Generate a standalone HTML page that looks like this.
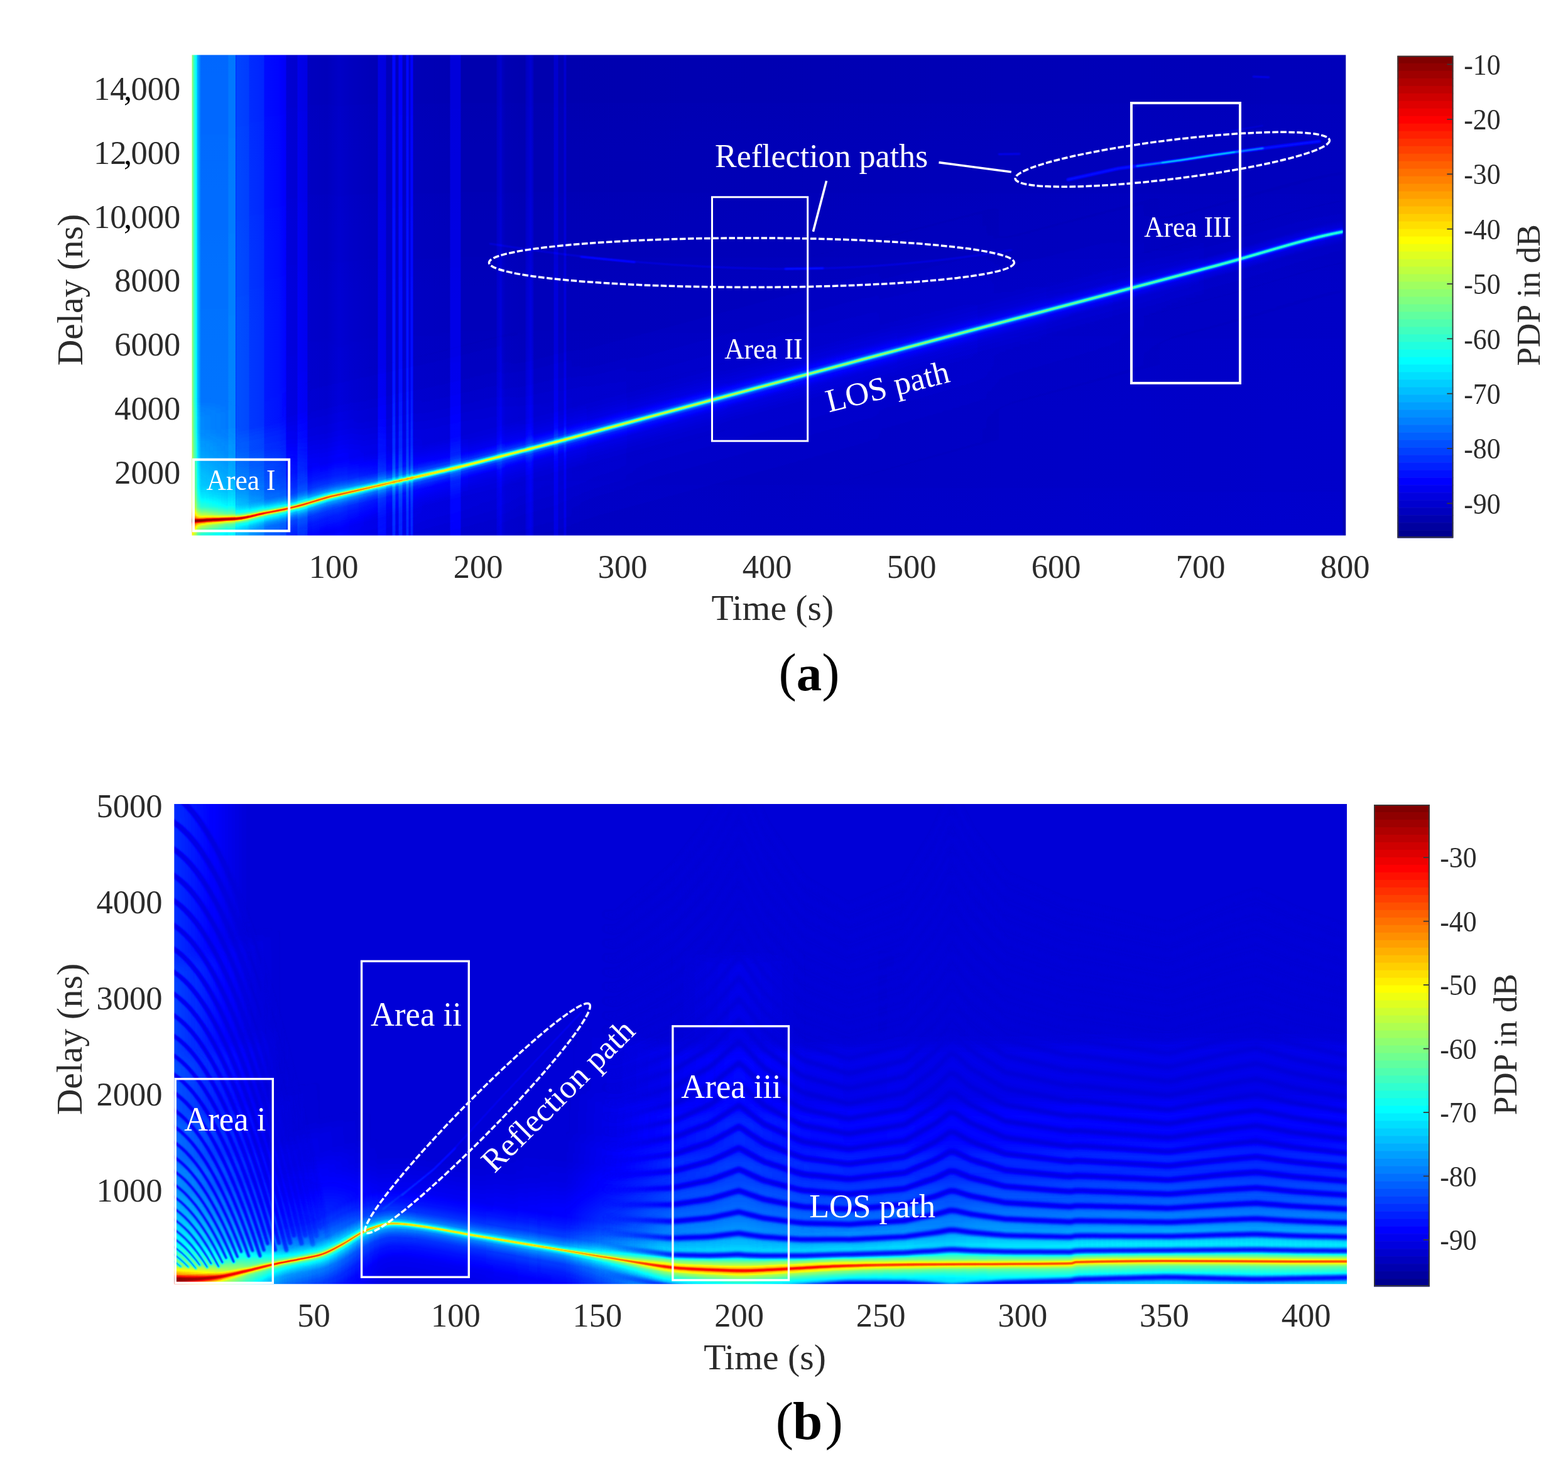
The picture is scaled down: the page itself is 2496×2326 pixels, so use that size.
<!DOCTYPE html>
<html lang="en"><head><meta charset="utf-8"><title>PDP figure</title>
<style>
html,body{margin:0;padding:0;background:#fff}
body{width:2496px;height:2326px;overflow:hidden;position:relative}
svg{position:absolute;left:0;top:0;display:block}
text{font-family:"Liberation Serif","DejaVu Serif",serif}
.t{fill:#2b2b2b}
.w{fill:#fff}
.bx{fill:none;stroke:#fff;stroke-width:4}
.el{fill:none;stroke:#fff;stroke-width:3.5;stroke-dasharray:9.6 3.4}
.ln{fill:none;stroke:#fff;stroke-width:3.6}
</style></head>
<body>
<svg width="2496" height="2326" viewBox="0 0 2496 2326">
<defs>
<filter id="jet" filterUnits="userSpaceOnUse" x="0" y="0" width="2496" height="2326" color-interpolation-filters="sRGB">
<feComponentTransfer>
<feFuncR type="table" tableValues="0 0 0 0 0.5 1 1 1 0.5"/>
<feFuncG type="table" tableValues="0 0 0.5 1 1 1 0.5 0 0"/>
<feFuncB type="table" tableValues="0.5 1 1 1 0.5 0 0 0 0"/>
</feComponentTransfer>
</filter>
<clipPath id="ca"><rect x="305.5" y="87.5" width="1836.8" height="765.1"/></clipPath>
<clipPath id="cb"><rect x="277.3" y="1280.0" width="1866.7" height="764.2"/></clipPath>
<filter id="ba07" filterUnits="userSpaceOnUse" x="200" y="0" width="2050" height="960" color-interpolation-filters="sRGB"><feGaussianBlur stdDeviation="0.5 0.5"/></filter>
<filter id="bb07" filterUnits="userSpaceOnUse" x="170" y="1180" width="2080" height="970" color-interpolation-filters="sRGB"><feGaussianBlur stdDeviation="0.5 0.5"/></filter>
<filter id="ba1" filterUnits="userSpaceOnUse" x="200" y="0" width="2050" height="960" color-interpolation-filters="sRGB"><feGaussianBlur stdDeviation="1 1"/></filter>
<filter id="bb1" filterUnits="userSpaceOnUse" x="170" y="1180" width="2080" height="970" color-interpolation-filters="sRGB"><feGaussianBlur stdDeviation="1 1"/></filter>
<filter id="ba15" filterUnits="userSpaceOnUse" x="200" y="0" width="2050" height="960" color-interpolation-filters="sRGB"><feGaussianBlur stdDeviation="1.5 1.5"/></filter>
<filter id="bb15" filterUnits="userSpaceOnUse" x="170" y="1180" width="2080" height="970" color-interpolation-filters="sRGB"><feGaussianBlur stdDeviation="1.5 1.5"/></filter>
<filter id="ba2" filterUnits="userSpaceOnUse" x="200" y="0" width="2050" height="960" color-interpolation-filters="sRGB"><feGaussianBlur stdDeviation="2 2"/></filter>
<filter id="bb2" filterUnits="userSpaceOnUse" x="170" y="1180" width="2080" height="970" color-interpolation-filters="sRGB"><feGaussianBlur stdDeviation="2 2"/></filter>
<filter id="ba3" filterUnits="userSpaceOnUse" x="200" y="0" width="2050" height="960" color-interpolation-filters="sRGB"><feGaussianBlur stdDeviation="3 3"/></filter>
<filter id="bb3" filterUnits="userSpaceOnUse" x="170" y="1180" width="2080" height="970" color-interpolation-filters="sRGB"><feGaussianBlur stdDeviation="3 3"/></filter>
<filter id="ba5" filterUnits="userSpaceOnUse" x="200" y="0" width="2050" height="960" color-interpolation-filters="sRGB"><feGaussianBlur stdDeviation="5 5"/></filter>
<filter id="bb5" filterUnits="userSpaceOnUse" x="170" y="1180" width="2080" height="970" color-interpolation-filters="sRGB"><feGaussianBlur stdDeviation="5 5"/></filter>
<filter id="ba10" filterUnits="userSpaceOnUse" x="200" y="0" width="2050" height="960" color-interpolation-filters="sRGB"><feGaussianBlur stdDeviation="10 10"/></filter>
<filter id="bb10" filterUnits="userSpaceOnUse" x="170" y="1180" width="2080" height="970" color-interpolation-filters="sRGB"><feGaussianBlur stdDeviation="10 10"/></filter>
</defs>
<defs>
<linearGradient id="ga" gradientUnits="userSpaceOnUse" x1="305.5" y1="0" x2="2142.3" y2="0"><stop offset="0.0000" stop-color="rgb(52.0%,52.0%,52.0%)"/><stop offset="0.0011" stop-color="rgb(47.0%,47.0%,47.0%)"/><stop offset="0.0019" stop-color="rgb(42.0%,42.0%,42.0%)"/><stop offset="0.0041" stop-color="rgb(36.0%,36.0%,36.0%)"/><stop offset="0.0046" stop-color="rgb(30.0%,30.0%,30.0%)"/><stop offset="0.0068" stop-color="rgb(25.0%,25.0%,25.0%)"/><stop offset="0.0079" stop-color="rgb(22.5%,22.5%,22.5%)"/><stop offset="0.0313" stop-color="rgb(22.5%,22.5%,22.5%)"/><stop offset="0.0318" stop-color="rgb(24.0%,24.0%,24.0%)"/><stop offset="0.0378" stop-color="rgb(24.0%,24.0%,24.0%)"/><stop offset="0.0381" stop-color="rgb(16.0%,16.0%,16.0%)"/><stop offset="0.0387" stop-color="rgb(19.0%,19.0%,19.0%)"/><stop offset="0.0493" stop-color="rgb(18.0%,18.0%,18.0%)"/><stop offset="0.0498" stop-color="rgb(16.5%,16.5%,16.5%)"/><stop offset="0.0623" stop-color="rgb(15.5%,15.5%,15.5%)"/><stop offset="0.0629" stop-color="rgb(13.5%,13.5%,13.5%)"/><stop offset="0.0759" stop-color="rgb(12.5%,12.5%,12.5%)"/><stop offset="0.0765" stop-color="rgb(12.0%,12.0%,12.0%)"/><stop offset="0.0814" stop-color="rgb(11.5%,11.5%,11.5%)"/><stop offset="0.0819" stop-color="rgb(8.0%,8.0%,8.0%)"/><stop offset="0.0912" stop-color="rgb(7.5%,7.5%,7.5%)"/><stop offset="0.0917" stop-color="rgb(10.0%,10.0%,10.0%)"/><stop offset="0.0999" stop-color="rgb(9.5%,9.5%,9.5%)"/><stop offset="0.1004" stop-color="rgb(6.0%,6.0%,6.0%)"/><stop offset="0.1168" stop-color="rgb(5.5%,5.5%,5.5%)"/><stop offset="0.1277" stop-color="rgb(6.5%,6.5%,6.5%)"/><stop offset="0.1386" stop-color="rgb(6.0%,6.0%,6.0%)"/><stop offset="0.1609" stop-color="rgb(5.2%,5.2%,5.2%)"/><stop offset="0.1614" stop-color="rgb(9.5%,9.5%,9.5%)"/><stop offset="0.1680" stop-color="rgb(9.0%,9.0%,9.0%)"/><stop offset="0.1685" stop-color="rgb(5.5%,5.5%,5.5%)"/><stop offset="0.1734" stop-color="rgb(5.5%,5.5%,5.5%)"/><stop offset="0.1739" stop-color="rgb(13.0%,13.0%,13.0%)"/><stop offset="0.1761" stop-color="rgb(13.0%,13.0%,13.0%)"/><stop offset="0.1767" stop-color="rgb(6.0%,6.0%,6.0%)"/><stop offset="0.1788" stop-color="rgb(6.0%,6.0%,6.0%)"/><stop offset="0.1794" stop-color="rgb(12.0%,12.0%,12.0%)"/><stop offset="0.1821" stop-color="rgb(12.0%,12.0%,12.0%)"/><stop offset="0.1827" stop-color="rgb(6.0%,6.0%,6.0%)"/><stop offset="0.1854" stop-color="rgb(6.0%,6.0%,6.0%)"/><stop offset="0.1859" stop-color="rgb(13.0%,13.0%,13.0%)"/><stop offset="0.1876" stop-color="rgb(13.0%,13.0%,13.0%)"/><stop offset="0.1881" stop-color="rgb(7.0%,7.0%,7.0%)"/><stop offset="0.1892" stop-color="rgb(7.0%,7.0%,7.0%)"/><stop offset="0.1897" stop-color="rgb(12.0%,12.0%,12.0%)"/><stop offset="0.1914" stop-color="rgb(12.0%,12.0%,12.0%)"/><stop offset="0.1919" stop-color="rgb(5.0%,5.0%,5.0%)"/><stop offset="0.2235" stop-color="rgb(4.7%,4.7%,4.7%)"/><stop offset="0.2240" stop-color="rgb(8.5%,8.5%,8.5%)"/><stop offset="0.2327" stop-color="rgb(8.5%,8.5%,8.5%)"/><stop offset="0.2333" stop-color="rgb(4.5%,4.5%,4.5%)"/><stop offset="0.2638" stop-color="rgb(4.5%,4.5%,4.5%)"/><stop offset="0.2643" stop-color="rgb(6.0%,6.0%,6.0%)"/><stop offset="0.2681" stop-color="rgb(7.5%,7.5%,7.5%)"/><stop offset="0.2687" stop-color="rgb(6.0%,6.0%,6.0%)"/><stop offset="0.2719" stop-color="rgb(4.7%,4.7%,4.7%)"/><stop offset="0.2888" stop-color="rgb(4.5%,4.5%,4.5%)"/><stop offset="0.2894" stop-color="rgb(6.0%,6.0%,6.0%)"/><stop offset="0.2937" stop-color="rgb(8.0%,8.0%,8.0%)"/><stop offset="0.2959" stop-color="rgb(6.0%,6.0%,6.0%)"/><stop offset="0.2964" stop-color="rgb(4.5%,4.5%,4.5%)"/><stop offset="0.3133" stop-color="rgb(4.5%,4.5%,4.5%)"/><stop offset="0.3139" stop-color="rgb(7.5%,7.5%,7.5%)"/><stop offset="0.3171" stop-color="rgb(7.5%,7.5%,7.5%)"/><stop offset="0.3177" stop-color="rgb(4.7%,4.7%,4.7%)"/><stop offset="0.3220" stop-color="rgb(4.7%,4.7%,4.7%)"/><stop offset="0.3226" stop-color="rgb(7.5%,7.5%,7.5%)"/><stop offset="0.3242" stop-color="rgb(7.5%,7.5%,7.5%)"/><stop offset="0.3247" stop-color="rgb(4.5%,4.5%,4.5%)"/><stop offset="0.5414" stop-color="rgb(4.6%,4.6%,4.6%)"/><stop offset="0.7592" stop-color="rgb(5.2%,5.2%,5.2%)"/><stop offset="1.0000" stop-color="rgb(5.5%,5.5%,5.5%)"/></linearGradient>
<linearGradient id="gva" gradientUnits="userSpaceOnUse" x1="0" y1="87.5" x2="0" y2="852.6"><stop offset="0.0000" stop-color="#fff" stop-opacity="0.0040"/><stop offset="0.2777" stop-color="#fff" stop-opacity="0.0100"/><stop offset="0.5391" stop-color="#fff" stop-opacity="0.0180"/><stop offset="0.9992" stop-color="#fff" stop-opacity="0.0240"/></linearGradient>
<path id="hap" d="M223.0,829.6C249.7,829.6 276.3,830.1 303.0,829.6C315.0,829.4 327.0,828.1 339.0,827.5C351.3,826.9 363.7,826.7 376.0,825.8C381.4,825.4 386.7,824.6 392.0,823.6C400.7,821.9 409.3,819.5 418.0,817.7C431.0,815.0 444.1,812.8 457.0,809.9C465.7,808.0 474.4,805.7 483.0,803.3C496.1,799.6 508.9,795.2 522.0,791.6C527.9,789.9 534.0,788.8 540.0,787.4C568.2,780.9 596.3,774.5 624.5,768.0C659.2,760.0 694.0,752.4 728.6,744.0C765.8,734.9 802.9,725.1 840.0,715.5C856.7,711.2 873.4,706.9 890.0,702.4C1090.0,648.7 1289.9,594.4 1490.0,540.9C1639.9,500.9 1790.0,461.7 1940.0,421.9C2005.7,404.4 2070.2,381.8 2137.0,369.0C2163.2,364.0 2190.3,369.0 2217.0,369.0"/>
<linearGradient id="ha1" gradientUnits="userSpaceOnUse" x1="305.5" y1="0" x2="2142.3" y2="0"><stop offset="0.0000" stop-color="#fff" stop-opacity="0.0296"/><stop offset="0.0079" stop-color="#fff" stop-opacity="0.0294"/><stop offset="0.0188" stop-color="#fff" stop-opacity="0.0194"/><stop offset="0.0406" stop-color="#fff" stop-opacity="0.0000"/><stop offset="0.0542" stop-color="#fff" stop-opacity="0.0000"/><stop offset="0.0678" stop-color="#fff" stop-opacity="0.0000"/><stop offset="0.0868" stop-color="#fff" stop-opacity="0.0037"/><stop offset="0.1059" stop-color="#fff" stop-opacity="0.0074"/><stop offset="0.1277" stop-color="#fff" stop-opacity="0.0074"/><stop offset="0.1603" stop-color="#fff" stop-opacity="0.0071"/><stop offset="0.1876" stop-color="#fff" stop-opacity="0.0069"/><stop offset="0.2148" stop-color="#fff" stop-opacity="0.0066"/><stop offset="0.2692" stop-color="#fff" stop-opacity="0.0060"/><stop offset="0.3237" stop-color="#fff" stop-opacity="0.0055"/><stop offset="0.4325" stop-color="#fff" stop-opacity="0.0045"/><stop offset="0.5414" stop-color="#fff" stop-opacity="0.0036"/><stop offset="0.6503" stop-color="#fff" stop-opacity="0.0028"/><stop offset="0.8136" stop-color="#fff" stop-opacity="0.0000"/><stop offset="0.9225" stop-color="#fff" stop-opacity="0.0000"/><stop offset="0.9971" stop-color="#fff" stop-opacity="0.0000"/></linearGradient>
<linearGradient id="ha2" gradientUnits="userSpaceOnUse" x1="305.5" y1="0" x2="2142.3" y2="0"><stop offset="0.0000" stop-color="#fff" stop-opacity="0.0305"/><stop offset="0.0079" stop-color="#fff" stop-opacity="0.0303"/><stop offset="0.0188" stop-color="#fff" stop-opacity="0.0264"/><stop offset="0.0406" stop-color="#fff" stop-opacity="0.0185"/><stop offset="0.0542" stop-color="#fff" stop-opacity="0.0189"/><stop offset="0.0678" stop-color="#fff" stop-opacity="0.0196"/><stop offset="0.0868" stop-color="#fff" stop-opacity="0.0153"/><stop offset="0.1059" stop-color="#fff" stop-opacity="0.0113"/><stop offset="0.1277" stop-color="#fff" stop-opacity="0.0106"/><stop offset="0.1603" stop-color="#fff" stop-opacity="0.0093"/><stop offset="0.1876" stop-color="#fff" stop-opacity="0.0083"/><stop offset="0.2148" stop-color="#fff" stop-opacity="0.0074"/><stop offset="0.2692" stop-color="#fff" stop-opacity="0.0067"/><stop offset="0.3237" stop-color="#fff" stop-opacity="0.0061"/><stop offset="0.4325" stop-color="#fff" stop-opacity="0.0050"/><stop offset="0.5414" stop-color="#fff" stop-opacity="0.0041"/><stop offset="0.6503" stop-color="#fff" stop-opacity="0.0032"/><stop offset="0.8136" stop-color="#fff" stop-opacity="0.0021"/><stop offset="0.9225" stop-color="#fff" stop-opacity="0.0015"/><stop offset="0.9971" stop-color="#fff" stop-opacity="0.0000"/></linearGradient>
<linearGradient id="ha3" gradientUnits="userSpaceOnUse" x1="305.5" y1="0" x2="2142.3" y2="0"><stop offset="0.0000" stop-color="#fff" stop-opacity="0.0367"/><stop offset="0.0079" stop-color="#fff" stop-opacity="0.0364"/><stop offset="0.0188" stop-color="#fff" stop-opacity="0.0318"/><stop offset="0.0406" stop-color="#fff" stop-opacity="0.0225"/><stop offset="0.0542" stop-color="#fff" stop-opacity="0.0244"/><stop offset="0.0678" stop-color="#fff" stop-opacity="0.0266"/><stop offset="0.0868" stop-color="#fff" stop-opacity="0.0195"/><stop offset="0.1059" stop-color="#fff" stop-opacity="0.0128"/><stop offset="0.1277" stop-color="#fff" stop-opacity="0.0119"/><stop offset="0.1603" stop-color="#fff" stop-opacity="0.0103"/><stop offset="0.1876" stop-color="#fff" stop-opacity="0.0091"/><stop offset="0.2148" stop-color="#fff" stop-opacity="0.0080"/><stop offset="0.2692" stop-color="#fff" stop-opacity="0.0073"/><stop offset="0.3237" stop-color="#fff" stop-opacity="0.0066"/><stop offset="0.4325" stop-color="#fff" stop-opacity="0.0055"/><stop offset="0.5414" stop-color="#fff" stop-opacity="0.0044"/><stop offset="0.6503" stop-color="#fff" stop-opacity="0.0035"/><stop offset="0.8136" stop-color="#fff" stop-opacity="0.0027"/><stop offset="0.9225" stop-color="#fff" stop-opacity="0.0023"/><stop offset="0.9971" stop-color="#fff" stop-opacity="0.0020"/></linearGradient>
<linearGradient id="ha4" gradientUnits="userSpaceOnUse" x1="305.5" y1="0" x2="2142.3" y2="0"><stop offset="0.0000" stop-color="#fff" stop-opacity="0.0256"/><stop offset="0.0079" stop-color="#fff" stop-opacity="0.0254"/><stop offset="0.0188" stop-color="#fff" stop-opacity="0.0250"/><stop offset="0.0406" stop-color="#fff" stop-opacity="0.0237"/><stop offset="0.0542" stop-color="#fff" stop-opacity="0.0220"/><stop offset="0.0678" stop-color="#fff" stop-opacity="0.0209"/><stop offset="0.0868" stop-color="#fff" stop-opacity="0.0193"/><stop offset="0.1059" stop-color="#fff" stop-opacity="0.0179"/><stop offset="0.1277" stop-color="#fff" stop-opacity="0.0157"/><stop offset="0.1603" stop-color="#fff" stop-opacity="0.0123"/><stop offset="0.1876" stop-color="#fff" stop-opacity="0.0098"/><stop offset="0.2148" stop-color="#fff" stop-opacity="0.0075"/><stop offset="0.2692" stop-color="#fff" stop-opacity="0.0069"/><stop offset="0.3237" stop-color="#fff" stop-opacity="0.0063"/><stop offset="0.4325" stop-color="#fff" stop-opacity="0.0054"/><stop offset="0.5414" stop-color="#fff" stop-opacity="0.0045"/><stop offset="0.6503" stop-color="#fff" stop-opacity="0.0037"/><stop offset="0.8136" stop-color="#fff" stop-opacity="0.0028"/><stop offset="0.9225" stop-color="#fff" stop-opacity="0.0022"/><stop offset="0.9971" stop-color="#fff" stop-opacity="0.0019"/></linearGradient>
<linearGradient id="ha5" gradientUnits="userSpaceOnUse" x1="305.5" y1="0" x2="2142.3" y2="0"><stop offset="0.0000" stop-color="#fff" stop-opacity="0.0352"/><stop offset="0.0079" stop-color="#fff" stop-opacity="0.0349"/><stop offset="0.0188" stop-color="#fff" stop-opacity="0.0336"/><stop offset="0.0406" stop-color="#fff" stop-opacity="0.0303"/><stop offset="0.0542" stop-color="#fff" stop-opacity="0.0201"/><stop offset="0.0678" stop-color="#fff" stop-opacity="0.0115"/><stop offset="0.0868" stop-color="#fff" stop-opacity="0.0161"/><stop offset="0.1059" stop-color="#fff" stop-opacity="0.0206"/><stop offset="0.1277" stop-color="#fff" stop-opacity="0.0180"/><stop offset="0.1603" stop-color="#fff" stop-opacity="0.0138"/><stop offset="0.1876" stop-color="#fff" stop-opacity="0.0108"/><stop offset="0.2148" stop-color="#fff" stop-opacity="0.0081"/><stop offset="0.2692" stop-color="#fff" stop-opacity="0.0076"/><stop offset="0.3237" stop-color="#fff" stop-opacity="0.0070"/><stop offset="0.4325" stop-color="#fff" stop-opacity="0.0061"/><stop offset="0.5414" stop-color="#fff" stop-opacity="0.0053"/><stop offset="0.6503" stop-color="#fff" stop-opacity="0.0045"/><stop offset="0.8136" stop-color="#fff" stop-opacity="0.0032"/><stop offset="0.9225" stop-color="#fff" stop-opacity="0.0025"/><stop offset="0.9971" stop-color="#fff" stop-opacity="0.0020"/></linearGradient>
<linearGradient id="ha6" gradientUnits="userSpaceOnUse" x1="305.5" y1="0" x2="2142.3" y2="0"><stop offset="0.0000" stop-color="#fff" stop-opacity="0.0531"/><stop offset="0.0079" stop-color="#fff" stop-opacity="0.0526"/><stop offset="0.0188" stop-color="#fff" stop-opacity="0.0440"/><stop offset="0.0406" stop-color="#fff" stop-opacity="0.0274"/><stop offset="0.0542" stop-color="#fff" stop-opacity="0.0201"/><stop offset="0.0678" stop-color="#fff" stop-opacity="0.0142"/><stop offset="0.0868" stop-color="#fff" stop-opacity="0.0166"/><stop offset="0.1059" stop-color="#fff" stop-opacity="0.0191"/><stop offset="0.1277" stop-color="#fff" stop-opacity="0.0173"/><stop offset="0.1603" stop-color="#fff" stop-opacity="0.0143"/><stop offset="0.1876" stop-color="#fff" stop-opacity="0.0122"/><stop offset="0.2148" stop-color="#fff" stop-opacity="0.0102"/><stop offset="0.2692" stop-color="#fff" stop-opacity="0.0095"/><stop offset="0.3237" stop-color="#fff" stop-opacity="0.0088"/><stop offset="0.4325" stop-color="#fff" stop-opacity="0.0077"/><stop offset="0.5414" stop-color="#fff" stop-opacity="0.0066"/><stop offset="0.6503" stop-color="#fff" stop-opacity="0.0056"/><stop offset="0.8136" stop-color="#fff" stop-opacity="0.0041"/><stop offset="0.9225" stop-color="#fff" stop-opacity="0.0032"/><stop offset="0.9971" stop-color="#fff" stop-opacity="0.0027"/></linearGradient>
<linearGradient id="ha7" gradientUnits="userSpaceOnUse" x1="305.5" y1="0" x2="2142.3" y2="0"><stop offset="0.0000" stop-color="#fff" stop-opacity="0.0714"/><stop offset="0.0079" stop-color="#fff" stop-opacity="0.0707"/><stop offset="0.0188" stop-color="#fff" stop-opacity="0.0571"/><stop offset="0.0406" stop-color="#fff" stop-opacity="0.0319"/><stop offset="0.0542" stop-color="#fff" stop-opacity="0.0258"/><stop offset="0.0678" stop-color="#fff" stop-opacity="0.0211"/><stop offset="0.0868" stop-color="#fff" stop-opacity="0.0280"/><stop offset="0.1059" stop-color="#fff" stop-opacity="0.0349"/><stop offset="0.1277" stop-color="#fff" stop-opacity="0.0308"/><stop offset="0.1603" stop-color="#fff" stop-opacity="0.0242"/><stop offset="0.1876" stop-color="#fff" stop-opacity="0.0196"/><stop offset="0.2148" stop-color="#fff" stop-opacity="0.0155"/><stop offset="0.2692" stop-color="#fff" stop-opacity="0.0144"/><stop offset="0.3237" stop-color="#fff" stop-opacity="0.0133"/><stop offset="0.4325" stop-color="#fff" stop-opacity="0.0115"/><stop offset="0.5414" stop-color="#fff" stop-opacity="0.0099"/><stop offset="0.6503" stop-color="#fff" stop-opacity="0.0084"/><stop offset="0.8136" stop-color="#fff" stop-opacity="0.0062"/><stop offset="0.9225" stop-color="#fff" stop-opacity="0.0049"/><stop offset="0.9971" stop-color="#fff" stop-opacity="0.0041"/></linearGradient>
<linearGradient id="ha8" gradientUnits="userSpaceOnUse" x1="305.5" y1="0" x2="2142.3" y2="0"><stop offset="0.0000" stop-color="#fff" stop-opacity="0.0867"/><stop offset="0.0079" stop-color="#fff" stop-opacity="0.0858"/><stop offset="0.0188" stop-color="#fff" stop-opacity="0.0679"/><stop offset="0.0406" stop-color="#fff" stop-opacity="0.0360"/><stop offset="0.0542" stop-color="#fff" stop-opacity="0.0366"/><stop offset="0.0678" stop-color="#fff" stop-opacity="0.0380"/><stop offset="0.0868" stop-color="#fff" stop-opacity="0.0374"/><stop offset="0.1059" stop-color="#fff" stop-opacity="0.0373"/><stop offset="0.1277" stop-color="#fff" stop-opacity="0.0342"/><stop offset="0.1603" stop-color="#fff" stop-opacity="0.0289"/><stop offset="0.1876" stop-color="#fff" stop-opacity="0.0251"/><stop offset="0.2148" stop-color="#fff" stop-opacity="0.0218"/><stop offset="0.2692" stop-color="#fff" stop-opacity="0.0203"/><stop offset="0.3237" stop-color="#fff" stop-opacity="0.0190"/><stop offset="0.4325" stop-color="#fff" stop-opacity="0.0167"/><stop offset="0.5414" stop-color="#fff" stop-opacity="0.0146"/><stop offset="0.6503" stop-color="#fff" stop-opacity="0.0127"/><stop offset="0.8136" stop-color="#fff" stop-opacity="0.0099"/><stop offset="0.9225" stop-color="#fff" stop-opacity="0.0083"/><stop offset="0.9971" stop-color="#fff" stop-opacity="0.0073"/></linearGradient>
<linearGradient id="ha9" gradientUnits="userSpaceOnUse" x1="305.5" y1="0" x2="2142.3" y2="0"><stop offset="0.0000" stop-color="#fff" stop-opacity="0.1010"/><stop offset="0.0079" stop-color="#fff" stop-opacity="0.0998"/><stop offset="0.0188" stop-color="#fff" stop-opacity="0.0783"/><stop offset="0.0406" stop-color="#fff" stop-opacity="0.0418"/><stop offset="0.0542" stop-color="#fff" stop-opacity="0.0541"/><stop offset="0.0678" stop-color="#fff" stop-opacity="0.0659"/><stop offset="0.0868" stop-color="#fff" stop-opacity="0.0558"/><stop offset="0.1059" stop-color="#fff" stop-opacity="0.0467"/><stop offset="0.1277" stop-color="#fff" stop-opacity="0.0429"/><stop offset="0.1603" stop-color="#fff" stop-opacity="0.0363"/><stop offset="0.1876" stop-color="#fff" stop-opacity="0.0317"/><stop offset="0.2148" stop-color="#fff" stop-opacity="0.0275"/><stop offset="0.2692" stop-color="#fff" stop-opacity="0.0255"/><stop offset="0.3237" stop-color="#fff" stop-opacity="0.0235"/><stop offset="0.4325" stop-color="#fff" stop-opacity="0.0203"/><stop offset="0.5414" stop-color="#fff" stop-opacity="0.0173"/><stop offset="0.6503" stop-color="#fff" stop-opacity="0.0146"/><stop offset="0.8136" stop-color="#fff" stop-opacity="0.0117"/><stop offset="0.9225" stop-color="#fff" stop-opacity="0.0100"/><stop offset="0.9971" stop-color="#fff" stop-opacity="0.0090"/></linearGradient>
<linearGradient id="ha10" gradientUnits="userSpaceOnUse" x1="305.5" y1="0" x2="2142.3" y2="0"><stop offset="0.0000" stop-color="#fff" stop-opacity="0.1283"/><stop offset="0.0079" stop-color="#fff" stop-opacity="0.1267"/><stop offset="0.0188" stop-color="#fff" stop-opacity="0.1046"/><stop offset="0.0406" stop-color="#fff" stop-opacity="0.0680"/><stop offset="0.0542" stop-color="#fff" stop-opacity="0.0780"/><stop offset="0.0678" stop-color="#fff" stop-opacity="0.0885"/><stop offset="0.0868" stop-color="#fff" stop-opacity="0.0808"/><stop offset="0.1059" stop-color="#fff" stop-opacity="0.0745"/><stop offset="0.1277" stop-color="#fff" stop-opacity="0.0661"/><stop offset="0.1603" stop-color="#fff" stop-opacity="0.0527"/><stop offset="0.1876" stop-color="#fff" stop-opacity="0.0435"/><stop offset="0.2148" stop-color="#fff" stop-opacity="0.0354"/><stop offset="0.2692" stop-color="#fff" stop-opacity="0.0325"/><stop offset="0.3237" stop-color="#fff" stop-opacity="0.0297"/><stop offset="0.4325" stop-color="#fff" stop-opacity="0.0252"/><stop offset="0.5414" stop-color="#fff" stop-opacity="0.0211"/><stop offset="0.6503" stop-color="#fff" stop-opacity="0.0174"/><stop offset="0.8136" stop-color="#fff" stop-opacity="0.0142"/><stop offset="0.9225" stop-color="#fff" stop-opacity="0.0123"/><stop offset="0.9971" stop-color="#fff" stop-opacity="0.0112"/></linearGradient>
<linearGradient id="ha11" gradientUnits="userSpaceOnUse" x1="305.5" y1="0" x2="2142.3" y2="0"><stop offset="0.0000" stop-color="#fff" stop-opacity="0.1227"/><stop offset="0.0079" stop-color="#fff" stop-opacity="0.1209"/><stop offset="0.0188" stop-color="#fff" stop-opacity="0.1113"/><stop offset="0.0406" stop-color="#fff" stop-opacity="0.0935"/><stop offset="0.0542" stop-color="#fff" stop-opacity="0.0678"/><stop offset="0.0678" stop-color="#fff" stop-opacity="0.0467"/><stop offset="0.0868" stop-color="#fff" stop-opacity="0.0553"/><stop offset="0.1059" stop-color="#fff" stop-opacity="0.0642"/><stop offset="0.1277" stop-color="#fff" stop-opacity="0.0610"/><stop offset="0.1603" stop-color="#fff" stop-opacity="0.0543"/><stop offset="0.1876" stop-color="#fff" stop-opacity="0.0499"/><stop offset="0.2148" stop-color="#fff" stop-opacity="0.0458"/><stop offset="0.2692" stop-color="#fff" stop-opacity="0.0432"/><stop offset="0.3237" stop-color="#fff" stop-opacity="0.0408"/><stop offset="0.4325" stop-color="#fff" stop-opacity="0.0369"/><stop offset="0.5414" stop-color="#fff" stop-opacity="0.0333"/><stop offset="0.6503" stop-color="#fff" stop-opacity="0.0300"/><stop offset="0.8136" stop-color="#fff" stop-opacity="0.0241"/><stop offset="0.9225" stop-color="#fff" stop-opacity="0.0206"/><stop offset="0.9971" stop-color="#fff" stop-opacity="0.0186"/></linearGradient>
<linearGradient id="ha12" gradientUnits="userSpaceOnUse" x1="305.5" y1="0" x2="2142.3" y2="0"><stop offset="0.0000" stop-color="#fff" stop-opacity="0.1399"/><stop offset="0.0079" stop-color="#fff" stop-opacity="0.1375"/><stop offset="0.0188" stop-color="#fff" stop-opacity="0.1285"/><stop offset="0.0406" stop-color="#fff" stop-opacity="0.1107"/><stop offset="0.0542" stop-color="#fff" stop-opacity="0.0882"/><stop offset="0.0678" stop-color="#fff" stop-opacity="0.0715"/><stop offset="0.0868" stop-color="#fff" stop-opacity="0.0729"/><stop offset="0.1059" stop-color="#fff" stop-opacity="0.0754"/><stop offset="0.1277" stop-color="#fff" stop-opacity="0.0718"/><stop offset="0.1603" stop-color="#fff" stop-opacity="0.0642"/><stop offset="0.1876" stop-color="#fff" stop-opacity="0.0591"/><stop offset="0.2148" stop-color="#fff" stop-opacity="0.0545"/><stop offset="0.2692" stop-color="#fff" stop-opacity="0.0515"/><stop offset="0.3237" stop-color="#fff" stop-opacity="0.0487"/><stop offset="0.4325" stop-color="#fff" stop-opacity="0.0445"/><stop offset="0.5414" stop-color="#fff" stop-opacity="0.0405"/><stop offset="0.6503" stop-color="#fff" stop-opacity="0.0368"/><stop offset="0.8136" stop-color="#fff" stop-opacity="0.0311"/><stop offset="0.9225" stop-color="#fff" stop-opacity="0.0278"/><stop offset="0.9971" stop-color="#fff" stop-opacity="0.0258"/></linearGradient>
<linearGradient id="ha13" gradientUnits="userSpaceOnUse" x1="305.5" y1="0" x2="2142.3" y2="0"><stop offset="0.0000" stop-color="#fff" stop-opacity="0.2358"/><stop offset="0.0079" stop-color="#fff" stop-opacity="0.2312"/><stop offset="0.0188" stop-color="#fff" stop-opacity="0.2166"/><stop offset="0.0406" stop-color="#fff" stop-opacity="0.1868"/><stop offset="0.0542" stop-color="#fff" stop-opacity="0.1517"/><stop offset="0.0678" stop-color="#fff" stop-opacity="0.1277"/><stop offset="0.0868" stop-color="#fff" stop-opacity="0.1205"/><stop offset="0.1059" stop-color="#fff" stop-opacity="0.1156"/><stop offset="0.1277" stop-color="#fff" stop-opacity="0.1156"/><stop offset="0.1603" stop-color="#fff" stop-opacity="0.1102"/><stop offset="0.1876" stop-color="#fff" stop-opacity="0.1067"/><stop offset="0.2148" stop-color="#fff" stop-opacity="0.1030"/><stop offset="0.2692" stop-color="#fff" stop-opacity="0.0978"/><stop offset="0.3237" stop-color="#fff" stop-opacity="0.0929"/><stop offset="0.4325" stop-color="#fff" stop-opacity="0.0855"/><stop offset="0.5414" stop-color="#fff" stop-opacity="0.0787"/><stop offset="0.6503" stop-color="#fff" stop-opacity="0.0722"/><stop offset="0.8136" stop-color="#fff" stop-opacity="0.0640"/><stop offset="0.9225" stop-color="#fff" stop-opacity="0.0591"/><stop offset="0.9971" stop-color="#fff" stop-opacity="0.0563"/></linearGradient>
<linearGradient id="ha14" gradientUnits="userSpaceOnUse" x1="305.5" y1="0" x2="2142.3" y2="0"><stop offset="0.0000" stop-color="#fff" stop-opacity="0.3511"/><stop offset="0.0079" stop-color="#fff" stop-opacity="0.3422"/><stop offset="0.0188" stop-color="#fff" stop-opacity="0.2972"/><stop offset="0.0406" stop-color="#fff" stop-opacity="0.2238"/><stop offset="0.0542" stop-color="#fff" stop-opacity="0.1756"/><stop offset="0.0678" stop-color="#fff" stop-opacity="0.1451"/><stop offset="0.0868" stop-color="#fff" stop-opacity="0.1348"/><stop offset="0.1059" stop-color="#fff" stop-opacity="0.1276"/><stop offset="0.1277" stop-color="#fff" stop-opacity="0.1267"/><stop offset="0.1603" stop-color="#fff" stop-opacity="0.1189"/><stop offset="0.1876" stop-color="#fff" stop-opacity="0.1139"/><stop offset="0.2148" stop-color="#fff" stop-opacity="0.1088"/><stop offset="0.2692" stop-color="#fff" stop-opacity="0.1027"/><stop offset="0.3237" stop-color="#fff" stop-opacity="0.0970"/><stop offset="0.4325" stop-color="#fff" stop-opacity="0.0886"/><stop offset="0.5414" stop-color="#fff" stop-opacity="0.0809"/><stop offset="0.6503" stop-color="#fff" stop-opacity="0.0737"/><stop offset="0.8136" stop-color="#fff" stop-opacity="0.0648"/><stop offset="0.9225" stop-color="#fff" stop-opacity="0.0595"/><stop offset="0.9971" stop-color="#fff" stop-opacity="0.0565"/></linearGradient>
<linearGradient id="ha15" gradientUnits="userSpaceOnUse" x1="305.5" y1="0" x2="2142.3" y2="0"><stop offset="0.0000" stop-color="#fff" stop-opacity="0.5213"/><stop offset="0.0079" stop-color="#fff" stop-opacity="0.5013"/><stop offset="0.0188" stop-color="#fff" stop-opacity="0.4206"/><stop offset="0.0406" stop-color="#fff" stop-opacity="0.3035"/><stop offset="0.0542" stop-color="#fff" stop-opacity="0.2518"/><stop offset="0.0678" stop-color="#fff" stop-opacity="0.2264"/><stop offset="0.0868" stop-color="#fff" stop-opacity="0.2054"/><stop offset="0.1059" stop-color="#fff" stop-opacity="0.1903"/><stop offset="0.1277" stop-color="#fff" stop-opacity="0.1900"/><stop offset="0.1603" stop-color="#fff" stop-opacity="0.1781"/><stop offset="0.1876" stop-color="#fff" stop-opacity="0.1705"/><stop offset="0.2148" stop-color="#fff" stop-opacity="0.1627"/><stop offset="0.2692" stop-color="#fff" stop-opacity="0.1555"/><stop offset="0.3237" stop-color="#fff" stop-opacity="0.1486"/><stop offset="0.4325" stop-color="#fff" stop-opacity="0.1393"/><stop offset="0.5414" stop-color="#fff" stop-opacity="0.1305"/><stop offset="0.6503" stop-color="#fff" stop-opacity="0.1221"/><stop offset="0.8136" stop-color="#fff" stop-opacity="0.1105"/><stop offset="0.9225" stop-color="#fff" stop-opacity="0.1037"/><stop offset="0.9971" stop-color="#fff" stop-opacity="0.0998"/></linearGradient>
<linearGradient id="ha16" gradientUnits="userSpaceOnUse" x1="305.5" y1="0" x2="2142.3" y2="0"><stop offset="0.0000" stop-color="#fff" stop-opacity="0.7397"/><stop offset="0.0079" stop-color="#fff" stop-opacity="0.6827"/><stop offset="0.0188" stop-color="#fff" stop-opacity="0.5720"/><stop offset="0.0406" stop-color="#fff" stop-opacity="0.4248"/><stop offset="0.0542" stop-color="#fff" stop-opacity="0.3179"/><stop offset="0.0678" stop-color="#fff" stop-opacity="0.2682"/><stop offset="0.0868" stop-color="#fff" stop-opacity="0.2551"/><stop offset="0.1059" stop-color="#fff" stop-opacity="0.2503"/><stop offset="0.1277" stop-color="#fff" stop-opacity="0.2313"/><stop offset="0.1603" stop-color="#fff" stop-opacity="0.1917"/><stop offset="0.1876" stop-color="#fff" stop-opacity="0.1671"/><stop offset="0.2148" stop-color="#fff" stop-opacity="0.1457"/><stop offset="0.2692" stop-color="#fff" stop-opacity="0.1392"/><stop offset="0.3237" stop-color="#fff" stop-opacity="0.1330"/><stop offset="0.4325" stop-color="#fff" stop-opacity="0.1252"/><stop offset="0.5414" stop-color="#fff" stop-opacity="0.1176"/><stop offset="0.6503" stop-color="#fff" stop-opacity="0.1103"/><stop offset="0.8136" stop-color="#fff" stop-opacity="0.1020"/><stop offset="0.9225" stop-color="#fff" stop-opacity="0.0970"/><stop offset="0.9971" stop-color="#fff" stop-opacity="0.0942"/></linearGradient>
<linearGradient id="ha17" gradientUnits="userSpaceOnUse" x1="305.5" y1="0" x2="2142.3" y2="0"><stop offset="0.0000" stop-color="#fff" stop-opacity="0.4737"/><stop offset="0.0079" stop-color="#fff" stop-opacity="0.3587"/><stop offset="0.0188" stop-color="#fff" stop-opacity="0.5265"/><stop offset="0.0406" stop-color="#fff" stop-opacity="0.4923"/><stop offset="0.0542" stop-color="#fff" stop-opacity="0.3678"/><stop offset="0.0678" stop-color="#fff" stop-opacity="0.3333"/><stop offset="0.0868" stop-color="#fff" stop-opacity="0.3196"/><stop offset="0.1059" stop-color="#fff" stop-opacity="0.3193"/><stop offset="0.1277" stop-color="#fff" stop-opacity="0.2808"/><stop offset="0.1603" stop-color="#fff" stop-opacity="0.2127"/><stop offset="0.1876" stop-color="#fff" stop-opacity="0.1737"/><stop offset="0.2148" stop-color="#fff" stop-opacity="0.1422"/><stop offset="0.2692" stop-color="#fff" stop-opacity="0.1353"/><stop offset="0.3237" stop-color="#fff" stop-opacity="0.1288"/><stop offset="0.4325" stop-color="#fff" stop-opacity="0.1210"/><stop offset="0.5414" stop-color="#fff" stop-opacity="0.1135"/><stop offset="0.6503" stop-color="#fff" stop-opacity="0.1062"/><stop offset="0.8136" stop-color="#fff" stop-opacity="0.0988"/><stop offset="0.9225" stop-color="#fff" stop-opacity="0.0943"/><stop offset="0.9971" stop-color="#fff" stop-opacity="0.0918"/></linearGradient>
</defs>
<rect x="0" y="0" width="2496" height="2326" fill="#fff"/>
<g clip-path="url(#ca)"><g filter="url(#jet)">
<rect x="303.5" y="85.5" width="1840.8" height="769.1" fill="url(#ga)"/>
<rect x="303.5" y="85.5" width="1840.8" height="769.1" fill="url(#gva)"/>
<g filter="url(#ba1)" fill="none" stroke="#fff" stroke-linecap="round">
<path d="M780,388 Q1000,424 1230,428 Q1420,430 1610,398" stroke-width="3" stroke-opacity=".04"/>
<path d="M925,409 L1010,417.5" stroke-width="3" stroke-opacity=".07"/>
<path d="M1250,428 L1310,427" stroke-width="3" stroke-opacity=".08"/>
<path d="M1700,286 L1780,268.3 L1879.6,255 L1932.7,246.8 L2000,237.4 L2100,225" stroke-width="5" stroke-opacity=".09"/>
<path d="M1810,264.5 L1879.6,255 L1932.7,246.8 L2010,236" stroke-width="3.4" stroke-opacity=".13"/>
<path d="M1850,259 L1879.6,255 L1932.7,246.8 L1965,242" stroke-width="2.6" stroke-opacity=".13"/>
<path d="M1590,245.5 L1623,245" stroke-width="3" stroke-opacity=".06"/>
<path d="M1995,122 L2020,123" stroke-width="3" stroke-opacity=".06"/>
<path d="M1940,212 L2010,200" stroke-width="2.5" stroke-opacity=".03"/>
</g>
<g filter="url(#ba10)" fill="none" stroke-linejoin="round"><use href="#hap" stroke="url(#ha1)" stroke-width="360.0"/><use href="#hap" stroke="url(#ha2)" stroke-width="260.0"/><use href="#hap" stroke="url(#ha3)" stroke-width="190.0"/><use href="#hap" stroke="url(#ha4)" stroke-width="140.0"/></g>
<g filter="url(#ba5)" fill="none" stroke-linejoin="round"><use href="#hap" stroke="url(#ha5)" stroke-width="100.0"/><use href="#hap" stroke="url(#ha6)" stroke-width="72.0"/><use href="#hap" stroke="url(#ha7)" stroke-width="52.0"/></g>
<g filter="url(#ba2)" fill="none" stroke-linejoin="round"><use href="#hap" stroke="url(#ha8)" stroke-width="38.0"/><use href="#hap" stroke="url(#ha9)" stroke-width="28.0"/><use href="#hap" stroke="url(#ha10)" stroke-width="20.0"/></g>
<g filter="url(#ba07)" fill="none" stroke-linejoin="round"><use href="#hap" stroke="url(#ha11)" stroke-width="15.0"/><use href="#hap" stroke="url(#ha12)" stroke-width="11.0"/><use href="#hap" stroke="url(#ha13)" stroke-width="8.0"/><use href="#hap" stroke="url(#ha14)" stroke-width="6.0"/><use href="#hap" stroke="url(#ha15)" stroke-width="4.4"/><use href="#hap" stroke="url(#ha16)" stroke-width="3.2"/><use href="#hap" stroke="url(#ha17)" stroke-width="2.2"/></g>
<rect x="2137.6" y="80" width="6" height="780" fill="rgb(5.2%,5.2%,5.2%)"/>
</g></g>
<rect x="2224.4" y="88.80" width="89.0" height="12.59" fill="#800000"/>
<rect x="2224.4" y="100.79" width="89.0" height="12.59" fill="#8f0000"/>
<rect x="2224.4" y="112.78" width="89.0" height="12.59" fill="#9f0000"/>
<rect x="2224.4" y="124.77" width="89.0" height="12.59" fill="#af0000"/>
<rect x="2224.4" y="136.76" width="89.0" height="12.59" fill="#bf0000"/>
<rect x="2224.4" y="148.75" width="89.0" height="12.59" fill="#cf0000"/>
<rect x="2224.4" y="160.73" width="89.0" height="12.59" fill="#df0000"/>
<rect x="2224.4" y="172.72" width="89.0" height="12.59" fill="#ef0000"/>
<rect x="2224.4" y="184.71" width="89.0" height="12.59" fill="#ff0000"/>
<rect x="2224.4" y="196.70" width="89.0" height="12.59" fill="#ff1000"/>
<rect x="2224.4" y="208.69" width="89.0" height="12.59" fill="#ff2000"/>
<rect x="2224.4" y="220.68" width="89.0" height="12.59" fill="#ff3000"/>
<rect x="2224.4" y="232.67" width="89.0" height="12.59" fill="#ff4000"/>
<rect x="2224.4" y="244.66" width="89.0" height="12.59" fill="#ff5000"/>
<rect x="2224.4" y="256.65" width="89.0" height="12.59" fill="#ff6000"/>
<rect x="2224.4" y="268.64" width="89.0" height="12.59" fill="#ff7000"/>
<rect x="2224.4" y="280.62" width="89.0" height="12.59" fill="#ff8000"/>
<rect x="2224.4" y="292.61" width="89.0" height="12.59" fill="#ff8f00"/>
<rect x="2224.4" y="304.60" width="89.0" height="12.59" fill="#ff9f00"/>
<rect x="2224.4" y="316.59" width="89.0" height="12.59" fill="#ffaf00"/>
<rect x="2224.4" y="328.58" width="89.0" height="12.59" fill="#ffbf00"/>
<rect x="2224.4" y="340.57" width="89.0" height="12.59" fill="#ffcf00"/>
<rect x="2224.4" y="352.56" width="89.0" height="12.59" fill="#ffdf00"/>
<rect x="2224.4" y="364.55" width="89.0" height="12.59" fill="#ffef00"/>
<rect x="2224.4" y="376.54" width="89.0" height="12.59" fill="#ffff00"/>
<rect x="2224.4" y="388.53" width="89.0" height="12.59" fill="#efff10"/>
<rect x="2224.4" y="400.52" width="89.0" height="12.59" fill="#dfff20"/>
<rect x="2224.4" y="412.50" width="89.0" height="12.59" fill="#cfff30"/>
<rect x="2224.4" y="424.49" width="89.0" height="12.59" fill="#bfff40"/>
<rect x="2224.4" y="436.48" width="89.0" height="12.59" fill="#afff50"/>
<rect x="2224.4" y="448.47" width="89.0" height="12.59" fill="#9fff60"/>
<rect x="2224.4" y="460.46" width="89.0" height="12.59" fill="#8fff70"/>
<rect x="2224.4" y="472.45" width="89.0" height="12.59" fill="#80ff80"/>
<rect x="2224.4" y="484.44" width="89.0" height="12.59" fill="#70ff8f"/>
<rect x="2224.4" y="496.43" width="89.0" height="12.59" fill="#60ff9f"/>
<rect x="2224.4" y="508.42" width="89.0" height="12.59" fill="#50ffaf"/>
<rect x="2224.4" y="520.41" width="89.0" height="12.59" fill="#40ffbf"/>
<rect x="2224.4" y="532.40" width="89.0" height="12.59" fill="#30ffcf"/>
<rect x="2224.4" y="544.38" width="89.0" height="12.59" fill="#20ffdf"/>
<rect x="2224.4" y="556.37" width="89.0" height="12.59" fill="#10ffef"/>
<rect x="2224.4" y="568.36" width="89.0" height="12.59" fill="#00ffff"/>
<rect x="2224.4" y="580.35" width="89.0" height="12.59" fill="#00efff"/>
<rect x="2224.4" y="592.34" width="89.0" height="12.59" fill="#00dfff"/>
<rect x="2224.4" y="604.33" width="89.0" height="12.59" fill="#00cfff"/>
<rect x="2224.4" y="616.32" width="89.0" height="12.59" fill="#00bfff"/>
<rect x="2224.4" y="628.31" width="89.0" height="12.59" fill="#00afff"/>
<rect x="2224.4" y="640.30" width="89.0" height="12.59" fill="#009fff"/>
<rect x="2224.4" y="652.29" width="89.0" height="12.59" fill="#008fff"/>
<rect x="2224.4" y="664.27" width="89.0" height="12.59" fill="#0080ff"/>
<rect x="2224.4" y="676.26" width="89.0" height="12.59" fill="#0070ff"/>
<rect x="2224.4" y="688.25" width="89.0" height="12.59" fill="#0060ff"/>
<rect x="2224.4" y="700.24" width="89.0" height="12.59" fill="#0050ff"/>
<rect x="2224.4" y="712.23" width="89.0" height="12.59" fill="#0040ff"/>
<rect x="2224.4" y="724.22" width="89.0" height="12.59" fill="#0030ff"/>
<rect x="2224.4" y="736.21" width="89.0" height="12.59" fill="#0020ff"/>
<rect x="2224.4" y="748.20" width="89.0" height="12.59" fill="#0010ff"/>
<rect x="2224.4" y="760.19" width="89.0" height="12.59" fill="#0000ff"/>
<rect x="2224.4" y="772.18" width="89.0" height="12.59" fill="#0000ef"/>
<rect x="2224.4" y="784.17" width="89.0" height="12.59" fill="#0000df"/>
<rect x="2224.4" y="796.15" width="89.0" height="12.59" fill="#0000cf"/>
<rect x="2224.4" y="808.14" width="89.0" height="12.59" fill="#0000bf"/>
<rect x="2224.4" y="820.13" width="89.0" height="12.59" fill="#0000af"/>
<rect x="2224.4" y="832.12" width="89.0" height="12.59" fill="#00009f"/>
<rect x="2224.4" y="844.11" width="89.0" height="12.59" fill="#00008f"/>
<rect x="2225.3" y="89.7" width="87.2" height="765.5" fill="none" stroke="#383838" stroke-width="1.8"/>
<rect x="2303.4" y="800.5" width="9" height="1.8" fill="#383838"/>
<rect x="2303.4" y="713.1" width="9" height="1.8" fill="#383838"/>
<rect x="2303.4" y="625.8" width="9" height="1.8" fill="#383838"/>
<rect x="2303.4" y="538.4" width="9" height="1.8" fill="#383838"/>
<rect x="2303.4" y="451.1" width="9" height="1.8" fill="#383838"/>
<rect x="2303.4" y="363.7" width="9" height="1.8" fill="#383838"/>
<rect x="2303.4" y="276.3" width="9" height="1.8" fill="#383838"/>
<rect x="2303.4" y="189.0" width="9" height="1.8" fill="#383838"/>
<rect x="2303.4" y="101.6" width="9" height="1.8" fill="#383838"/>
<rect class="bx" x="308" y="731.7" width="152.2" height="113.6"/>
<rect class="bx" x="1133.5" y="313.8" width="152.2" height="388.3" style="stroke-width:3"/>
<rect class="bx" x="1801" y="164" width="173" height="445.9"/>
<ellipse class="el" cx="1196.5" cy="418.1" rx="418" ry="39.2"/>
<ellipse class="el" cx="1866.3" cy="253.8" rx="252" ry="31" transform="rotate(-7.0 1866.3 253.8)"/>
<path class="ln" d="M1315.6,287.9 L1294.4,368.8"/>
<path class="ln" d="M1494.5,258.6 L1609.8,273.7"/>
<defs>
<path id="hbp" d="M195.0,2037.5C221.7,2037.5 248.3,2037.7 275.0,2037.5C286.7,2037.4 298.4,2037.2 310.0,2036.5C323.5,2035.6 337.1,2034.8 350.5,2032.7C364.5,2030.5 378.2,2026.7 392.0,2023.5C406.4,2020.2 420.6,2016.2 435.0,2013.0C448.3,2010.0 461.7,2007.8 475.0,2005.0C487.9,2002.3 501.1,2000.8 513.5,1996.5C524.6,1992.7 534.7,1986.6 545.0,1981.0C555.9,1975.0 566.0,1967.5 577.0,1961.8C584.3,1958.0 592.1,1954.9 600.0,1952.5C607.2,1950.3 614.5,1948.4 622.0,1948.0C632.0,1947.5 642.0,1948.6 652.0,1949.7C668.1,1951.6 684.0,1954.4 700.0,1957.0C714.4,1959.4 728.6,1962.3 743.0,1964.8C782.0,1971.5 821.0,1977.9 860.0,1984.4C893.3,1990.0 926.6,1995.7 960.0,2001.0C996.0,2006.8 1031.8,2013.3 1068.0,2017.7C1088.6,2020.2 1109.3,2020.6 1130.0,2021.5C1148.7,2022.3 1167.3,2023.2 1186.0,2023.0C1209.7,2022.7 1233.3,2021.0 1257.0,2019.8C1284.7,2018.5 1312.3,2016.4 1340.0,2015.5C1380.0,2014.2 1420.0,2013.7 1460.0,2013.2C1493.3,2012.8 1526.7,2012.8 1560.0,2012.6C1608.3,2012.2 1656.7,2012.4 1705.0,2011.4C1707.7,2011.3 1710.3,2009.5 1713.0,2009.4C1759.3,2008.2 1805.7,2007.6 1852.0,2007.5C1921.3,2007.3 1990.7,2008.3 2060.0,2008.5C2088.7,2008.6 2117.3,2008.3 2146.0,2008.3C2172.7,2008.3 2199.3,2008.3 2226.0,2008.3"/>
<linearGradient id="hb0" gradientUnits="userSpaceOnUse" x1="277.3" y1="0" x2="2144.0" y2="0"><stop offset="0.0000" stop-color="#fff" stop-opacity="0.0791"/><stop offset="0.0122" stop-color="#fff" stop-opacity="0.0646"/><stop offset="0.0282" stop-color="#fff" stop-opacity="0.0441"/><stop offset="0.0443" stop-color="#fff" stop-opacity="0.0237"/><stop offset="0.0657" stop-color="#fff" stop-opacity="0.0000"/><stop offset="0.0925" stop-color="#fff" stop-opacity="0.0000"/><stop offset="0.1086" stop-color="#fff" stop-opacity="0.0000"/><stop offset="0.1300" stop-color="#fff" stop-opacity="0.0000"/><stop offset="0.1514" stop-color="#fff" stop-opacity="0.0000"/><stop offset="0.1729" stop-color="#fff" stop-opacity="0.0000"/><stop offset="0.1997" stop-color="#fff" stop-opacity="0.0000"/><stop offset="0.2264" stop-color="#fff" stop-opacity="0.0000"/><stop offset="0.2532" stop-color="#fff" stop-opacity="0.0000"/><stop offset="0.2800" stop-color="#fff" stop-opacity="0.0000"/><stop offset="0.3336" stop-color="#fff" stop-opacity="0.0000"/><stop offset="0.3872" stop-color="#fff" stop-opacity="0.0000"/><stop offset="0.4193" stop-color="#fff" stop-opacity="0.0000"/><stop offset="0.4514" stop-color="#fff" stop-opacity="0.0000"/><stop offset="0.4820" stop-color="#fff" stop-opacity="0.0000"/><stop offset="0.5157" stop-color="#fff" stop-opacity="0.0000"/><stop offset="0.5425" stop-color="#fff" stop-opacity="0.0000"/><stop offset="0.6014" stop-color="#fff" stop-opacity="0.0000"/><stop offset="0.6871" stop-color="#fff" stop-opacity="0.0000"/><stop offset="0.7621" stop-color="#fff" stop-opacity="0.0000"/><stop offset="0.8693" stop-color="#fff" stop-opacity="0.0000"/><stop offset="1.0000" stop-color="#fff" stop-opacity="0.0000"/></linearGradient>
<linearGradient id="hb1" gradientUnits="userSpaceOnUse" x1="277.3" y1="0" x2="2144.0" y2="0"><stop offset="0.0000" stop-color="#fff" stop-opacity="0.0161"/><stop offset="0.0122" stop-color="#fff" stop-opacity="0.0130"/><stop offset="0.0282" stop-color="#fff" stop-opacity="0.0087"/><stop offset="0.0443" stop-color="#fff" stop-opacity="0.0046"/><stop offset="0.0657" stop-color="#fff" stop-opacity="0.0000"/><stop offset="0.0925" stop-color="#fff" stop-opacity="0.0000"/><stop offset="0.1086" stop-color="#fff" stop-opacity="0.0000"/><stop offset="0.1300" stop-color="#fff" stop-opacity="0.0000"/><stop offset="0.1514" stop-color="#fff" stop-opacity="0.0000"/><stop offset="0.1729" stop-color="#fff" stop-opacity="0.0000"/><stop offset="0.1997" stop-color="#fff" stop-opacity="0.0000"/><stop offset="0.2264" stop-color="#fff" stop-opacity="0.0000"/><stop offset="0.2532" stop-color="#fff" stop-opacity="0.0000"/><stop offset="0.2800" stop-color="#fff" stop-opacity="0.0000"/><stop offset="0.3336" stop-color="#fff" stop-opacity="0.0000"/><stop offset="0.3872" stop-color="#fff" stop-opacity="0.0000"/><stop offset="0.4193" stop-color="#fff" stop-opacity="0.0000"/><stop offset="0.4514" stop-color="#fff" stop-opacity="0.0000"/><stop offset="0.4820" stop-color="#fff" stop-opacity="0.0000"/><stop offset="0.5157" stop-color="#fff" stop-opacity="0.0000"/><stop offset="0.5425" stop-color="#fff" stop-opacity="0.0000"/><stop offset="0.6014" stop-color="#fff" stop-opacity="0.0000"/><stop offset="0.6871" stop-color="#fff" stop-opacity="0.0000"/><stop offset="0.7621" stop-color="#fff" stop-opacity="0.0000"/><stop offset="0.8693" stop-color="#fff" stop-opacity="0.0000"/><stop offset="1.0000" stop-color="#fff" stop-opacity="0.0000"/></linearGradient>
<linearGradient id="hb2" gradientUnits="userSpaceOnUse" x1="277.3" y1="0" x2="2144.0" y2="0"><stop offset="0.0000" stop-color="#fff" stop-opacity="0.0273"/><stop offset="0.0122" stop-color="#fff" stop-opacity="0.0254"/><stop offset="0.0282" stop-color="#fff" stop-opacity="0.0229"/><stop offset="0.0443" stop-color="#fff" stop-opacity="0.0199"/><stop offset="0.0657" stop-color="#fff" stop-opacity="0.0169"/><stop offset="0.0925" stop-color="#fff" stop-opacity="0.0000"/><stop offset="0.1086" stop-color="#fff" stop-opacity="0.0000"/><stop offset="0.1300" stop-color="#fff" stop-opacity="0.0000"/><stop offset="0.1514" stop-color="#fff" stop-opacity="0.0000"/><stop offset="0.1729" stop-color="#fff" stop-opacity="0.0000"/><stop offset="0.1997" stop-color="#fff" stop-opacity="0.0000"/><stop offset="0.2264" stop-color="#fff" stop-opacity="0.0000"/><stop offset="0.2532" stop-color="#fff" stop-opacity="0.0000"/><stop offset="0.2800" stop-color="#fff" stop-opacity="0.0000"/><stop offset="0.3336" stop-color="#fff" stop-opacity="0.0000"/><stop offset="0.3872" stop-color="#fff" stop-opacity="0.0000"/><stop offset="0.4193" stop-color="#fff" stop-opacity="0.0000"/><stop offset="0.4514" stop-color="#fff" stop-opacity="0.0132"/><stop offset="0.4820" stop-color="#fff" stop-opacity="0.0257"/><stop offset="0.5157" stop-color="#fff" stop-opacity="0.0114"/><stop offset="0.5425" stop-color="#fff" stop-opacity="0.0000"/><stop offset="0.6014" stop-color="#fff" stop-opacity="0.0020"/><stop offset="0.6871" stop-color="#fff" stop-opacity="0.0047"/><stop offset="0.7621" stop-color="#fff" stop-opacity="0.0047"/><stop offset="0.8693" stop-color="#fff" stop-opacity="0.0047"/><stop offset="1.0000" stop-color="#fff" stop-opacity="0.0047"/></linearGradient>
<linearGradient id="hb3" gradientUnits="userSpaceOnUse" x1="277.3" y1="0" x2="2144.0" y2="0"><stop offset="0.0000" stop-color="#fff" stop-opacity="0.0184"/><stop offset="0.0122" stop-color="#fff" stop-opacity="0.0201"/><stop offset="0.0282" stop-color="#fff" stop-opacity="0.0225"/><stop offset="0.0443" stop-color="#fff" stop-opacity="0.0238"/><stop offset="0.0657" stop-color="#fff" stop-opacity="0.0258"/><stop offset="0.0925" stop-color="#fff" stop-opacity="0.0000"/><stop offset="0.1086" stop-color="#fff" stop-opacity="0.0000"/><stop offset="0.1300" stop-color="#fff" stop-opacity="0.0000"/><stop offset="0.1514" stop-color="#fff" stop-opacity="0.0000"/><stop offset="0.1729" stop-color="#fff" stop-opacity="0.0000"/><stop offset="0.1997" stop-color="#fff" stop-opacity="0.0000"/><stop offset="0.2264" stop-color="#fff" stop-opacity="0.0000"/><stop offset="0.2532" stop-color="#fff" stop-opacity="0.0000"/><stop offset="0.2800" stop-color="#fff" stop-opacity="0.0000"/><stop offset="0.3336" stop-color="#fff" stop-opacity="0.0000"/><stop offset="0.3872" stop-color="#fff" stop-opacity="0.0154"/><stop offset="0.4193" stop-color="#fff" stop-opacity="0.0274"/><stop offset="0.4514" stop-color="#fff" stop-opacity="0.0294"/><stop offset="0.4820" stop-color="#fff" stop-opacity="0.0308"/><stop offset="0.5157" stop-color="#fff" stop-opacity="0.0292"/><stop offset="0.5425" stop-color="#fff" stop-opacity="0.0279"/><stop offset="0.6014" stop-color="#fff" stop-opacity="0.0234"/><stop offset="0.6871" stop-color="#fff" stop-opacity="0.0191"/><stop offset="0.7621" stop-color="#fff" stop-opacity="0.0188"/><stop offset="0.8693" stop-color="#fff" stop-opacity="0.0188"/><stop offset="1.0000" stop-color="#fff" stop-opacity="0.0188"/></linearGradient>
<linearGradient id="hb4" gradientUnits="userSpaceOnUse" x1="277.3" y1="0" x2="2144.0" y2="0"><stop offset="0.0000" stop-color="#fff" stop-opacity="0.0369"/><stop offset="0.0122" stop-color="#fff" stop-opacity="0.0350"/><stop offset="0.0282" stop-color="#fff" stop-opacity="0.0327"/><stop offset="0.0443" stop-color="#fff" stop-opacity="0.0294"/><stop offset="0.0657" stop-color="#fff" stop-opacity="0.0265"/><stop offset="0.0925" stop-color="#fff" stop-opacity="0.0125"/><stop offset="0.1086" stop-color="#fff" stop-opacity="0.0070"/><stop offset="0.1300" stop-color="#fff" stop-opacity="0.0000"/><stop offset="0.1514" stop-color="#fff" stop-opacity="0.0000"/><stop offset="0.1729" stop-color="#fff" stop-opacity="0.0000"/><stop offset="0.1997" stop-color="#fff" stop-opacity="0.0000"/><stop offset="0.2264" stop-color="#fff" stop-opacity="0.0000"/><stop offset="0.2532" stop-color="#fff" stop-opacity="0.0000"/><stop offset="0.2800" stop-color="#fff" stop-opacity="0.0000"/><stop offset="0.3336" stop-color="#fff" stop-opacity="0.0000"/><stop offset="0.3872" stop-color="#fff" stop-opacity="0.0166"/><stop offset="0.4193" stop-color="#fff" stop-opacity="0.0298"/><stop offset="0.4514" stop-color="#fff" stop-opacity="0.0319"/><stop offset="0.4820" stop-color="#fff" stop-opacity="0.0335"/><stop offset="0.5157" stop-color="#fff" stop-opacity="0.0317"/><stop offset="0.5425" stop-color="#fff" stop-opacity="0.0303"/><stop offset="0.6014" stop-color="#fff" stop-opacity="0.0285"/><stop offset="0.6871" stop-color="#fff" stop-opacity="0.0284"/><stop offset="0.7621" stop-color="#fff" stop-opacity="0.0280"/><stop offset="0.8693" stop-color="#fff" stop-opacity="0.0280"/><stop offset="1.0000" stop-color="#fff" stop-opacity="0.0280"/></linearGradient>
<linearGradient id="hb5" gradientUnits="userSpaceOnUse" x1="277.3" y1="0" x2="2144.0" y2="0"><stop offset="0.0000" stop-color="#fff" stop-opacity="0.0442"/><stop offset="0.0122" stop-color="#fff" stop-opacity="0.0417"/><stop offset="0.0282" stop-color="#fff" stop-opacity="0.0385"/><stop offset="0.0443" stop-color="#fff" stop-opacity="0.0342"/><stop offset="0.0657" stop-color="#fff" stop-opacity="0.0303"/><stop offset="0.0925" stop-color="#fff" stop-opacity="0.0210"/><stop offset="0.1086" stop-color="#fff" stop-opacity="0.0189"/><stop offset="0.1300" stop-color="#fff" stop-opacity="0.0160"/><stop offset="0.1514" stop-color="#fff" stop-opacity="0.0075"/><stop offset="0.1729" stop-color="#fff" stop-opacity="0.0000"/><stop offset="0.1997" stop-color="#fff" stop-opacity="0.0000"/><stop offset="0.2264" stop-color="#fff" stop-opacity="0.0000"/><stop offset="0.2532" stop-color="#fff" stop-opacity="0.0000"/><stop offset="0.2800" stop-color="#fff" stop-opacity="0.0015"/><stop offset="0.3336" stop-color="#fff" stop-opacity="0.0048"/><stop offset="0.3872" stop-color="#fff" stop-opacity="0.0197"/><stop offset="0.4193" stop-color="#fff" stop-opacity="0.0322"/><stop offset="0.4514" stop-color="#fff" stop-opacity="0.0346"/><stop offset="0.4820" stop-color="#fff" stop-opacity="0.0365"/><stop offset="0.5157" stop-color="#fff" stop-opacity="0.0344"/><stop offset="0.5425" stop-color="#fff" stop-opacity="0.0327"/><stop offset="0.6014" stop-color="#fff" stop-opacity="0.0347"/><stop offset="0.6871" stop-color="#fff" stop-opacity="0.0400"/><stop offset="0.7621" stop-color="#fff" stop-opacity="0.0395"/><stop offset="0.8693" stop-color="#fff" stop-opacity="0.0395"/><stop offset="1.0000" stop-color="#fff" stop-opacity="0.0395"/></linearGradient>
<linearGradient id="hb6" gradientUnits="userSpaceOnUse" x1="277.3" y1="0" x2="2144.0" y2="0"><stop offset="0.0000" stop-color="#fff" stop-opacity="0.0535"/><stop offset="0.0122" stop-color="#fff" stop-opacity="0.0504"/><stop offset="0.0282" stop-color="#fff" stop-opacity="0.0465"/><stop offset="0.0443" stop-color="#fff" stop-opacity="0.0413"/><stop offset="0.0657" stop-color="#fff" stop-opacity="0.0367"/><stop offset="0.0925" stop-color="#fff" stop-opacity="0.0286"/><stop offset="0.1086" stop-color="#fff" stop-opacity="0.0251"/><stop offset="0.1300" stop-color="#fff" stop-opacity="0.0203"/><stop offset="0.1514" stop-color="#fff" stop-opacity="0.0124"/><stop offset="0.1729" stop-color="#fff" stop-opacity="0.0055"/><stop offset="0.1997" stop-color="#fff" stop-opacity="0.0052"/><stop offset="0.2264" stop-color="#fff" stop-opacity="0.0051"/><stop offset="0.2532" stop-color="#fff" stop-opacity="0.0051"/><stop offset="0.2800" stop-color="#fff" stop-opacity="0.0072"/><stop offset="0.3336" stop-color="#fff" stop-opacity="0.0120"/><stop offset="0.3872" stop-color="#fff" stop-opacity="0.0239"/><stop offset="0.4193" stop-color="#fff" stop-opacity="0.0343"/><stop offset="0.4514" stop-color="#fff" stop-opacity="0.0366"/><stop offset="0.4820" stop-color="#fff" stop-opacity="0.0383"/><stop offset="0.5157" stop-color="#fff" stop-opacity="0.0364"/><stop offset="0.5425" stop-color="#fff" stop-opacity="0.0349"/><stop offset="0.6014" stop-color="#fff" stop-opacity="0.0370"/><stop offset="0.6871" stop-color="#fff" stop-opacity="0.0428"/><stop offset="0.7621" stop-color="#fff" stop-opacity="0.0422"/><stop offset="0.8693" stop-color="#fff" stop-opacity="0.0422"/><stop offset="1.0000" stop-color="#fff" stop-opacity="0.0422"/></linearGradient>
<linearGradient id="hb7" gradientUnits="userSpaceOnUse" x1="277.3" y1="0" x2="2144.0" y2="0"><stop offset="0.0000" stop-color="#fff" stop-opacity="0.0586"/><stop offset="0.0122" stop-color="#fff" stop-opacity="0.0560"/><stop offset="0.0282" stop-color="#fff" stop-opacity="0.0528"/><stop offset="0.0443" stop-color="#fff" stop-opacity="0.0479"/><stop offset="0.0657" stop-color="#fff" stop-opacity="0.0438"/><stop offset="0.0925" stop-color="#fff" stop-opacity="0.0308"/><stop offset="0.1086" stop-color="#fff" stop-opacity="0.0283"/><stop offset="0.1300" stop-color="#fff" stop-opacity="0.0248"/><stop offset="0.1514" stop-color="#fff" stop-opacity="0.0179"/><stop offset="0.1729" stop-color="#fff" stop-opacity="0.0118"/><stop offset="0.1997" stop-color="#fff" stop-opacity="0.0111"/><stop offset="0.2264" stop-color="#fff" stop-opacity="0.0108"/><stop offset="0.2532" stop-color="#fff" stop-opacity="0.0109"/><stop offset="0.2800" stop-color="#fff" stop-opacity="0.0125"/><stop offset="0.3336" stop-color="#fff" stop-opacity="0.0166"/><stop offset="0.3872" stop-color="#fff" stop-opacity="0.0272"/><stop offset="0.4193" stop-color="#fff" stop-opacity="0.0367"/><stop offset="0.4514" stop-color="#fff" stop-opacity="0.0381"/><stop offset="0.4820" stop-color="#fff" stop-opacity="0.0389"/><stop offset="0.5157" stop-color="#fff" stop-opacity="0.0380"/><stop offset="0.5425" stop-color="#fff" stop-opacity="0.0374"/><stop offset="0.6014" stop-color="#fff" stop-opacity="0.0385"/><stop offset="0.6871" stop-color="#fff" stop-opacity="0.0434"/><stop offset="0.7621" stop-color="#fff" stop-opacity="0.0427"/><stop offset="0.8693" stop-color="#fff" stop-opacity="0.0427"/><stop offset="1.0000" stop-color="#fff" stop-opacity="0.0427"/></linearGradient>
<linearGradient id="hb8" gradientUnits="userSpaceOnUse" x1="277.3" y1="0" x2="2144.0" y2="0"><stop offset="0.0000" stop-color="#fff" stop-opacity="0.0647"/><stop offset="0.0122" stop-color="#fff" stop-opacity="0.0606"/><stop offset="0.0282" stop-color="#fff" stop-opacity="0.0557"/><stop offset="0.0443" stop-color="#fff" stop-opacity="0.0490"/><stop offset="0.0657" stop-color="#fff" stop-opacity="0.0432"/><stop offset="0.0925" stop-color="#fff" stop-opacity="0.0321"/><stop offset="0.1086" stop-color="#fff" stop-opacity="0.0300"/><stop offset="0.1300" stop-color="#fff" stop-opacity="0.0269"/><stop offset="0.1514" stop-color="#fff" stop-opacity="0.0220"/><stop offset="0.1729" stop-color="#fff" stop-opacity="0.0175"/><stop offset="0.1997" stop-color="#fff" stop-opacity="0.0165"/><stop offset="0.2264" stop-color="#fff" stop-opacity="0.0161"/><stop offset="0.2532" stop-color="#fff" stop-opacity="0.0161"/><stop offset="0.2800" stop-color="#fff" stop-opacity="0.0160"/><stop offset="0.3336" stop-color="#fff" stop-opacity="0.0164"/><stop offset="0.3872" stop-color="#fff" stop-opacity="0.0295"/><stop offset="0.4193" stop-color="#fff" stop-opacity="0.0414"/><stop offset="0.4514" stop-color="#fff" stop-opacity="0.0431"/><stop offset="0.4820" stop-color="#fff" stop-opacity="0.0440"/><stop offset="0.5157" stop-color="#fff" stop-opacity="0.0430"/><stop offset="0.5425" stop-color="#fff" stop-opacity="0.0422"/><stop offset="0.6014" stop-color="#fff" stop-opacity="0.0443"/><stop offset="0.6871" stop-color="#fff" stop-opacity="0.0513"/><stop offset="0.7621" stop-color="#fff" stop-opacity="0.0505"/><stop offset="0.8693" stop-color="#fff" stop-opacity="0.0505"/><stop offset="1.0000" stop-color="#fff" stop-opacity="0.0505"/></linearGradient>
<linearGradient id="hb9" gradientUnits="userSpaceOnUse" x1="277.3" y1="0" x2="2144.0" y2="0"><stop offset="0.0000" stop-color="#fff" stop-opacity="0.0881"/><stop offset="0.0122" stop-color="#fff" stop-opacity="0.0790"/><stop offset="0.0282" stop-color="#fff" stop-opacity="0.0674"/><stop offset="0.0443" stop-color="#fff" stop-opacity="0.0546"/><stop offset="0.0657" stop-color="#fff" stop-opacity="0.0425"/><stop offset="0.0925" stop-color="#fff" stop-opacity="0.0346"/><stop offset="0.1086" stop-color="#fff" stop-opacity="0.0323"/><stop offset="0.1300" stop-color="#fff" stop-opacity="0.0291"/><stop offset="0.1514" stop-color="#fff" stop-opacity="0.0260"/><stop offset="0.1729" stop-color="#fff" stop-opacity="0.0228"/><stop offset="0.1997" stop-color="#fff" stop-opacity="0.0215"/><stop offset="0.2264" stop-color="#fff" stop-opacity="0.0209"/><stop offset="0.2532" stop-color="#fff" stop-opacity="0.0210"/><stop offset="0.2800" stop-color="#fff" stop-opacity="0.0200"/><stop offset="0.3336" stop-color="#fff" stop-opacity="0.0187"/><stop offset="0.3872" stop-color="#fff" stop-opacity="0.0340"/><stop offset="0.4193" stop-color="#fff" stop-opacity="0.0483"/><stop offset="0.4514" stop-color="#fff" stop-opacity="0.0467"/><stop offset="0.4820" stop-color="#fff" stop-opacity="0.0442"/><stop offset="0.5157" stop-color="#fff" stop-opacity="0.0471"/><stop offset="0.5425" stop-color="#fff" stop-opacity="0.0493"/><stop offset="0.6014" stop-color="#fff" stop-opacity="0.0489"/><stop offset="0.6871" stop-color="#fff" stop-opacity="0.0530"/><stop offset="0.7621" stop-color="#fff" stop-opacity="0.0522"/><stop offset="0.8693" stop-color="#fff" stop-opacity="0.0522"/><stop offset="1.0000" stop-color="#fff" stop-opacity="0.0522"/></linearGradient>
<linearGradient id="hb10" gradientUnits="userSpaceOnUse" x1="277.3" y1="0" x2="2144.0" y2="0"><stop offset="0.0000" stop-color="#fff" stop-opacity="0.0927"/><stop offset="0.0122" stop-color="#fff" stop-opacity="0.0885"/><stop offset="0.0282" stop-color="#fff" stop-opacity="0.0838"/><stop offset="0.0443" stop-color="#fff" stop-opacity="0.0758"/><stop offset="0.0657" stop-color="#fff" stop-opacity="0.0699"/><stop offset="0.0925" stop-color="#fff" stop-opacity="0.0410"/><stop offset="0.1086" stop-color="#fff" stop-opacity="0.0426"/><stop offset="0.1300" stop-color="#fff" stop-opacity="0.0440"/><stop offset="0.1514" stop-color="#fff" stop-opacity="0.0355"/><stop offset="0.1729" stop-color="#fff" stop-opacity="0.0277"/><stop offset="0.1997" stop-color="#fff" stop-opacity="0.0261"/><stop offset="0.2264" stop-color="#fff" stop-opacity="0.0254"/><stop offset="0.2532" stop-color="#fff" stop-opacity="0.0255"/><stop offset="0.2800" stop-color="#fff" stop-opacity="0.0265"/><stop offset="0.3336" stop-color="#fff" stop-opacity="0.0300"/><stop offset="0.3872" stop-color="#fff" stop-opacity="0.0377"/><stop offset="0.4193" stop-color="#fff" stop-opacity="0.0457"/><stop offset="0.4514" stop-color="#fff" stop-opacity="0.0472"/><stop offset="0.4820" stop-color="#fff" stop-opacity="0.0477"/><stop offset="0.5157" stop-color="#fff" stop-opacity="0.0472"/><stop offset="0.5425" stop-color="#fff" stop-opacity="0.0467"/><stop offset="0.6014" stop-color="#fff" stop-opacity="0.0462"/><stop offset="0.6871" stop-color="#fff" stop-opacity="0.0503"/><stop offset="0.7621" stop-color="#fff" stop-opacity="0.0494"/><stop offset="0.8693" stop-color="#fff" stop-opacity="0.0494"/><stop offset="1.0000" stop-color="#fff" stop-opacity="0.0494"/></linearGradient>
<linearGradient id="hb11" gradientUnits="userSpaceOnUse" x1="277.3" y1="0" x2="2144.0" y2="0"><stop offset="0.0000" stop-color="#fff" stop-opacity="0.1051"/><stop offset="0.0122" stop-color="#fff" stop-opacity="0.0971"/><stop offset="0.0282" stop-color="#fff" stop-opacity="0.0877"/><stop offset="0.0443" stop-color="#fff" stop-opacity="0.0756"/><stop offset="0.0657" stop-color="#fff" stop-opacity="0.0656"/><stop offset="0.0925" stop-color="#fff" stop-opacity="0.0438"/><stop offset="0.1086" stop-color="#fff" stop-opacity="0.0438"/><stop offset="0.1300" stop-color="#fff" stop-opacity="0.0432"/><stop offset="0.1514" stop-color="#fff" stop-opacity="0.0381"/><stop offset="0.1729" stop-color="#fff" stop-opacity="0.0330"/><stop offset="0.1997" stop-color="#fff" stop-opacity="0.0310"/><stop offset="0.2264" stop-color="#fff" stop-opacity="0.0302"/><stop offset="0.2532" stop-color="#fff" stop-opacity="0.0303"/><stop offset="0.2800" stop-color="#fff" stop-opacity="0.0300"/><stop offset="0.3336" stop-color="#fff" stop-opacity="0.0309"/><stop offset="0.3872" stop-color="#fff" stop-opacity="0.0419"/><stop offset="0.4193" stop-color="#fff" stop-opacity="0.0532"/><stop offset="0.4514" stop-color="#fff" stop-opacity="0.0596"/><stop offset="0.4820" stop-color="#fff" stop-opacity="0.0647"/><stop offset="0.5157" stop-color="#fff" stop-opacity="0.0589"/><stop offset="0.5425" stop-color="#fff" stop-opacity="0.0544"/><stop offset="0.6014" stop-color="#fff" stop-opacity="0.0494"/><stop offset="0.6871" stop-color="#fff" stop-opacity="0.0477"/><stop offset="0.7621" stop-color="#fff" stop-opacity="0.0469"/><stop offset="0.8693" stop-color="#fff" stop-opacity="0.0469"/><stop offset="1.0000" stop-color="#fff" stop-opacity="0.0469"/></linearGradient>
<linearGradient id="hb12" gradientUnits="userSpaceOnUse" x1="277.3" y1="0" x2="2144.0" y2="0"><stop offset="0.0000" stop-color="#fff" stop-opacity="0.1687"/><stop offset="0.0122" stop-color="#fff" stop-opacity="0.1451"/><stop offset="0.0282" stop-color="#fff" stop-opacity="0.1165"/><stop offset="0.0443" stop-color="#fff" stop-opacity="0.0876"/><stop offset="0.0657" stop-color="#fff" stop-opacity="0.0616"/><stop offset="0.0925" stop-color="#fff" stop-opacity="0.0540"/><stop offset="0.1086" stop-color="#fff" stop-opacity="0.0544"/><stop offset="0.1300" stop-color="#fff" stop-opacity="0.0540"/><stop offset="0.1514" stop-color="#fff" stop-opacity="0.0444"/><stop offset="0.1729" stop-color="#fff" stop-opacity="0.0357"/><stop offset="0.1997" stop-color="#fff" stop-opacity="0.0335"/><stop offset="0.2264" stop-color="#fff" stop-opacity="0.0325"/><stop offset="0.2532" stop-color="#fff" stop-opacity="0.0326"/><stop offset="0.2800" stop-color="#fff" stop-opacity="0.0329"/><stop offset="0.3336" stop-color="#fff" stop-opacity="0.0349"/><stop offset="0.3872" stop-color="#fff" stop-opacity="0.0614"/><stop offset="0.4193" stop-color="#fff" stop-opacity="0.0882"/><stop offset="0.4514" stop-color="#fff" stop-opacity="0.0931"/><stop offset="0.4820" stop-color="#fff" stop-opacity="0.0958"/><stop offset="0.5157" stop-color="#fff" stop-opacity="0.0927"/><stop offset="0.5425" stop-color="#fff" stop-opacity="0.0904"/><stop offset="0.6014" stop-color="#fff" stop-opacity="0.0699"/><stop offset="0.6871" stop-color="#fff" stop-opacity="0.0496"/><stop offset="0.7621" stop-color="#fff" stop-opacity="0.0487"/><stop offset="0.8693" stop-color="#fff" stop-opacity="0.0487"/><stop offset="1.0000" stop-color="#fff" stop-opacity="0.0487"/></linearGradient>
<linearGradient id="hb13" gradientUnits="userSpaceOnUse" x1="277.3" y1="0" x2="2144.0" y2="0"><stop offset="0.0000" stop-color="#fff" stop-opacity="0.1743"/><stop offset="0.0122" stop-color="#fff" stop-opacity="0.1420"/><stop offset="0.0282" stop-color="#fff" stop-opacity="0.1052"/><stop offset="0.0443" stop-color="#fff" stop-opacity="0.0716"/><stop offset="0.0657" stop-color="#fff" stop-opacity="0.0425"/><stop offset="0.0925" stop-color="#fff" stop-opacity="0.0543"/><stop offset="0.1086" stop-color="#fff" stop-opacity="0.0555"/><stop offset="0.1300" stop-color="#fff" stop-opacity="0.0560"/><stop offset="0.1514" stop-color="#fff" stop-opacity="0.0479"/><stop offset="0.1729" stop-color="#fff" stop-opacity="0.0402"/><stop offset="0.1997" stop-color="#fff" stop-opacity="0.0377"/><stop offset="0.2264" stop-color="#fff" stop-opacity="0.0365"/><stop offset="0.2532" stop-color="#fff" stop-opacity="0.0367"/><stop offset="0.2800" stop-color="#fff" stop-opacity="0.0370"/><stop offset="0.3336" stop-color="#fff" stop-opacity="0.0393"/><stop offset="0.3872" stop-color="#fff" stop-opacity="0.0702"/><stop offset="0.4193" stop-color="#fff" stop-opacity="0.1032"/><stop offset="0.4514" stop-color="#fff" stop-opacity="0.1090"/><stop offset="0.4820" stop-color="#fff" stop-opacity="0.1120"/><stop offset="0.5157" stop-color="#fff" stop-opacity="0.1085"/><stop offset="0.5425" stop-color="#fff" stop-opacity="0.1059"/><stop offset="0.6014" stop-color="#fff" stop-opacity="0.0800"/><stop offset="0.6871" stop-color="#fff" stop-opacity="0.0553"/><stop offset="0.7621" stop-color="#fff" stop-opacity="0.0542"/><stop offset="0.8693" stop-color="#fff" stop-opacity="0.0542"/><stop offset="1.0000" stop-color="#fff" stop-opacity="0.0542"/></linearGradient>
<linearGradient id="hb14" gradientUnits="userSpaceOnUse" x1="277.3" y1="0" x2="2144.0" y2="0"><stop offset="0.0000" stop-color="#fff" stop-opacity="0.2346"/><stop offset="0.0122" stop-color="#fff" stop-opacity="0.1864"/><stop offset="0.0282" stop-color="#fff" stop-opacity="0.1357"/><stop offset="0.0443" stop-color="#fff" stop-opacity="0.0923"/><stop offset="0.0657" stop-color="#fff" stop-opacity="0.0576"/><stop offset="0.0925" stop-color="#fff" stop-opacity="0.0666"/><stop offset="0.1086" stop-color="#fff" stop-opacity="0.0649"/><stop offset="0.1300" stop-color="#fff" stop-opacity="0.0616"/><stop offset="0.1514" stop-color="#fff" stop-opacity="0.0537"/><stop offset="0.1729" stop-color="#fff" stop-opacity="0.0461"/><stop offset="0.1997" stop-color="#fff" stop-opacity="0.0431"/><stop offset="0.2264" stop-color="#fff" stop-opacity="0.0417"/><stop offset="0.2532" stop-color="#fff" stop-opacity="0.0419"/><stop offset="0.2800" stop-color="#fff" stop-opacity="0.0422"/><stop offset="0.3336" stop-color="#fff" stop-opacity="0.0451"/><stop offset="0.3872" stop-color="#fff" stop-opacity="0.0854"/><stop offset="0.4193" stop-color="#fff" stop-opacity="0.1316"/><stop offset="0.4514" stop-color="#fff" stop-opacity="0.1399"/><stop offset="0.4820" stop-color="#fff" stop-opacity="0.1443"/><stop offset="0.5157" stop-color="#fff" stop-opacity="0.1393"/><stop offset="0.5425" stop-color="#fff" stop-opacity="0.1355"/><stop offset="0.6014" stop-color="#fff" stop-opacity="0.1068"/><stop offset="0.6871" stop-color="#fff" stop-opacity="0.0846"/><stop offset="0.7621" stop-color="#fff" stop-opacity="0.0828"/><stop offset="0.8693" stop-color="#fff" stop-opacity="0.0828"/><stop offset="1.0000" stop-color="#fff" stop-opacity="0.0828"/></linearGradient>
<linearGradient id="hb15" gradientUnits="userSpaceOnUse" x1="277.3" y1="0" x2="2144.0" y2="0"><stop offset="0.0000" stop-color="#fff" stop-opacity="0.3591"/><stop offset="0.0122" stop-color="#fff" stop-opacity="0.2620"/><stop offset="0.0282" stop-color="#fff" stop-opacity="0.1712"/><stop offset="0.0443" stop-color="#fff" stop-opacity="0.1035"/><stop offset="0.0657" stop-color="#fff" stop-opacity="0.0528"/><stop offset="0.0925" stop-color="#fff" stop-opacity="0.0638"/><stop offset="0.1086" stop-color="#fff" stop-opacity="0.0619"/><stop offset="0.1300" stop-color="#fff" stop-opacity="0.0586"/><stop offset="0.1514" stop-color="#fff" stop-opacity="0.0511"/><stop offset="0.1729" stop-color="#fff" stop-opacity="0.0439"/><stop offset="0.1997" stop-color="#fff" stop-opacity="0.0409"/><stop offset="0.2264" stop-color="#fff" stop-opacity="0.0396"/><stop offset="0.2532" stop-color="#fff" stop-opacity="0.0397"/><stop offset="0.2800" stop-color="#fff" stop-opacity="0.0401"/><stop offset="0.3336" stop-color="#fff" stop-opacity="0.0429"/><stop offset="0.3872" stop-color="#fff" stop-opacity="0.0763"/><stop offset="0.4193" stop-color="#fff" stop-opacity="0.1188"/><stop offset="0.4514" stop-color="#fff" stop-opacity="0.1274"/><stop offset="0.4820" stop-color="#fff" stop-opacity="0.1321"/><stop offset="0.5157" stop-color="#fff" stop-opacity="0.1268"/><stop offset="0.5425" stop-color="#fff" stop-opacity="0.1228"/><stop offset="0.6014" stop-color="#fff" stop-opacity="0.0993"/><stop offset="0.6871" stop-color="#fff" stop-opacity="0.0853"/><stop offset="0.7621" stop-color="#fff" stop-opacity="0.0833"/><stop offset="0.8693" stop-color="#fff" stop-opacity="0.0833"/><stop offset="1.0000" stop-color="#fff" stop-opacity="0.0833"/></linearGradient>
<linearGradient id="hb16" gradientUnits="userSpaceOnUse" x1="277.3" y1="0" x2="2144.0" y2="0"><stop offset="0.0000" stop-color="#fff" stop-opacity="0.4358"/><stop offset="0.0122" stop-color="#fff" stop-opacity="0.3041"/><stop offset="0.0282" stop-color="#fff" stop-opacity="0.2101"/><stop offset="0.0443" stop-color="#fff" stop-opacity="0.1458"/><stop offset="0.0657" stop-color="#fff" stop-opacity="0.1067"/><stop offset="0.0925" stop-color="#fff" stop-opacity="0.0790"/><stop offset="0.1086" stop-color="#fff" stop-opacity="0.0766"/><stop offset="0.1300" stop-color="#fff" stop-opacity="0.0722"/><stop offset="0.1514" stop-color="#fff" stop-opacity="0.0608"/><stop offset="0.1729" stop-color="#fff" stop-opacity="0.0505"/><stop offset="0.1997" stop-color="#fff" stop-opacity="0.0469"/><stop offset="0.2264" stop-color="#fff" stop-opacity="0.0453"/><stop offset="0.2532" stop-color="#fff" stop-opacity="0.0455"/><stop offset="0.2800" stop-color="#fff" stop-opacity="0.0459"/><stop offset="0.3336" stop-color="#fff" stop-opacity="0.0493"/><stop offset="0.3872" stop-color="#fff" stop-opacity="0.0719"/><stop offset="0.4193" stop-color="#fff" stop-opacity="0.1040"/><stop offset="0.4514" stop-color="#fff" stop-opacity="0.1084"/><stop offset="0.4820" stop-color="#fff" stop-opacity="0.1087"/><stop offset="0.5157" stop-color="#fff" stop-opacity="0.1083"/><stop offset="0.5425" stop-color="#fff" stop-opacity="0.1080"/><stop offset="0.6014" stop-color="#fff" stop-opacity="0.0944"/><stop offset="0.6871" stop-color="#fff" stop-opacity="0.0932"/><stop offset="0.7621" stop-color="#fff" stop-opacity="0.0909"/><stop offset="0.8693" stop-color="#fff" stop-opacity="0.0909"/><stop offset="1.0000" stop-color="#fff" stop-opacity="0.0909"/></linearGradient>
<linearGradient id="hb17" gradientUnits="userSpaceOnUse" x1="277.3" y1="0" x2="2144.0" y2="0"><stop offset="0.0000" stop-color="#fff" stop-opacity="0.5297"/><stop offset="0.0122" stop-color="#fff" stop-opacity="0.3354"/><stop offset="0.0282" stop-color="#fff" stop-opacity="0.2379"/><stop offset="0.0443" stop-color="#fff" stop-opacity="0.1752"/><stop offset="0.0657" stop-color="#fff" stop-opacity="0.1447"/><stop offset="0.0925" stop-color="#fff" stop-opacity="0.0995"/><stop offset="0.1086" stop-color="#fff" stop-opacity="0.0962"/><stop offset="0.1300" stop-color="#fff" stop-opacity="0.0902"/><stop offset="0.1514" stop-color="#fff" stop-opacity="0.0730"/><stop offset="0.1729" stop-color="#fff" stop-opacity="0.0581"/><stop offset="0.1997" stop-color="#fff" stop-opacity="0.0537"/><stop offset="0.2264" stop-color="#fff" stop-opacity="0.0518"/><stop offset="0.2532" stop-color="#fff" stop-opacity="0.0520"/><stop offset="0.2800" stop-color="#fff" stop-opacity="0.0525"/><stop offset="0.3336" stop-color="#fff" stop-opacity="0.0566"/><stop offset="0.3872" stop-color="#fff" stop-opacity="0.0677"/><stop offset="0.4193" stop-color="#fff" stop-opacity="0.0860"/><stop offset="0.4514" stop-color="#fff" stop-opacity="0.1097"/><stop offset="0.4820" stop-color="#fff" stop-opacity="0.1303"/><stop offset="0.5157" stop-color="#fff" stop-opacity="0.1069"/><stop offset="0.5425" stop-color="#fff" stop-opacity="0.0897"/><stop offset="0.6014" stop-color="#fff" stop-opacity="0.0889"/><stop offset="0.6871" stop-color="#fff" stop-opacity="0.1028"/><stop offset="0.7621" stop-color="#fff" stop-opacity="0.1000"/><stop offset="0.8693" stop-color="#fff" stop-opacity="0.1000"/><stop offset="1.0000" stop-color="#fff" stop-opacity="0.1000"/></linearGradient>
<linearGradient id="hb18" gradientUnits="userSpaceOnUse" x1="277.3" y1="0" x2="2144.0" y2="0"><stop offset="0.0000" stop-color="#fff" stop-opacity="0.7508"/><stop offset="0.0122" stop-color="#fff" stop-opacity="0.3794"/><stop offset="0.0282" stop-color="#fff" stop-opacity="0.2664"/><stop offset="0.0443" stop-color="#fff" stop-opacity="0.1981"/><stop offset="0.0657" stop-color="#fff" stop-opacity="0.1717"/><stop offset="0.0925" stop-color="#fff" stop-opacity="0.1159"/><stop offset="0.1086" stop-color="#fff" stop-opacity="0.1117"/><stop offset="0.1300" stop-color="#fff" stop-opacity="0.1040"/><stop offset="0.1514" stop-color="#fff" stop-opacity="0.1014"/><stop offset="0.1729" stop-color="#fff" stop-opacity="0.0959"/><stop offset="0.1997" stop-color="#fff" stop-opacity="0.0883"/><stop offset="0.2264" stop-color="#fff" stop-opacity="0.0850"/><stop offset="0.2532" stop-color="#fff" stop-opacity="0.0853"/><stop offset="0.2800" stop-color="#fff" stop-opacity="0.0862"/><stop offset="0.3336" stop-color="#fff" stop-opacity="0.0933"/><stop offset="0.3872" stop-color="#fff" stop-opacity="0.1217"/><stop offset="0.4193" stop-color="#fff" stop-opacity="0.1680"/><stop offset="0.4514" stop-color="#fff" stop-opacity="0.1707"/><stop offset="0.4820" stop-color="#fff" stop-opacity="0.1650"/><stop offset="0.5157" stop-color="#fff" stop-opacity="0.1715"/><stop offset="0.5425" stop-color="#fff" stop-opacity="0.1760"/><stop offset="0.6014" stop-color="#fff" stop-opacity="0.1441"/><stop offset="0.6871" stop-color="#fff" stop-opacity="0.1348"/><stop offset="0.7621" stop-color="#fff" stop-opacity="0.1307"/><stop offset="0.8693" stop-color="#fff" stop-opacity="0.1307"/><stop offset="1.0000" stop-color="#fff" stop-opacity="0.1307"/></linearGradient>
<linearGradient id="hb19" gradientUnits="userSpaceOnUse" x1="277.3" y1="0" x2="2144.0" y2="0"><stop offset="0.0000" stop-color="#fff" stop-opacity="0.0000"/><stop offset="0.0122" stop-color="#fff" stop-opacity="0.2670"/><stop offset="0.0282" stop-color="#fff" stop-opacity="0.3061"/><stop offset="0.0443" stop-color="#fff" stop-opacity="0.2714"/><stop offset="0.0657" stop-color="#fff" stop-opacity="0.2738"/><stop offset="0.0925" stop-color="#fff" stop-opacity="0.1985"/><stop offset="0.1086" stop-color="#fff" stop-opacity="0.1987"/><stop offset="0.1300" stop-color="#fff" stop-opacity="0.1937"/><stop offset="0.1514" stop-color="#fff" stop-opacity="0.1606"/><stop offset="0.1729" stop-color="#fff" stop-opacity="0.1315"/><stop offset="0.1997" stop-color="#fff" stop-opacity="0.1200"/><stop offset="0.2264" stop-color="#fff" stop-opacity="0.1151"/><stop offset="0.2532" stop-color="#fff" stop-opacity="0.1156"/><stop offset="0.2800" stop-color="#fff" stop-opacity="0.1149"/><stop offset="0.3336" stop-color="#fff" stop-opacity="0.1208"/><stop offset="0.3872" stop-color="#fff" stop-opacity="0.1533"/><stop offset="0.4193" stop-color="#fff" stop-opacity="0.2126"/><stop offset="0.4514" stop-color="#fff" stop-opacity="0.2328"/><stop offset="0.4820" stop-color="#fff" stop-opacity="0.2412"/><stop offset="0.5157" stop-color="#fff" stop-opacity="0.2317"/><stop offset="0.5425" stop-color="#fff" stop-opacity="0.2250"/><stop offset="0.6014" stop-color="#fff" stop-opacity="0.1655"/><stop offset="0.6871" stop-color="#fff" stop-opacity="0.1372"/><stop offset="0.7621" stop-color="#fff" stop-opacity="0.1323"/><stop offset="0.8693" stop-color="#fff" stop-opacity="0.1323"/><stop offset="1.0000" stop-color="#fff" stop-opacity="0.1323"/></linearGradient>
<linearGradient id="hb20" gradientUnits="userSpaceOnUse" x1="277.3" y1="0" x2="2144.0" y2="0"><stop offset="0.0000" stop-color="#fff" stop-opacity="0.0000"/><stop offset="0.0122" stop-color="#fff" stop-opacity="0.3092"/><stop offset="0.0282" stop-color="#fff" stop-opacity="0.3744"/><stop offset="0.0443" stop-color="#fff" stop-opacity="0.3162"/><stop offset="0.0657" stop-color="#fff" stop-opacity="0.3199"/><stop offset="0.0925" stop-color="#fff" stop-opacity="0.2225"/><stop offset="0.1086" stop-color="#fff" stop-opacity="0.2221"/><stop offset="0.1300" stop-color="#fff" stop-opacity="0.2145"/><stop offset="0.1514" stop-color="#fff" stop-opacity="0.1993"/><stop offset="0.1729" stop-color="#fff" stop-opacity="0.1806"/><stop offset="0.1997" stop-color="#fff" stop-opacity="0.1627"/><stop offset="0.2264" stop-color="#fff" stop-opacity="0.1551"/><stop offset="0.2532" stop-color="#fff" stop-opacity="0.1559"/><stop offset="0.2800" stop-color="#fff" stop-opacity="0.1530"/><stop offset="0.3336" stop-color="#fff" stop-opacity="0.1579"/><stop offset="0.3872" stop-color="#fff" stop-opacity="0.1870"/><stop offset="0.4193" stop-color="#fff" stop-opacity="0.2513"/><stop offset="0.4514" stop-color="#fff" stop-opacity="0.2680"/><stop offset="0.4820" stop-color="#fff" stop-opacity="0.2657"/><stop offset="0.5157" stop-color="#fff" stop-opacity="0.2683"/><stop offset="0.5425" stop-color="#fff" stop-opacity="0.2701"/><stop offset="0.6014" stop-color="#fff" stop-opacity="0.2060"/><stop offset="0.6871" stop-color="#fff" stop-opacity="0.1954"/><stop offset="0.7621" stop-color="#fff" stop-opacity="0.1874"/><stop offset="0.8693" stop-color="#fff" stop-opacity="0.1874"/><stop offset="1.0000" stop-color="#fff" stop-opacity="0.1874"/></linearGradient>
<linearGradient id="hb21" gradientUnits="userSpaceOnUse" x1="277.3" y1="0" x2="2144.0" y2="0"><stop offset="0.0000" stop-color="#fff" stop-opacity="0.0000"/><stop offset="0.0122" stop-color="#fff" stop-opacity="0.0746"/><stop offset="0.0282" stop-color="#fff" stop-opacity="0.0997"/><stop offset="0.0443" stop-color="#fff" stop-opacity="0.0771"/><stop offset="0.0657" stop-color="#fff" stop-opacity="0.0784"/><stop offset="0.0925" stop-color="#fff" stop-opacity="0.2515"/><stop offset="0.1086" stop-color="#fff" stop-opacity="0.2411"/><stop offset="0.1300" stop-color="#fff" stop-opacity="0.2191"/><stop offset="0.1514" stop-color="#fff" stop-opacity="0.1867"/><stop offset="0.1729" stop-color="#fff" stop-opacity="0.1565"/><stop offset="0.1997" stop-color="#fff" stop-opacity="0.1380"/><stop offset="0.2264" stop-color="#fff" stop-opacity="0.1304"/><stop offset="0.2532" stop-color="#fff" stop-opacity="0.1312"/><stop offset="0.2800" stop-color="#fff" stop-opacity="0.1312"/><stop offset="0.3336" stop-color="#fff" stop-opacity="0.1429"/><stop offset="0.3872" stop-color="#fff" stop-opacity="0.1278"/><stop offset="0.4193" stop-color="#fff" stop-opacity="0.1119"/><stop offset="0.4514" stop-color="#fff" stop-opacity="0.0642"/><stop offset="0.4820" stop-color="#fff" stop-opacity="0.0000"/><stop offset="0.5157" stop-color="#fff" stop-opacity="0.0727"/><stop offset="0.5425" stop-color="#fff" stop-opacity="0.1234"/><stop offset="0.6014" stop-color="#fff" stop-opacity="0.1235"/><stop offset="0.6871" stop-color="#fff" stop-opacity="0.1619"/><stop offset="0.7621" stop-color="#fff" stop-opacity="0.1538"/><stop offset="0.8693" stop-color="#fff" stop-opacity="0.1538"/><stop offset="1.0000" stop-color="#fff" stop-opacity="0.1538"/></linearGradient>
<linearGradient id="hb22" gradientUnits="userSpaceOnUse" x1="277.3" y1="0" x2="2144.0" y2="0"><stop offset="0.0000" stop-color="#fff" stop-opacity="0.0000"/><stop offset="0.0122" stop-color="#fff" stop-opacity="0.0000"/><stop offset="0.0282" stop-color="#fff" stop-opacity="0.0000"/><stop offset="0.0443" stop-color="#fff" stop-opacity="0.0000"/><stop offset="0.0657" stop-color="#fff" stop-opacity="0.0000"/><stop offset="0.0925" stop-color="#fff" stop-opacity="0.1867"/><stop offset="0.1086" stop-color="#fff" stop-opacity="0.1765"/><stop offset="0.1300" stop-color="#fff" stop-opacity="0.1559"/><stop offset="0.1514" stop-color="#fff" stop-opacity="0.1534"/><stop offset="0.1729" stop-color="#fff" stop-opacity="0.1420"/><stop offset="0.1997" stop-color="#fff" stop-opacity="0.1225"/><stop offset="0.2264" stop-color="#fff" stop-opacity="0.1148"/><stop offset="0.2532" stop-color="#fff" stop-opacity="0.1156"/><stop offset="0.2800" stop-color="#fff" stop-opacity="0.1164"/><stop offset="0.3336" stop-color="#fff" stop-opacity="0.1302"/><stop offset="0.3872" stop-color="#fff" stop-opacity="0.0815"/><stop offset="0.4193" stop-color="#fff" stop-opacity="0.0000"/><stop offset="0.4514" stop-color="#fff" stop-opacity="0.0000"/><stop offset="0.4820" stop-color="#fff" stop-opacity="0.0000"/><stop offset="0.5157" stop-color="#fff" stop-opacity="0.0000"/><stop offset="0.5425" stop-color="#fff" stop-opacity="0.0000"/><stop offset="0.6014" stop-color="#fff" stop-opacity="0.0000"/><stop offset="0.6871" stop-color="#fff" stop-opacity="0.0000"/><stop offset="0.7621" stop-color="#fff" stop-opacity="0.0000"/><stop offset="0.8693" stop-color="#fff" stop-opacity="0.0000"/><stop offset="1.0000" stop-color="#fff" stop-opacity="0.0000"/></linearGradient>
</defs>
<g clip-path="url(#cb)"><g filter="url(#jet)">
<rect x="275.3" y="1278.0" width="1870.7" height="768.2" fill="rgb(8.6%,8.6%,8.6%)"/>
<g filter="url(#bb10)" fill="none" stroke-linejoin="round"><use href="#hbp" stroke="url(#hb0)" stroke-width="1800.0"/><use href="#hbp" stroke="url(#hb1)" stroke-width="1500.0"/><use href="#hbp" stroke="url(#hb2)" stroke-width="1000.0"/><use href="#hbp" stroke="url(#hb3)" stroke-width="700.0"/><use href="#hbp" stroke="url(#hb4)" stroke-width="500.0"/><use href="#hbp" stroke="url(#hb5)" stroke-width="360.0"/><use href="#hbp" stroke="url(#hb6)" stroke-width="260.0"/><use href="#hbp" stroke="url(#hb7)" stroke-width="190.0"/><use href="#hbp" stroke="url(#hb8)" stroke-width="140.0"/></g>
<g filter="url(#bb5)" fill="none" stroke-linejoin="round"><use href="#hbp" stroke="url(#hb9)" stroke-width="100.0"/><use href="#hbp" stroke="url(#hb10)" stroke-width="72.0"/><use href="#hbp" stroke="url(#hb11)" stroke-width="52.0"/></g>
<g filter="url(#bb2)" fill="none" stroke-linejoin="round"><use href="#hbp" stroke="url(#hb12)" stroke-width="38.0"/><use href="#hbp" stroke="url(#hb13)" stroke-width="28.0"/><use href="#hbp" stroke="url(#hb14)" stroke-width="20.0"/></g>
<linearGradient id="fgx" gradientUnits="userSpaceOnUse" x1="960" y1="0" x2="1080" y2="0"><stop offset="0" stop-color="rgb(9.0%,9.0%,9.0%)" stop-opacity="0"/><stop offset="1" stop-color="rgb(9.0%,9.0%,9.0%)" stop-opacity=".85"/></linearGradient>
<g filter="url(#bb2)" fill="none" stroke="url(#fgx)" stroke-linejoin="round">
<path d="M960,2027.5 L968,2028.7 L976,2029.9 L984,2031.3 L992,2033.0 L1000,2034.6 L1008,2036.2 L1016,2037.8 L1024,2039.4 L1032,2041.0 L1040,2042.6 L1048,2044.2 L1056,2045.9 L1064,2047.5 L1072,2048.8 L1080,2049.7 L1088,2050.7 L1096,2051.7 L1104,2052.7 L1112,2053.7 L1120,2054.7 L1128,2055.7 L1136,2056.7 L1144,2057.7 L1152,2058.7 L1160,2059.7 L1168,2060.7 L1176,2061.7 L1184,2061.2 L1192,2060.0 L1200,2058.7 L1208,2057.4 L1216,2056.1 L1224,2055.1 L1232,2054.2 L1240,2053.2 L1248,2052.3 L1256,2051.3 L1264,2050.3 L1272,2049.3 L1280,2048.4 L1288,2047.7 L1296,2047.1 L1304,2046.4 L1312,2045.7 L1320,2045.1 L1328,2044.4 L1336,2043.7 L1344,2043.2 L1352,2042.9 L1360,2042.9 L1368,2042.9 L1376,2042.9 L1384,2042.9 L1392,2042.9 L1400,2042.9 L1408,2042.9 L1416,2042.9 L1424,2042.9 L1432,2042.9 L1440,2042.9 L1448,2043.4 L1456,2043.9 L1464,2044.4 L1472,2045.0 L1480,2045.6 L1488,2046.2 L1496,2047.0 L1504,2047.9 L1512,2048.8 L1520,2048.6 L1528,2047.8 L1536,2047.0 L1544,2046.1 L1552,2045.6 L1560,2045.0 L1568,2044.4 L1576,2043.9 L1584,2043.3 L1592,2042.7 L1600,2042.2 L1608,2041.9 L1616,2041.7 L1624,2041.4 L1632,2041.2 L1640,2041.0 L1648,2040.7 L1656,2040.5 L1664,2040.2 L1672,2040.0 L1680,2039.8 L1688,2039.5 L1696,2039.3 L1704,2039.1 L1712,2037.2 L1720,2036.8 L1728,2036.6 L1736,2036.4 L1744,2036.2 L1752,2035.9 L1760,2035.7 L1768,2035.5 L1776,2035.3 L1784,2035.1 L1792,2034.9 L1800,2034.7 L1808,2034.5 L1816,2034.3 L1824,2034.1 L1832,2033.9 L1840,2033.7 L1848,2033.5 L1856,2033.3 L1864,2033.4 L1872,2033.6 L1880,2033.8 L1888,2034.0 L1896,2034.2 L1904,2034.4 L1912,2034.6 L1920,2034.8 L1928,2035.0 L1936,2035.2 L1944,2035.4 L1952,2035.6 L1960,2035.8 L1968,2035.9 L1976,2036.1 L1984,2036.3 L1992,2036.4 L2000,2036.6 L2008,2036.5 L2016,2036.3 L2024,2036.2 L2032,2036.0 L2040,2035.9 L2048,2035.7 L2056,2035.6 L2064,2035.4 L2072,2035.3 L2080,2035.1 L2088,2035.0 L2096,2034.8 L2104,2034.7 L2112,2034.5 L2120,2034.4 L2128,2034.2 L2136,2034.0 L2144,2033.9 L2152,2033.7" stroke-width="8.5"/>
<path d="M960,1983.8 L968,1985.0 L976,1986.2 L984,1987.3 L992,1988.3 L1000,1989.3 L1008,1990.3 L1016,1991.3 L1024,1992.3 L1032,1993.3 L1040,1994.3 L1048,1995.3 L1056,1996.3 L1064,1997.2 L1072,1997.9 L1080,1998.1 L1088,1998.2 L1096,1998.4 L1104,1998.5 L1112,1998.7 L1120,1998.8 L1128,1999.0 L1136,1998.8 L1144,1998.5 L1152,1998.2 L1160,1997.9 L1168,1997.6 L1176,1997.3 L1184,1998.0 L1192,1998.4 L1200,1998.7 L1208,1999.0 L1216,1999.2 L1224,1999.2 L1232,1999.2 L1240,1999.3 L1248,1999.3 L1256,1999.3 L1264,1999.3 L1272,1999.3 L1280,1999.2 L1288,1998.9 L1296,1998.7 L1304,1998.4 L1312,1998.2 L1320,1997.9 L1328,1997.7 L1336,1997.4 L1344,1997.3 L1352,1997.2 L1360,1997.0 L1368,1996.7 L1376,1996.5 L1384,1996.2 L1392,1996.0 L1400,1995.7 L1408,1995.5 L1416,1995.2 L1424,1995.0 L1432,1994.7 L1440,1994.5 L1448,1993.9 L1456,1993.3 L1464,1992.8 L1472,1992.3 L1480,1991.9 L1488,1991.4 L1496,1990.8 L1504,1990.1 L1512,1989.5 L1520,1989.5 L1528,1990.0 L1536,1990.4 L1544,1990.9 L1552,1991.2 L1560,1991.5 L1568,1991.7 L1576,1992.0 L1584,1992.2 L1592,1992.5 L1600,1992.8 L1608,1992.8 L1616,1992.9 L1624,1992.9 L1632,1993.0 L1640,1993.0 L1648,1993.1 L1656,1993.1 L1664,1993.2 L1672,1993.2 L1680,1993.2 L1688,1993.3 L1696,1993.3 L1704,1993.4 L1712,1991.7 L1720,1991.4 L1728,1991.3 L1736,1991.3 L1744,1991.3 L1752,1991.2 L1760,1991.2 L1768,1991.1 L1776,1991.1 L1784,1991.0 L1792,1991.0 L1800,1990.9 L1808,1990.9 L1816,1990.8 L1824,1990.8 L1832,1990.8 L1840,1990.7 L1848,1990.7 L1856,1990.7 L1864,1990.7 L1872,1990.6 L1880,1990.6 L1888,1990.5 L1896,1990.4 L1904,1990.4 L1912,1990.3 L1920,1990.2 L1928,1990.2 L1936,1990.1 L1944,1990.0 L1952,1990.0 L1960,1989.9 L1968,1989.9 L1976,1989.8 L1984,1989.8 L1992,1989.7 L2000,1989.7 L2008,1989.8 L2016,1990.0 L2024,1990.2 L2032,1990.3 L2040,1990.5 L2048,1990.6 L2056,1990.8 L2064,1990.9 L2072,1991.0 L2080,1991.1 L2088,1991.1 L2096,1991.2 L2104,1991.3 L2112,1991.3 L2120,1991.4 L2128,1991.5 L2136,1991.6 L2144,1991.6 L2152,1991.7" stroke-width="8.5"/>
<path d="M960,1960.8 L968,1962.0 L976,1963.2 L984,1964.2 L992,1964.9 L1000,1965.5 L1008,1966.2 L1016,1966.9 L1024,1967.6 L1032,1968.2 L1040,1968.9 L1048,1969.5 L1056,1970.2 L1064,1970.8 L1072,1971.1 L1080,1970.9 L1088,1970.6 L1096,1970.3 L1104,1970.0 L1112,1969.7 L1120,1969.4 L1128,1969.1 L1136,1968.3 L1144,1967.3 L1152,1966.3 L1160,1965.3 L1168,1964.4 L1176,1963.4 L1184,1964.7 L1192,1966.0 L1200,1967.1 L1208,1968.2 L1216,1969.3 L1224,1969.8 L1232,1970.3 L1240,1970.9 L1248,1971.4 L1256,1972.0 L1264,1972.5 L1272,1973.0 L1280,1973.3 L1288,1973.2 L1296,1973.2 L1304,1973.2 L1312,1973.1 L1320,1973.1 L1328,1973.1 L1336,1973.0 L1344,1973.1 L1352,1973.2 L1360,1972.8 L1368,1972.4 L1376,1972.1 L1384,1971.7 L1392,1971.3 L1400,1970.9 L1408,1970.5 L1416,1970.1 L1424,1969.7 L1432,1969.3 L1440,1969.0 L1448,1967.8 L1456,1966.7 L1464,1965.6 L1472,1964.6 L1480,1963.6 L1488,1962.5 L1496,1961.2 L1504,1959.7 L1512,1958.3 L1520,1958.4 L1528,1959.6 L1536,1960.7 L1544,1961.8 L1552,1962.6 L1560,1963.3 L1568,1964.0 L1576,1964.7 L1584,1965.4 L1592,1966.1 L1600,1966.8 L1608,1967.0 L1616,1967.2 L1624,1967.4 L1632,1967.6 L1640,1967.8 L1648,1968.0 L1656,1968.2 L1664,1968.4 L1672,1968.6 L1680,1968.8 L1688,1969.0 L1696,1969.2 L1704,1969.3 L1712,1967.7 L1720,1967.5 L1728,1967.5 L1736,1967.6 L1744,1967.6 L1752,1967.7 L1760,1967.7 L1768,1967.7 L1776,1967.8 L1784,1967.8 L1792,1967.9 L1800,1967.9 L1808,1967.9 L1816,1968.0 L1824,1968.0 L1832,1968.1 L1840,1968.1 L1848,1968.1 L1856,1968.2 L1864,1968.2 L1872,1968.0 L1880,1967.8 L1888,1967.6 L1896,1967.4 L1904,1967.2 L1912,1967.0 L1920,1966.8 L1928,1966.5 L1936,1966.3 L1944,1966.1 L1952,1965.9 L1960,1965.8 L1968,1965.6 L1976,1965.5 L1984,1965.3 L1992,1965.1 L2000,1965.0 L2008,1965.3 L2016,1965.6 L2024,1965.9 L2032,1966.3 L2040,1966.6 L2048,1966.9 L2056,1967.2 L2064,1967.5 L2072,1967.7 L2080,1967.9 L2088,1968.0 L2096,1968.2 L2104,1968.4 L2112,1968.6 L2120,1968.8 L2128,1969.0 L2136,1969.2 L2144,1969.4 L2152,1969.6" stroke-width="8.5"/>
<path d="M960,1937.8 L968,1939.0 L976,1940.2 L984,1941.0 L992,1941.4 L1000,1941.7 L1008,1942.1 L1016,1942.4 L1024,1942.8 L1032,1943.1 L1040,1943.5 L1048,1943.8 L1056,1944.1 L1064,1944.4 L1072,1944.3 L1080,1943.7 L1088,1943.0 L1096,1942.2 L1104,1941.5 L1112,1940.7 L1120,1939.9 L1128,1939.2 L1136,1937.8 L1144,1936.1 L1152,1934.4 L1160,1932.8 L1168,1931.1 L1176,1929.5 L1184,1931.5 L1192,1933.6 L1200,1935.5 L1208,1937.5 L1216,1939.3 L1224,1940.4 L1232,1941.4 L1240,1942.5 L1248,1943.6 L1256,1944.6 L1264,1945.6 L1272,1946.6 L1280,1947.3 L1288,1947.5 L1296,1947.7 L1304,1947.9 L1312,1948.1 L1320,1948.3 L1328,1948.5 L1336,1948.7 L1344,1949.0 L1352,1949.2 L1360,1948.7 L1368,1948.1 L1376,1947.6 L1384,1947.1 L1392,1946.6 L1400,1946.1 L1408,1945.5 L1416,1945.0 L1424,1944.5 L1432,1944.0 L1440,1943.5 L1448,1941.8 L1456,1940.1 L1464,1938.4 L1472,1936.8 L1480,1935.3 L1488,1933.7 L1496,1931.6 L1504,1929.3 L1512,1927.1 L1520,1927.4 L1528,1929.1 L1536,1930.9 L1544,1932.7 L1552,1933.9 L1560,1935.1 L1568,1936.2 L1576,1937.4 L1584,1938.5 L1592,1939.6 L1600,1940.8 L1608,1941.1 L1616,1941.5 L1624,1941.8 L1632,1942.2 L1640,1942.5 L1648,1942.9 L1656,1943.2 L1664,1943.6 L1672,1943.9 L1680,1944.3 L1688,1944.6 L1696,1945.0 L1704,1945.3 L1712,1943.7 L1720,1943.6 L1728,1943.7 L1736,1943.9 L1744,1944.0 L1752,1944.1 L1760,1944.2 L1768,1944.4 L1776,1944.5 L1784,1944.6 L1792,1944.7 L1800,1944.9 L1808,1945.0 L1816,1945.1 L1824,1945.2 L1832,1945.4 L1840,1945.5 L1848,1945.6 L1856,1945.8 L1864,1945.8 L1872,1945.4 L1880,1945.1 L1888,1944.7 L1896,1944.4 L1904,1944.0 L1912,1943.6 L1920,1943.3 L1928,1942.9 L1936,1942.6 L1944,1942.2 L1952,1941.9 L1960,1941.6 L1968,1941.4 L1976,1941.1 L1984,1940.8 L1992,1940.6 L2000,1940.3 L2008,1940.8 L2016,1941.2 L2024,1941.7 L2032,1942.2 L2040,1942.7 L2048,1943.2 L2056,1943.6 L2064,1944.0 L2072,1944.3 L2080,1944.7 L2088,1945.0 L2096,1945.3 L2104,1945.6 L2112,1945.9 L2120,1946.2 L2128,1946.5 L2136,1946.8 L2144,1947.1 L2152,1947.5" stroke-width="8.5"/>
<path d="M960,1914.8 L968,1916.0 L976,1917.2 L984,1917.9 L992,1917.9 L1000,1917.9 L1008,1918.0 L1016,1918.0 L1024,1918.0 L1032,1918.1 L1040,1918.0 L1048,1918.0 L1056,1917.9 L1064,1917.9 L1072,1917.5 L1080,1916.5 L1088,1915.3 L1096,1914.1 L1104,1912.9 L1112,1911.7 L1120,1910.5 L1128,1909.3 L1136,1907.2 L1144,1904.9 L1152,1902.6 L1160,1900.2 L1168,1897.9 L1176,1895.6 L1184,1898.2 L1192,1901.2 L1200,1903.9 L1208,1906.7 L1216,1909.4 L1224,1911.0 L1232,1912.5 L1240,1914.1 L1248,1915.7 L1256,1917.3 L1264,1918.8 L1272,1920.3 L1280,1921.4 L1288,1921.8 L1296,1922.2 L1304,1922.6 L1312,1923.0 L1320,1923.5 L1328,1923.9 L1336,1924.3 L1344,1924.8 L1352,1925.1 L1360,1924.5 L1368,1923.8 L1376,1923.2 L1384,1922.5 L1392,1921.9 L1400,1921.2 L1408,1920.6 L1416,1919.9 L1424,1919.3 L1432,1918.6 L1440,1918.0 L1448,1915.7 L1456,1913.5 L1464,1911.3 L1472,1909.1 L1480,1907.0 L1488,1904.8 L1496,1902.0 L1504,1898.9 L1512,1895.9 L1520,1896.3 L1528,1898.7 L1536,1901.2 L1544,1903.6 L1552,1905.3 L1560,1906.9 L1568,1908.5 L1576,1910.1 L1584,1911.6 L1592,1913.2 L1600,1914.8 L1608,1915.3 L1616,1915.8 L1624,1916.3 L1632,1916.8 L1640,1917.3 L1648,1917.8 L1656,1918.3 L1664,1918.8 L1672,1919.3 L1680,1919.8 L1688,1920.3 L1696,1920.8 L1704,1921.2 L1712,1919.8 L1720,1919.7 L1728,1919.9 L1736,1920.1 L1744,1920.4 L1752,1920.6 L1760,1920.8 L1768,1921.0 L1776,1921.2 L1784,1921.4 L1792,1921.6 L1800,1921.8 L1808,1922.0 L1816,1922.2 L1824,1922.4 L1832,1922.7 L1840,1922.9 L1848,1923.1 L1856,1923.4 L1864,1923.3 L1872,1922.8 L1880,1922.3 L1888,1921.8 L1896,1921.3 L1904,1920.8 L1912,1920.3 L1920,1919.8 L1928,1919.3 L1936,1918.8 L1944,1918.3 L1952,1917.9 L1960,1917.5 L1968,1917.1 L1976,1916.7 L1984,1916.3 L1992,1916.0 L2000,1915.6 L2008,1916.2 L2016,1916.9 L2024,1917.5 L2032,1918.1 L2040,1918.8 L2048,1919.4 L2056,1920.1 L2064,1920.6 L2072,1921.0 L2080,1921.5 L2088,1921.9 L2096,1922.3 L2104,1922.7 L2112,1923.2 L2120,1923.6 L2128,1924.0 L2136,1924.5 L2144,1924.9 L2152,1925.3" stroke-width="8.5"/>
<path d="M960,1891.8 L968,1893.0 L976,1894.2 L984,1894.7 L992,1894.4 L1000,1894.1 L1008,1893.9 L1016,1893.6 L1024,1893.3 L1032,1893.0 L1040,1892.6 L1048,1892.2 L1056,1891.8 L1064,1891.5 L1072,1890.7 L1080,1889.4 L1088,1887.7 L1096,1886.1 L1104,1884.4 L1112,1882.7 L1120,1881.1 L1128,1879.4 L1136,1876.7 L1144,1873.7 L1152,1870.7 L1160,1867.7 L1168,1864.7 L1176,1861.6 L1184,1864.9 L1192,1868.7 L1200,1872.4 L1208,1876.0 L1216,1879.5 L1224,1881.5 L1232,1883.6 L1240,1885.7 L1248,1887.8 L1256,1889.9 L1264,1892.0 L1272,1894.0 L1280,1895.5 L1288,1896.1 L1296,1896.8 L1304,1897.4 L1312,1898.0 L1320,1898.6 L1328,1899.3 L1336,1899.9 L1344,1900.6 L1352,1901.1 L1360,1900.3 L1368,1899.5 L1376,1898.8 L1384,1898.0 L1392,1897.2 L1400,1896.4 L1408,1895.6 L1416,1894.8 L1424,1894.0 L1432,1893.2 L1440,1892.5 L1448,1889.6 L1456,1886.8 L1464,1884.1 L1472,1881.4 L1480,1878.7 L1488,1875.9 L1496,1872.4 L1504,1868.5 L1512,1864.7 L1520,1865.2 L1528,1868.3 L1536,1871.4 L1544,1874.6 L1552,1876.7 L1560,1878.7 L1568,1880.7 L1576,1882.7 L1584,1884.8 L1592,1886.8 L1600,1888.8 L1608,1889.4 L1616,1890.1 L1624,1890.7 L1632,1891.4 L1640,1892.0 L1648,1892.7 L1656,1893.4 L1664,1894.0 L1672,1894.7 L1680,1895.3 L1688,1896.0 L1696,1896.6 L1704,1897.1 L1712,1895.8 L1720,1895.8 L1728,1896.1 L1736,1896.4 L1744,1896.7 L1752,1897.0 L1760,1897.3 L1768,1897.6 L1776,1897.9 L1784,1898.2 L1792,1898.5 L1800,1898.8 L1808,1899.1 L1816,1899.4 L1824,1899.7 L1832,1900.0 L1840,1900.3 L1848,1900.5 L1856,1900.9 L1864,1900.8 L1872,1900.2 L1880,1899.5 L1888,1898.9 L1896,1898.3 L1904,1897.6 L1912,1897.0 L1920,1896.4 L1928,1895.7 L1936,1895.1 L1944,1894.4 L1952,1893.8 L1960,1893.4 L1968,1892.9 L1976,1892.4 L1984,1891.9 L1992,1891.4 L2000,1890.9 L2008,1891.7 L2016,1892.5 L2024,1893.3 L2032,1894.1 L2040,1894.9 L2048,1895.7 L2056,1896.5 L2064,1897.2 L2072,1897.7 L2080,1898.3 L2088,1898.8 L2096,1899.4 L2104,1899.9 L2112,1900.5 L2120,1901.0 L2128,1901.6 L2136,1902.1 L2144,1902.7 L2152,1903.2" stroke-width="8.5"/>
<path d="M960,1868.8 L968,1870.0 L976,1871.2 L984,1871.5 L992,1870.9 L1000,1870.3 L1008,1869.7 L1016,1869.1 L1024,1868.5 L1032,1867.9 L1040,1867.2 L1048,1866.5 L1056,1865.7 L1064,1865.0 L1072,1863.9 L1080,1862.2 L1088,1860.1 L1096,1858.0 L1104,1855.9 L1112,1853.8 L1120,1851.6 L1128,1849.5 L1136,1846.2 L1144,1842.5 L1152,1838.8 L1160,1835.1 L1168,1831.4 L1176,1827.7 L1184,1831.7 L1192,1836.3 L1200,1840.8 L1208,1845.3 L1216,1849.5 L1224,1852.1 L1232,1854.7 L1240,1857.3 L1248,1859.9 L1256,1862.6 L1264,1865.1 L1272,1867.7 L1280,1869.6 L1288,1870.4 L1296,1871.3 L1304,1872.1 L1312,1873.0 L1320,1873.8 L1328,1874.7 L1336,1875.5 L1344,1876.5 L1352,1877.1 L1360,1876.2 L1368,1875.2 L1376,1874.3 L1384,1873.4 L1392,1872.5 L1400,1871.6 L1408,1870.6 L1416,1869.7 L1424,1868.8 L1432,1867.9 L1440,1867.0 L1448,1863.6 L1456,1860.2 L1464,1856.9 L1472,1853.6 L1480,1850.4 L1488,1847.1 L1496,1842.8 L1504,1838.1 L1512,1833.5 L1520,1834.1 L1528,1837.9 L1536,1841.7 L1544,1845.5 L1552,1848.1 L1560,1850.6 L1568,1853.0 L1576,1855.4 L1584,1857.9 L1592,1860.3 L1600,1862.8 L1608,1863.6 L1616,1864.4 L1624,1865.2 L1632,1866.0 L1640,1866.8 L1648,1867.6 L1656,1868.4 L1664,1869.2 L1672,1870.0 L1680,1870.8 L1688,1871.7 L1696,1872.5 L1704,1873.1 L1712,1871.8 L1720,1872.0 L1728,1872.3 L1736,1872.7 L1744,1873.1 L1752,1873.5 L1760,1873.8 L1768,1874.2 L1776,1874.6 L1784,1875.0 L1792,1875.4 L1800,1875.7 L1808,1876.1 L1816,1876.5 L1824,1876.9 L1832,1877.3 L1840,1877.6 L1848,1878.0 L1856,1878.5 L1864,1878.3 L1872,1877.6 L1880,1876.8 L1888,1876.0 L1896,1875.2 L1904,1874.5 L1912,1873.7 L1920,1872.9 L1928,1872.1 L1936,1871.3 L1944,1870.6 L1952,1869.8 L1960,1869.2 L1968,1868.6 L1976,1868.0 L1984,1867.4 L1992,1866.8 L2000,1866.2 L2008,1867.1 L2016,1868.1 L2024,1869.1 L2032,1870.0 L2040,1871.0 L2048,1871.9 L2056,1872.9 L2064,1873.7 L2072,1874.4 L2080,1875.1 L2088,1875.7 L2096,1876.4 L2104,1877.1 L2112,1877.7 L2120,1878.4 L2128,1879.1 L2136,1879.8 L2144,1880.4 L2152,1881.1" stroke-width="8.5"/>
<path d="M960,1845.8 L968,1847.0 L976,1848.2 L984,1848.4 L992,1847.5 L1000,1846.5 L1008,1845.6 L1016,1844.7 L1024,1843.8 L1032,1842.8 L1040,1841.7 L1048,1840.7 L1056,1839.6 L1064,1838.6 L1072,1837.1 L1080,1835.0 L1088,1832.5 L1096,1829.9 L1104,1827.3 L1112,1824.8 L1120,1822.2 L1128,1819.6 L1136,1815.7 L1144,1811.3 L1152,1807.0 L1160,1802.6 L1168,1798.2 L1176,1793.8 L1184,1798.4 L1192,1803.9 L1200,1809.2 L1208,1814.5 L1216,1819.6 L1224,1822.7 L1232,1825.8 L1240,1829.0 L1248,1832.1 L1256,1835.2 L1264,1838.3 L1272,1841.3 L1280,1843.7 L1288,1844.7 L1296,1845.8 L1304,1846.9 L1312,1847.9 L1320,1849.0 L1328,1850.1 L1336,1851.1 L1344,1852.3 L1352,1853.0 L1360,1852.0 L1368,1850.9 L1376,1849.9 L1384,1848.8 L1392,1847.8 L1400,1846.7 L1408,1845.7 L1416,1844.6 L1424,1843.6 L1432,1842.5 L1440,1841.5 L1448,1837.5 L1456,1833.6 L1464,1829.7 L1472,1825.9 L1480,1822.1 L1488,1818.2 L1496,1813.2 L1504,1807.7 L1512,1802.3 L1520,1803.0 L1528,1807.5 L1536,1811.9 L1544,1816.4 L1552,1819.5 L1560,1822.4 L1568,1825.3 L1576,1828.1 L1584,1831.0 L1592,1833.9 L1600,1836.8 L1608,1837.7 L1616,1838.7 L1624,1839.6 L1632,1840.6 L1640,1841.6 L1648,1842.5 L1656,1843.5 L1664,1844.4 L1672,1845.4 L1680,1846.4 L1688,1847.3 L1696,1848.3 L1704,1849.0 L1712,1847.8 L1720,1848.1 L1728,1848.5 L1736,1849.0 L1744,1849.5 L1752,1849.9 L1760,1850.4 L1768,1850.9 L1776,1851.3 L1784,1851.8 L1792,1852.2 L1800,1852.7 L1808,1853.2 L1816,1853.6 L1824,1854.1 L1832,1854.6 L1840,1855.0 L1848,1855.5 L1856,1856.0 L1864,1855.9 L1872,1855.0 L1880,1854.0 L1888,1853.1 L1896,1852.2 L1904,1851.3 L1912,1850.3 L1920,1849.4 L1928,1848.5 L1936,1847.6 L1944,1846.7 L1952,1845.8 L1960,1845.1 L1968,1844.4 L1976,1843.6 L1984,1842.9 L1992,1842.2 L2000,1841.5 L2008,1842.6 L2016,1843.7 L2024,1844.8 L2032,1846.0 L2040,1847.1 L2048,1848.2 L2056,1849.3 L2064,1850.3 L2072,1851.1 L2080,1851.9 L2088,1852.6 L2096,1853.4 L2104,1854.2 L2112,1855.0 L2120,1855.8 L2128,1856.6 L2136,1857.4 L2144,1858.2 L2152,1859.0" stroke-width="8.5"/>
<path d="M960,1822.8 L968,1824.0 L976,1825.2 L984,1825.2 L992,1824.0 L1000,1822.7 L1008,1821.5 L1016,1820.2 L1024,1819.0 L1032,1817.7 L1040,1816.3 L1048,1814.9 L1056,1813.5 L1064,1812.1 L1072,1810.3 L1080,1807.9 L1088,1804.9 L1096,1801.8 L1104,1798.8 L1112,1795.8 L1120,1792.8 L1128,1789.8 L1136,1785.2 L1144,1780.1 L1152,1775.1 L1160,1770.0 L1168,1765.0 L1176,1759.9 L1184,1765.2 L1192,1771.5 L1200,1777.6 L1208,1783.8 L1216,1789.6 L1224,1793.3 L1232,1796.9 L1240,1800.6 L1248,1804.2 L1256,1807.8 L1264,1811.4 L1272,1815.0 L1280,1817.7 L1288,1819.0 L1296,1820.3 L1304,1821.6 L1312,1822.9 L1320,1824.2 L1328,1825.5 L1336,1826.7 L1344,1828.1 L1352,1829.0 L1360,1827.8 L1368,1826.6 L1376,1825.5 L1384,1824.3 L1392,1823.1 L1400,1821.9 L1408,1820.7 L1416,1819.5 L1424,1818.3 L1432,1817.1 L1440,1816.0 L1448,1811.5 L1456,1807.0 L1464,1802.5 L1472,1798.1 L1480,1793.8 L1488,1789.4 L1496,1783.6 L1504,1777.3 L1512,1771.1 L1520,1771.9 L1528,1777.1 L1536,1782.2 L1544,1787.3 L1552,1790.9 L1560,1794.2 L1568,1797.5 L1576,1800.8 L1584,1804.1 L1592,1807.5 L1600,1810.8 L1608,1811.9 L1616,1813.0 L1624,1814.1 L1632,1815.2 L1640,1816.3 L1648,1817.4 L1656,1818.6 L1664,1819.7 L1672,1820.8 L1680,1821.9 L1688,1823.0 L1696,1824.1 L1704,1825.0 L1712,1823.9 L1720,1824.2 L1728,1824.7 L1736,1825.3 L1744,1825.8 L1752,1826.4 L1760,1826.9 L1768,1827.5 L1776,1828.0 L1784,1828.6 L1792,1829.1 L1800,1829.7 L1808,1830.2 L1816,1830.8 L1824,1831.3 L1832,1831.9 L1840,1832.4 L1848,1833.0 L1856,1833.6 L1864,1833.4 L1872,1832.3 L1880,1831.3 L1888,1830.2 L1896,1829.2 L1904,1828.1 L1912,1827.0 L1920,1826.0 L1928,1824.9 L1936,1823.8 L1944,1822.8 L1952,1821.8 L1960,1820.9 L1968,1820.1 L1976,1819.3 L1984,1818.4 L1992,1817.6 L2000,1816.8 L2008,1818.1 L2016,1819.3 L2024,1820.6 L2032,1821.9 L2040,1823.2 L2048,1824.5 L2056,1825.7 L2064,1826.8 L2072,1827.7 L2080,1828.7 L2088,1829.6 L2096,1830.5 L2104,1831.4 L2112,1832.3 L2120,1833.2 L2128,1834.1 L2136,1835.0 L2144,1835.9 L2152,1836.9" stroke-width="8.5"/>
<path d="M960,1799.8 L968,1801.0 L976,1802.2 L984,1802.1 L992,1800.5 L1000,1798.9 L1008,1797.4 L1016,1795.8 L1024,1794.2 L1032,1792.6 L1040,1790.9 L1048,1789.2 L1056,1787.4 L1064,1785.7 L1072,1783.6 L1080,1780.7 L1088,1777.2 L1096,1773.8 L1104,1770.3 L1112,1766.8 L1120,1763.3 L1128,1759.9 L1136,1754.7 L1144,1748.9 L1152,1743.2 L1160,1737.5 L1168,1731.7 L1176,1726.0 L1184,1731.9 L1192,1739.0 L1200,1746.1 L1208,1753.1 L1216,1759.7 L1224,1763.9 L1232,1768.0 L1240,1772.2 L1248,1776.3 L1256,1780.5 L1264,1784.6 L1272,1788.7 L1280,1791.8 L1288,1793.3 L1296,1794.8 L1304,1796.3 L1312,1797.8 L1320,1799.3 L1328,1800.8 L1336,1802.4 L1344,1804.0 L1352,1805.0 L1360,1803.7 L1368,1802.3 L1376,1801.0 L1384,1799.7 L1392,1798.4 L1400,1797.1 L1408,1795.7 L1416,1794.4 L1424,1793.1 L1432,1791.8 L1440,1790.5 L1448,1785.4 L1456,1780.4 L1464,1775.4 L1472,1770.4 L1480,1765.5 L1488,1760.5 L1496,1754.0 L1504,1746.9 L1512,1739.9 L1520,1740.9 L1528,1746.6 L1536,1752.4 L1544,1758.2 L1552,1762.2 L1560,1766.0 L1568,1769.8 L1576,1773.5 L1584,1777.3 L1592,1781.0 L1600,1784.8 L1608,1786.0 L1616,1787.3 L1624,1788.6 L1632,1789.8 L1640,1791.1 L1648,1792.4 L1656,1793.6 L1664,1794.9 L1672,1796.1 L1680,1797.4 L1688,1798.7 L1696,1799.9 L1704,1800.9 L1712,1799.9 L1720,1800.3 L1728,1800.9 L1736,1801.6 L1744,1802.2 L1752,1802.8 L1760,1803.5 L1768,1804.1 L1776,1804.7 L1784,1805.4 L1792,1806.0 L1800,1806.6 L1808,1807.3 L1816,1807.9 L1824,1808.5 L1832,1809.2 L1840,1809.8 L1848,1810.4 L1856,1811.1 L1864,1810.9 L1872,1809.7 L1880,1808.5 L1888,1807.3 L1896,1806.1 L1904,1804.9 L1912,1803.7 L1920,1802.5 L1928,1801.3 L1936,1800.1 L1944,1798.9 L1952,1797.7 L1960,1796.8 L1968,1795.9 L1976,1794.9 L1984,1794.0 L1992,1793.0 L2000,1792.1 L2008,1793.5 L2016,1795.0 L2024,1796.4 L2032,1797.8 L2040,1799.3 L2048,1800.7 L2056,1802.2 L2064,1803.4 L2072,1804.4 L2080,1805.5 L2088,1806.5 L2096,1807.5 L2104,1808.5 L2112,1809.6 L2120,1810.6 L2128,1811.6 L2136,1812.7 L2144,1813.7 L2152,1814.8" stroke-width="8.5"/>
<path d="M960,1776.8 L968,1778.0 L976,1779.2 L984,1778.9 L992,1777.0 L1000,1775.1 L1008,1773.3 L1016,1771.4 L1024,1769.5 L1032,1767.6 L1040,1765.5 L1048,1763.4 L1056,1761.3 L1064,1759.2 L1072,1756.8 L1080,1753.5 L1088,1749.6 L1096,1745.7 L1104,1741.8 L1112,1737.8 L1120,1733.9 L1128,1730.0 L1136,1724.2 L1144,1717.8 L1152,1711.3 L1160,1704.9 L1168,1698.5 L1176,1692.1 L1184,1698.6 L1192,1706.6 L1200,1714.5 L1208,1722.3 L1216,1729.8 L1224,1734.4 L1232,1739.1 L1240,1743.8 L1248,1748.5 L1256,1753.1 L1264,1757.8 L1272,1762.4 L1280,1765.9 L1288,1767.6 L1296,1769.4 L1304,1771.1 L1312,1772.8 L1320,1774.5 L1328,1776.2 L1336,1778.0 L1344,1779.8 L1352,1780.9 L1360,1779.5 L1368,1778.0 L1376,1776.6 L1384,1775.1 L1392,1773.7 L1400,1772.2 L1408,1770.8 L1416,1769.3 L1424,1767.9 L1432,1766.4 L1440,1765.0 L1448,1759.3 L1456,1753.7 L1464,1748.2 L1472,1742.7 L1480,1737.2 L1488,1731.6 L1496,1724.4 L1504,1716.5 L1512,1708.7 L1520,1709.8 L1528,1716.2 L1536,1722.7 L1544,1729.1 L1552,1733.6 L1560,1737.8 L1568,1742.0 L1576,1746.2 L1584,1750.4 L1592,1754.6 L1600,1758.8 L1608,1760.2 L1616,1761.6 L1624,1763.0 L1632,1764.4 L1640,1765.8 L1648,1767.3 L1656,1768.7 L1664,1770.1 L1672,1771.5 L1680,1772.9 L1688,1774.3 L1696,1775.8 L1704,1776.8 L1712,1775.9 L1720,1776.4 L1728,1777.1 L1736,1777.8 L1744,1778.6 L1752,1779.3 L1760,1780.0 L1768,1780.7 L1776,1781.4 L1784,1782.2 L1792,1782.9 L1800,1783.6 L1808,1784.3 L1816,1785.0 L1824,1785.8 L1832,1786.5 L1840,1787.2 L1848,1787.9 L1856,1788.7 L1864,1788.5 L1872,1787.1 L1880,1785.8 L1888,1784.4 L1896,1783.1 L1904,1781.7 L1912,1780.4 L1920,1779.0 L1928,1777.7 L1936,1776.3 L1944,1775.0 L1952,1773.7 L1960,1772.7 L1968,1771.6 L1976,1770.5 L1984,1769.5 L1992,1768.4 L2000,1767.4 L2008,1769.0 L2016,1770.6 L2024,1772.2 L2032,1773.8 L2040,1775.4 L2048,1777.0 L2056,1778.6 L2064,1780.0 L2072,1781.1 L2080,1782.3 L2088,1783.4 L2096,1784.6 L2104,1785.7 L2112,1786.9 L2120,1788.0 L2128,1789.2 L2136,1790.3 L2144,1791.5 L2152,1792.6" stroke-width="8.5"/>
<path d="M960,1753.8 L968,1755.0 L976,1756.2 L984,1755.7 L992,1753.5 L1000,1751.3 L1008,1749.1 L1016,1746.9 L1024,1744.7 L1032,1742.5 L1040,1740.0 L1048,1737.6 L1056,1735.2 L1064,1732.8 L1072,1730.0 L1080,1726.4 L1088,1722.0 L1096,1717.6 L1104,1713.2 L1112,1708.8 L1120,1704.5 L1128,1700.1 L1136,1693.7 L1144,1686.6 L1152,1679.5 L1160,1672.4 L1168,1665.3 L1176,1658.1 L1184,1665.4 L1192,1674.2 L1200,1682.9 L1208,1691.6 L1216,1699.8 L1224,1705.0 L1232,1710.2 L1240,1715.4 L1248,1720.6 L1256,1725.8 L1264,1730.9 L1272,1736.1 L1280,1740.0 L1288,1741.9 L1296,1743.9 L1304,1745.8 L1312,1747.8 L1320,1749.7 L1328,1751.6 L1336,1753.6 L1344,1755.7 L1352,1756.9 L1360,1755.3 L1368,1753.7 L1376,1752.2 L1384,1750.6 L1392,1749.0 L1400,1747.4 L1408,1745.8 L1416,1744.2 L1424,1742.6 L1432,1741.0 L1440,1739.5 L1448,1733.3 L1456,1727.1 L1464,1721.0 L1472,1714.9 L1480,1708.9 L1488,1702.8 L1496,1694.8 L1504,1686.1 L1512,1677.5 L1520,1678.7 L1528,1685.8 L1536,1692.9 L1544,1700.1 L1552,1705.0 L1560,1709.6 L1568,1714.3 L1576,1718.9 L1584,1723.5 L1592,1728.1 L1600,1732.8 L1608,1734.3 L1616,1735.9 L1624,1737.5 L1632,1739.0 L1640,1740.6 L1648,1742.2 L1656,1743.7 L1664,1745.3 L1672,1746.9 L1680,1748.4 L1688,1750.0 L1696,1751.6 L1704,1752.8 L1712,1751.9 L1720,1752.5 L1728,1753.3 L1736,1754.1 L1744,1754.9 L1752,1755.7 L1760,1756.5 L1768,1757.3 L1776,1758.1 L1784,1758.9 L1792,1759.8 L1800,1760.6 L1808,1761.4 L1816,1762.2 L1824,1763.0 L1832,1763.8 L1840,1764.6 L1848,1765.4 L1856,1766.3 L1864,1766.0 L1872,1764.5 L1880,1763.0 L1888,1761.5 L1896,1760.0 L1904,1758.5 L1912,1757.1 L1920,1755.6 L1928,1754.1 L1936,1752.6 L1944,1751.1 L1952,1749.7 L1960,1748.5 L1968,1747.3 L1976,1746.2 L1984,1745.0 L1992,1743.9 L2000,1742.7 L2008,1744.4 L2016,1746.2 L2024,1748.0 L2032,1749.7 L2040,1751.5 L2048,1753.2 L2056,1755.0 L2064,1756.5 L2072,1757.8 L2080,1759.1 L2088,1760.3 L2096,1761.6 L2104,1762.9 L2112,1764.1 L2120,1765.4 L2128,1766.7 L2136,1768.0 L2144,1769.2 L2152,1770.5" stroke-width="8.5"/>
<path d="M960,1730.8 L968,1732.0 L976,1733.2 L984,1732.6 L992,1730.1 L1000,1727.5 L1008,1725.0 L1016,1722.5 L1024,1720.0 L1032,1717.4 L1040,1714.6 L1048,1711.9 L1056,1709.1 L1064,1706.3 L1072,1703.2 L1080,1699.2 L1088,1694.4 L1096,1689.5 L1104,1684.7 L1112,1679.9 L1120,1675.0 L1128,1670.2 L1136,1663.2 L1144,1655.4 L1152,1647.6 L1160,1639.8 L1168,1632.0 L1176,1624.2 L1184,1632.1 L1192,1641.8 L1200,1651.3 L1208,1660.9 L1216,1669.9 L1224,1675.6 L1232,1681.3 L1240,1687.0 L1248,1692.7 L1256,1698.4 L1264,1704.1 L1272,1709.7 L1280,1714.1 L1288,1716.2 L1296,1718.4 L1304,1720.6 L1312,1722.7 L1320,1724.9 L1328,1727.0 L1336,1729.2 L1344,1731.5 L1352,1732.9 L1360,1731.2 L1368,1729.4 L1376,1727.7 L1384,1726.0 L1392,1724.3 L1400,1722.6 L1408,1720.8 L1416,1719.1 L1424,1717.4 L1432,1715.7 L1440,1714.0 L1448,1707.2 L1456,1700.5 L1464,1693.8 L1472,1687.2 L1480,1680.6 L1488,1673.9 L1496,1665.2 L1504,1655.7 L1512,1646.3 L1520,1647.6 L1528,1655.4 L1536,1663.2 L1544,1671.0 L1552,1676.4 L1560,1681.5 L1568,1686.5 L1576,1691.6 L1584,1696.6 L1592,1701.7 L1600,1706.8 L1608,1708.5 L1616,1710.2 L1624,1711.9 L1632,1713.6 L1640,1715.4 L1648,1717.1 L1656,1718.8 L1664,1720.5 L1672,1722.2 L1680,1724.0 L1688,1725.7 L1696,1727.4 L1704,1728.7 L1712,1728.0 L1720,1728.6 L1728,1729.5 L1736,1730.4 L1744,1731.3 L1752,1732.2 L1760,1733.1 L1768,1734.0 L1776,1734.9 L1784,1735.7 L1792,1736.6 L1800,1737.5 L1808,1738.4 L1816,1739.3 L1824,1740.2 L1832,1741.1 L1840,1742.0 L1848,1742.9 L1856,1743.8 L1864,1743.5 L1872,1741.9 L1880,1740.3 L1888,1738.6 L1896,1737.0 L1904,1735.4 L1912,1733.7 L1920,1732.1 L1928,1730.5 L1936,1728.8 L1944,1727.2 L1952,1725.7 L1960,1724.4 L1968,1723.1 L1976,1721.8 L1984,1720.5 L1992,1719.3 L2000,1718.0 L2008,1719.9 L2016,1721.8 L2024,1723.7 L2032,1725.7 L2040,1727.6 L2048,1729.5 L2056,1731.4 L2064,1733.1 L2072,1734.5 L2080,1735.9 L2088,1737.2 L2096,1738.6 L2104,1740.0 L2112,1741.4 L2120,1742.8 L2128,1744.2 L2136,1745.6 L2144,1747.0 L2152,1748.4" stroke-width="8.5"/>
<path d="M960,1707.8 L968,1709.0 L976,1710.2 L984,1709.4 L992,1706.6 L1000,1703.7 L1008,1700.9 L1016,1698.0 L1024,1695.2 L1032,1692.3 L1040,1689.2 L1048,1686.1 L1056,1683.0 L1064,1679.9 L1072,1676.4 L1080,1672.0 L1088,1666.7 L1096,1661.5 L1104,1656.2 L1112,1650.9 L1120,1645.6 L1128,1640.3 L1136,1632.7 L1144,1624.2 L1152,1615.7 L1160,1607.3 L1168,1598.8 L1176,1590.3 L1184,1598.8 L1192,1609.4 L1200,1619.7 L1208,1630.1 L1216,1640.0 L1224,1646.2 L1232,1652.4 L1240,1658.6 L1248,1664.9 L1256,1671.1 L1264,1677.2 L1272,1683.4 L1280,1688.2 L1288,1690.5 L1296,1692.9 L1304,1695.3 L1312,1697.7 L1320,1700.1 L1328,1702.4 L1336,1704.8 L1344,1707.3 L1352,1708.8 L1360,1707.0 L1368,1705.1 L1376,1703.3 L1384,1701.4 L1392,1699.6 L1400,1697.7 L1408,1695.9 L1416,1694.0 L1424,1692.2 L1432,1690.3 L1440,1688.5 L1448,1681.2 L1456,1673.9 L1464,1666.6 L1472,1659.4 L1480,1652.3 L1488,1645.1 L1496,1635.6 L1504,1625.3 L1512,1615.1 L1520,1616.5 L1528,1625.0 L1536,1633.4 L1544,1641.9 L1552,1647.8 L1560,1653.3 L1568,1658.8 L1576,1664.3 L1584,1669.8 L1592,1675.3 L1600,1680.8 L1608,1682.6 L1616,1684.5 L1624,1686.4 L1632,1688.3 L1640,1690.1 L1648,1692.0 L1656,1693.9 L1664,1695.7 L1672,1697.6 L1680,1699.5 L1688,1701.4 L1696,1703.2 L1704,1704.7 L1712,1704.0 L1720,1704.7 L1728,1705.7 L1736,1706.7 L1744,1707.7 L1752,1708.6 L1760,1709.6 L1768,1710.6 L1776,1711.6 L1784,1712.5 L1792,1713.5 L1800,1714.5 L1808,1715.5 L1816,1716.4 L1824,1717.4 L1832,1718.4 L1840,1719.4 L1848,1720.3 L1856,1721.4 L1864,1721.1 L1872,1719.3 L1880,1717.5 L1888,1715.7 L1896,1714.0 L1904,1712.2 L1912,1710.4 L1920,1708.6 L1928,1706.9 L1936,1705.1 L1944,1703.3 L1952,1701.6 L1960,1700.2 L1968,1698.8 L1976,1697.5 L1984,1696.1 L1992,1694.7 L2000,1693.3 L2008,1695.4 L2016,1697.4 L2024,1699.5 L2032,1701.6 L2040,1703.7 L2048,1705.8 L2056,1707.8 L2064,1709.6 L2072,1711.1 L2080,1712.7 L2088,1714.2 L2096,1715.7 L2104,1717.2 L2112,1718.7 L2120,1720.2 L2128,1721.7 L2136,1723.2 L2144,1724.7 L2152,1726.3" stroke-width="8.5"/>
<path d="M960,1684.8 L968,1686.0 L976,1687.2 L984,1686.3 L992,1683.1 L1000,1679.9 L1008,1676.8 L1016,1673.6 L1024,1670.4 L1032,1667.2 L1040,1663.8 L1048,1660.3 L1056,1656.9 L1064,1653.4 L1072,1649.6 L1080,1644.9 L1088,1639.1 L1096,1633.4 L1104,1627.6 L1112,1621.9 L1120,1616.2 L1128,1610.4 L1136,1602.1 L1144,1593.0 L1152,1583.8 L1160,1574.7 L1168,1565.5 L1176,1556.4 L1184,1565.6 L1192,1576.9 L1200,1588.2 L1208,1599.4 L1216,1610.0 L1224,1616.8 L1232,1623.5 L1240,1630.2 L1248,1637.0 L1256,1643.7 L1264,1650.4 L1272,1657.1 L1280,1662.2 L1288,1664.8 L1296,1667.4 L1304,1670.0 L1312,1672.6 L1320,1675.2 L1328,1677.8 L1336,1680.4 L1344,1683.2 L1352,1684.8 L1360,1682.8 L1368,1680.8 L1376,1678.9 L1384,1676.9 L1392,1674.9 L1400,1672.9 L1408,1670.9 L1416,1668.9 L1424,1666.9 L1432,1664.9 L1440,1663.0 L1448,1655.1 L1456,1647.3 L1464,1639.5 L1472,1631.7 L1480,1624.0 L1488,1616.2 L1496,1606.0 L1504,1594.9 L1512,1583.9 L1520,1585.4 L1528,1594.6 L1536,1603.7 L1544,1612.8 L1552,1619.1 L1560,1625.1 L1568,1631.0 L1576,1637.0 L1584,1642.9 L1592,1648.8 L1600,1654.8 L1608,1656.8 L1616,1658.8 L1624,1660.8 L1632,1662.9 L1640,1664.9 L1648,1666.9 L1656,1668.9 L1664,1671.0 L1672,1673.0 L1680,1675.0 L1688,1677.0 L1696,1679.1 L1704,1680.6 L1712,1680.0 L1720,1680.9 L1728,1681.9 L1736,1683.0 L1744,1684.0 L1752,1685.1 L1760,1686.1 L1768,1687.2 L1776,1688.3 L1784,1689.3 L1792,1690.4 L1800,1691.4 L1808,1692.5 L1816,1693.6 L1824,1694.6 L1832,1695.7 L1840,1696.7 L1848,1697.8 L1856,1698.9 L1864,1698.6 L1872,1696.7 L1880,1694.7 L1888,1692.8 L1896,1690.9 L1904,1689.0 L1912,1687.1 L1920,1685.2 L1928,1683.2 L1936,1681.3 L1944,1679.4 L1952,1677.6 L1960,1676.1 L1968,1674.6 L1976,1673.1 L1984,1671.6 L1992,1670.1 L2000,1668.6 L2008,1670.8 L2016,1673.1 L2024,1675.3 L2032,1677.5 L2040,1679.8 L2048,1682.0 L2056,1684.3 L2064,1686.2 L2072,1687.8 L2080,1689.5 L2088,1691.1 L2096,1692.7 L2104,1694.3 L2112,1696.0 L2120,1697.6 L2128,1699.2 L2136,1700.9 L2144,1702.5 L2152,1704.1" stroke-width="8.5"/>
<path d="M960,1661.8 L968,1663.0 L976,1664.2 L984,1663.1 L992,1659.6 L1000,1656.1 L1008,1652.7 L1016,1649.2 L1024,1645.7 L1032,1642.1 L1040,1638.3 L1048,1634.6 L1056,1630.8 L1064,1627.0 L1072,1622.8 L1080,1617.7 L1088,1611.5 L1096,1605.3 L1104,1599.1 L1112,1592.9 L1120,1586.7 L1128,1580.5 L1136,1571.6 L1144,1561.8 L1152,1552.0 L1160,1542.1 L1168,1532.3 L1176,1522.5 L1184,1532.3 L1192,1544.5 L1200,1556.6 L1208,1568.6 L1216,1580.1 L1224,1587.4 L1232,1594.6 L1240,1601.9 L1248,1609.1 L1256,1616.4 L1264,1623.6 L1272,1630.8 L1280,1636.3 L1288,1639.1 L1296,1642.0 L1304,1644.8 L1312,1647.6 L1320,1650.4 L1328,1653.2 L1336,1656.0 L1344,1659.0 L1352,1660.8 L1360,1658.7 L1368,1656.5 L1376,1654.4 L1384,1652.3 L1392,1650.2 L1400,1648.1 L1408,1645.9 L1416,1643.8 L1424,1641.7 L1432,1639.6 L1440,1637.5 L1448,1629.0 L1456,1620.6 L1464,1612.3 L1472,1604.0 L1480,1595.7 L1488,1587.3 L1496,1576.4 L1504,1564.5 L1512,1552.7 L1520,1554.4 L1528,1564.1 L1536,1573.9 L1544,1583.7 L1552,1590.5 L1560,1596.9 L1568,1603.3 L1576,1609.7 L1584,1616.0 L1592,1622.4 L1600,1628.8 L1608,1630.9 L1616,1633.1 L1624,1635.3 L1632,1637.5 L1640,1639.6 L1648,1641.8 L1656,1644.0 L1664,1646.2 L1672,1648.4 L1680,1650.5 L1688,1652.7 L1696,1654.9 L1704,1656.6 L1712,1656.1 L1720,1657.0 L1728,1658.1 L1736,1659.3 L1744,1660.4 L1752,1661.5 L1760,1662.7 L1768,1663.8 L1776,1665.0 L1784,1666.1 L1792,1667.3 L1800,1668.4 L1808,1669.6 L1816,1670.7 L1824,1671.8 L1832,1673.0 L1840,1674.1 L1848,1675.3 L1856,1676.5 L1864,1676.1 L1872,1674.0 L1880,1672.0 L1888,1669.9 L1896,1667.9 L1904,1665.8 L1912,1663.8 L1920,1661.7 L1928,1659.6 L1936,1657.6 L1944,1655.5 L1952,1653.6 L1960,1652.0 L1968,1650.3 L1976,1648.7 L1984,1647.1 L1992,1645.5 L2000,1643.9 L2008,1646.3 L2016,1648.7 L2024,1651.1 L2032,1653.5 L2040,1655.9 L2048,1658.3 L2056,1660.7 L2064,1662.8 L2072,1664.5 L2080,1666.3 L2088,1668.0 L2096,1669.8 L2104,1671.5 L2112,1673.3 L2120,1675.0 L2128,1676.8 L2136,1678.5 L2144,1680.3 L2152,1682.0" stroke-width="8.5"/>
<path d="M960,1638.8 L968,1640.0 L976,1641.2 L984,1639.9 L992,1636.1 L1000,1632.3 L1008,1628.5 L1016,1624.7 L1024,1620.9 L1032,1617.0 L1040,1612.9 L1048,1608.8 L1056,1604.7 L1064,1600.5 L1072,1596.0 L1080,1590.5 L1088,1583.9 L1096,1577.2 L1104,1570.6 L1112,1563.9 L1120,1557.3 L1128,1550.7 L1136,1541.1 L1144,1530.6 L1152,1520.1 L1160,1509.6 L1168,1499.1 L1176,1488.6 L1184,1499.1 L1192,1512.1 L1200,1525.0 L1208,1537.9 L1216,1550.2 L1224,1557.9 L1232,1565.7 L1240,1573.5 L1248,1581.2 L1256,1589.0 L1264,1596.7 L1272,1604.4 L1280,1610.4 L1288,1613.4 L1296,1616.5 L1304,1619.5 L1312,1622.6 L1320,1625.6 L1328,1628.6 L1336,1631.7 L1344,1634.8 L1352,1636.7 L1360,1634.5 L1368,1632.2 L1376,1630.0 L1384,1627.7 L1392,1625.5 L1400,1623.2 L1408,1621.0 L1416,1618.7 L1424,1616.5 L1432,1614.2 L1440,1612.0 L1448,1603.0 L1456,1594.0 L1464,1585.1 L1472,1576.2 L1480,1567.4 L1488,1558.5 L1496,1546.8 L1504,1534.1 L1512,1521.5 L1520,1523.3 L1528,1533.7 L1536,1544.2 L1544,1554.6 L1552,1561.9 L1560,1568.7 L1568,1575.5 L1576,1582.3 L1584,1589.2 L1592,1596.0 L1600,1602.8 L1608,1605.1 L1616,1607.4 L1624,1609.8 L1632,1612.1 L1640,1614.4 L1648,1616.7 L1656,1619.1 L1664,1621.4 L1672,1623.7 L1680,1626.0 L1688,1628.4 L1696,1630.7 L1704,1632.5 L1712,1632.1 L1720,1633.1 L1728,1634.3 L1736,1635.5 L1744,1636.8 L1752,1638.0 L1760,1639.2 L1768,1640.5 L1776,1641.7 L1784,1642.9 L1792,1644.1 L1800,1645.4 L1808,1646.6 L1816,1647.8 L1824,1649.1 L1832,1650.3 L1840,1651.5 L1848,1652.7 L1856,1654.0 L1864,1653.6 L1872,1651.4 L1880,1649.2 L1888,1647.0 L1896,1644.8 L1904,1642.6 L1912,1640.4 L1920,1638.2 L1928,1636.0 L1936,1633.8 L1944,1631.6 L1952,1629.5 L1960,1627.8 L1968,1626.1 L1976,1624.4 L1984,1622.6 L1992,1620.9 L2000,1619.2 L2008,1621.7 L2016,1624.3 L2024,1626.9 L2032,1629.4 L2040,1632.0 L2048,1634.5 L2056,1637.1 L2064,1639.3 L2072,1641.2 L2080,1643.1 L2088,1644.9 L2096,1646.8 L2104,1648.7 L2112,1650.5 L2120,1652.4 L2128,1654.3 L2136,1656.2 L2144,1658.0 L2152,1659.9" stroke-width="8.5"/>
<path d="M960,1615.8 L968,1617.0 L976,1618.2 L984,1616.8 L992,1612.7 L1000,1608.5 L1008,1604.4 L1016,1600.3 L1024,1596.2 L1032,1592.0 L1040,1587.5 L1048,1583.0 L1056,1578.6 L1064,1574.1 L1072,1569.3 L1080,1563.3 L1088,1556.2 L1096,1549.2 L1104,1542.1 L1112,1535.0 L1120,1527.9 L1128,1520.8 L1136,1510.6 L1144,1499.4 L1152,1488.2 L1160,1477.0 L1168,1465.8 L1176,1454.7 L1184,1465.8 L1192,1479.7 L1200,1493.4 L1208,1507.2 L1216,1520.2 L1224,1528.5 L1232,1536.8 L1240,1545.1 L1248,1553.4 L1256,1561.7 L1264,1569.9 L1272,1578.1 L1280,1584.5 L1288,1587.7 L1296,1591.0 L1304,1594.3 L1312,1597.5 L1320,1600.8 L1328,1604.0 L1336,1607.3 L1344,1610.7 L1352,1612.7 L1360,1610.3 L1368,1607.9 L1376,1605.6 L1384,1603.2 L1392,1600.8 L1400,1598.4 L1408,1596.0 L1416,1593.6 L1424,1591.2 L1432,1588.8 L1440,1586.5 L1448,1576.9 L1456,1567.4 L1464,1557.9 L1472,1548.5 L1480,1539.1 L1488,1529.6 L1496,1517.2 L1504,1503.7 L1512,1490.3 L1520,1492.2 L1528,1503.3 L1536,1514.4 L1544,1525.6 L1552,1533.3 L1560,1540.6 L1568,1547.8 L1576,1555.0 L1584,1562.3 L1592,1569.5 L1600,1576.8 L1608,1579.2 L1616,1581.7 L1624,1584.2 L1632,1586.7 L1640,1589.2 L1648,1591.6 L1656,1594.1 L1664,1596.6 L1672,1599.1 L1680,1601.6 L1688,1604.0 L1696,1606.5 L1704,1608.4 L1712,1608.1 L1720,1609.2 L1728,1610.5 L1736,1611.8 L1744,1613.1 L1752,1614.4 L1760,1615.8 L1768,1617.1 L1776,1618.4 L1784,1619.7 L1792,1621.0 L1800,1622.3 L1808,1623.6 L1816,1625.0 L1824,1626.3 L1832,1627.6 L1840,1628.9 L1848,1630.2 L1856,1631.6 L1864,1631.2 L1872,1628.8 L1880,1626.5 L1888,1624.1 L1896,1621.8 L1904,1619.4 L1912,1617.1 L1920,1614.8 L1928,1612.4 L1936,1610.1 L1944,1607.7 L1952,1605.5 L1960,1603.7 L1968,1601.8 L1976,1600.0 L1984,1598.2 L1992,1596.3 L2000,1594.5 L2008,1597.2 L2016,1599.9 L2024,1602.6 L2032,1605.4 L2040,1608.1 L2048,1610.8 L2056,1613.5 L2064,1615.9 L2072,1617.9 L2080,1619.9 L2088,1621.8 L2096,1623.8 L2104,1625.8 L2112,1627.8 L2120,1629.8 L2128,1631.8 L2136,1633.8 L2144,1635.8 L2152,1637.8" stroke-width="8.5"/>
<path d="M960,1592.8 L968,1594.0 L976,1595.2 L984,1593.6 L992,1589.2 L1000,1584.7 L1008,1580.3 L1016,1575.8 L1024,1571.4 L1032,1566.9 L1040,1562.1 L1048,1557.3 L1056,1552.5 L1064,1547.7 L1072,1542.5 L1080,1536.2 L1088,1528.6 L1096,1521.1 L1104,1513.5 L1112,1506.0 L1120,1498.4 L1128,1490.9 L1136,1480.1 L1144,1468.2 L1152,1456.4 L1160,1444.5 L1168,1432.6 L1176,1420.7 L1184,1432.5 L1192,1447.3 L1200,1461.8 L1208,1476.4 L1216,1490.3 L1224,1499.1 L1232,1507.9 L1240,1516.7 L1248,1525.5 L1256,1534.3 L1264,1543.1 L1272,1551.8 L1280,1558.6 L1288,1562.0 L1296,1565.5 L1304,1569.0 L1312,1572.5 L1320,1575.9 L1328,1579.4 L1336,1582.9 L1344,1586.5 L1352,1588.7 L1360,1586.2 L1368,1583.6 L1376,1581.1 L1384,1578.6 L1392,1576.1 L1400,1573.6 L1408,1571.0 L1416,1568.5 L1424,1566.0 L1432,1563.5 L1440,1561.0 L1448,1550.9 L1456,1540.8 L1464,1530.7 L1472,1520.7 L1480,1510.8 L1488,1500.8 L1496,1487.6 L1504,1473.3 L1512,1459.1 L1520,1461.1 L1528,1472.9 L1536,1484.7 L1544,1496.5 L1552,1504.7 L1560,1512.4 L1568,1520.1 L1576,1527.7 L1584,1535.4 L1592,1543.1 L1600,1550.8 L1608,1553.4 L1616,1556.0 L1624,1558.7 L1632,1561.3 L1640,1563.9 L1648,1566.6 L1656,1569.2 L1664,1571.8 L1672,1574.5 L1680,1577.1 L1688,1579.7 L1696,1582.4 L1704,1584.4 L1712,1584.1 L1720,1585.3 L1728,1586.7 L1736,1588.1 L1744,1589.5 L1752,1590.9 L1760,1592.3 L1768,1593.7 L1776,1595.1 L1784,1596.5 L1792,1597.9 L1800,1599.3 L1808,1600.7 L1816,1602.1 L1824,1603.5 L1832,1604.9 L1840,1606.3 L1848,1607.7 L1856,1609.2 L1864,1608.7 L1872,1606.2 L1880,1603.7 L1888,1601.2 L1896,1598.8 L1904,1596.3 L1912,1593.8 L1920,1591.3 L1928,1588.8 L1936,1586.3 L1944,1583.8 L1952,1581.5 L1960,1579.5 L1968,1577.6 L1976,1575.6 L1984,1573.7 L1992,1571.7 L2000,1569.8 L2008,1572.7 L2016,1575.5 L2024,1578.4 L2032,1581.3 L2040,1584.2 L2048,1587.1 L2056,1589.9 L2064,1592.4 L2072,1594.5 L2080,1596.7 L2088,1598.8 L2096,1600.9 L2104,1603.0 L2112,1605.1 L2120,1607.2 L2128,1609.3 L2136,1611.4 L2144,1613.5 L2152,1615.7" stroke-width="8.5"/>
<path d="M960,1569.8 L968,1571.0 L976,1572.2 L984,1570.5 L992,1565.7 L1000,1560.9 L1008,1556.2 L1016,1551.4 L1024,1546.6 L1032,1541.8 L1040,1536.6 L1048,1531.5 L1056,1526.3 L1064,1521.2 L1072,1515.7 L1080,1509.0 L1088,1501.0 L1096,1493.0 L1104,1485.0 L1112,1477.0 L1120,1469.0 L1128,1461.0 L1136,1449.6 L1144,1437.0 L1152,1424.5 L1160,1411.9 L1168,1399.4 L1176,1386.8 L1184,1399.3 L1192,1414.8 L1200,1430.3 L1208,1445.7 L1216,1460.4 L1224,1469.7 L1232,1479.0 L1240,1488.3 L1248,1497.6 L1256,1506.9 L1264,1516.2 L1272,1525.5 L1280,1532.6 L1288,1536.3 L1296,1540.0 L1304,1543.7 L1312,1547.4 L1320,1551.1 L1328,1554.8 L1336,1558.5 L1344,1562.3 L1352,1564.6 L1360,1562.0 L1368,1559.3 L1376,1556.7 L1384,1554.0 L1392,1551.4 L1400,1548.7 L1408,1546.1 L1416,1543.4 L1424,1540.8 L1432,1538.1 L1440,1535.5 L1448,1524.8 L1456,1514.2 L1464,1503.6 L1472,1493.0 L1480,1482.5 L1488,1471.9 L1496,1458.0 L1504,1442.9 L1512,1427.9 L1520,1430.0 L1528,1442.5 L1536,1454.9 L1544,1467.4 L1552,1476.1 L1560,1484.2 L1568,1492.3 L1576,1500.4 L1584,1508.5 L1592,1516.7 L1600,1524.8 L1608,1527.6 L1616,1530.3 L1624,1533.1 L1632,1535.9 L1640,1538.7 L1648,1541.5 L1656,1544.3 L1664,1547.0 L1672,1549.8 L1680,1552.6 L1688,1555.4 L1696,1558.2 L1704,1560.3 L1712,1560.2 L1720,1561.4 L1728,1562.9 L1736,1564.4 L1744,1565.9 L1752,1567.4 L1760,1568.8 L1768,1570.3 L1776,1571.8 L1784,1573.3 L1792,1574.8 L1800,1576.3 L1808,1577.7 L1816,1579.2 L1824,1580.7 L1832,1582.2 L1840,1583.7 L1848,1585.2 L1856,1586.7 L1864,1586.2 L1872,1583.6 L1880,1581.0 L1888,1578.3 L1896,1575.7 L1904,1573.1 L1912,1570.5 L1920,1567.8 L1928,1565.2 L1936,1562.6 L1944,1559.9 L1952,1557.5 L1960,1555.4 L1968,1553.3 L1976,1551.3 L1984,1549.2 L1992,1547.1 L2000,1545.1 L2008,1548.1 L2016,1551.2 L2024,1554.2 L2032,1557.2 L2040,1560.3 L2048,1563.3 L2056,1566.4 L2064,1569.0 L2072,1571.2 L2080,1573.5 L2088,1575.7 L2096,1577.9 L2104,1580.1 L2112,1582.4 L2120,1584.6 L2128,1586.8 L2136,1589.1 L2144,1591.3 L2152,1593.5" stroke-width="8.5"/>
<path d="M960,1546.8 L968,1548.0 L976,1549.2 L984,1547.3 L992,1542.2 L1000,1537.1 L1008,1532.1 L1016,1527.0 L1024,1521.9 L1032,1516.7 L1040,1511.2 L1048,1505.7 L1056,1500.2 L1064,1494.8 L1072,1488.9 L1080,1481.8 L1088,1473.4 L1096,1464.9 L1104,1456.5 L1112,1448.0 L1120,1439.6 L1128,1431.1 L1136,1419.1 L1144,1405.8 L1152,1392.6 L1160,1379.4 L1168,1366.1 L1176,1352.9 L1184,1366.0 L1192,1382.4 L1200,1398.7 L1208,1415.0 L1216,1430.4 L1224,1440.3 L1232,1450.1 L1240,1459.9 L1248,1469.8 L1256,1479.6 L1264,1489.4 L1272,1499.2 L1280,1506.7 L1288,1510.6 L1296,1514.6 L1304,1518.5 L1312,1522.4 L1320,1526.3 L1328,1530.2 L1336,1534.1 L1344,1538.2 L1352,1540.6 L1360,1537.8 L1368,1535.0 L1376,1532.3 L1384,1529.5 L1392,1526.7 L1400,1523.9 L1408,1521.1 L1416,1518.3 L1424,1515.5 L1432,1512.7 L1440,1510.0 L1448,1498.7 L1456,1487.5 L1464,1476.4 L1472,1465.3 L1480,1454.2 L1488,1443.0 L1496,1428.4 L1504,1412.5 L1512,1396.7 L1520,1398.9 L1528,1412.1 L1536,1425.2 L1544,1438.3 L1552,1447.4 L1560,1456.0 L1568,1464.6 L1576,1473.1 L1584,1481.7 L1592,1490.2 L1600,1498.8 L1608,1501.7 L1616,1504.6 L1624,1507.6 L1632,1510.5 L1640,1513.4 L1648,1516.4 L1656,1519.3 L1664,1522.3 L1672,1525.2 L1680,1528.1 L1688,1531.1 L1696,1534.0 L1704,1536.3 L1712,1536.2 L1720,1537.5 L1728,1539.1 L1736,1540.7 L1744,1542.2 L1752,1543.8 L1760,1545.4 L1768,1546.9 L1776,1548.5 L1784,1550.1 L1792,1551.7 L1800,1553.2 L1808,1554.8 L1816,1556.4 L1824,1557.9 L1832,1559.5 L1840,1561.1 L1848,1562.6 L1856,1564.3 L1864,1563.8 L1872,1561.0 L1880,1558.2 L1888,1555.4 L1896,1552.7 L1904,1549.9 L1912,1547.1 L1920,1544.4 L1928,1541.6 L1936,1538.8 L1944,1536.0 L1952,1533.4 L1960,1531.3 L1968,1529.1 L1976,1526.9 L1984,1524.7 L1992,1522.6 L2000,1520.4 L2008,1523.6 L2016,1526.8 L2024,1530.0 L2032,1533.2 L2040,1536.4 L2048,1539.6 L2056,1542.8 L2064,1545.6 L2072,1547.9 L2080,1550.3 L2088,1552.6 L2096,1555.0 L2104,1557.3 L2112,1559.7 L2120,1562.0 L2128,1564.4 L2136,1566.7 L2144,1569.1 L2152,1571.4" stroke-width="8.5"/>
<path d="M960,1523.8 L968,1525.0 L976,1526.2 L984,1524.1 L992,1518.7 L1000,1513.3 L1008,1507.9 L1016,1502.5 L1024,1497.1 L1032,1491.6 L1040,1485.8 L1048,1480.0 L1056,1474.1 L1064,1468.3 L1072,1462.1 L1080,1454.7 L1088,1445.8 L1096,1436.9 L1104,1427.9 L1112,1419.0 L1120,1410.1 L1128,1401.2 L1136,1388.6 L1144,1374.7 L1152,1360.7 L1160,1346.8 L1168,1332.9 L1176,1319.0 L1184,1332.7 L1192,1350.0 L1200,1367.1 L1208,1384.2 L1216,1400.5 L1224,1410.8 L1232,1421.2 L1240,1431.5 L1248,1441.9 L1256,1452.2 L1264,1462.5 L1272,1472.8 L1280,1480.8 L1288,1484.9 L1296,1489.1 L1304,1493.2 L1312,1497.3 L1320,1501.5 L1328,1505.6 L1336,1509.7 L1344,1514.0 L1352,1516.6 L1360,1513.7 L1368,1510.7 L1376,1507.8 L1384,1504.9 L1392,1502.0 L1400,1499.1 L1408,1496.1 L1416,1493.2 L1424,1490.3 L1432,1487.4 L1440,1484.5 L1448,1472.7 L1456,1460.9 L1464,1449.2 L1472,1437.5 L1480,1425.9 L1488,1414.2 L1496,1398.8 L1504,1382.1 L1512,1365.5 L1520,1367.9 L1528,1381.6 L1536,1395.4 L1544,1409.2 L1552,1418.8 L1560,1427.8 L1568,1436.8 L1576,1445.8 L1584,1454.8 L1592,1463.8 L1600,1472.8 L1608,1475.9 L1616,1478.9 L1624,1482.0 L1632,1485.1 L1640,1488.2 L1648,1491.3 L1656,1494.4 L1664,1497.5 L1672,1500.6 L1680,1503.6 L1688,1506.7 L1696,1509.8 L1704,1512.2 L1712,1512.2 L1720,1513.6 L1728,1515.3 L1736,1516.9 L1744,1518.6 L1752,1520.3 L1760,1521.9 L1768,1523.6 L1776,1525.2 L1784,1526.9 L1792,1528.5 L1800,1530.2 L1808,1531.8 L1816,1533.5 L1824,1535.1 L1832,1536.8 L1840,1538.5 L1848,1540.1 L1856,1541.8 L1864,1541.3 L1872,1538.4 L1880,1535.5 L1888,1532.5 L1896,1529.6 L1904,1526.7 L1912,1523.8 L1920,1520.9 L1928,1518.0 L1936,1515.1 L1944,1512.2 L1952,1509.4 L1960,1507.1 L1968,1504.8 L1976,1502.5 L1984,1500.3 L1992,1498.0 L2000,1495.7 L2008,1499.0 L2016,1502.4 L2024,1505.8 L2032,1509.1 L2040,1512.5 L2048,1515.8 L2056,1519.2 L2064,1522.1 L2072,1524.6 L2080,1527.1 L2088,1529.5 L2096,1532.0 L2104,1534.5 L2112,1536.9 L2120,1539.4 L2128,1541.9 L2136,1544.4 L2144,1546.8 L2152,1549.3" stroke-width="8.5"/>
<path d="M960,1500.8 L968,1502.0 L976,1503.2 L984,1501.0 L992,1495.3 L1000,1489.5 L1008,1483.8 L1016,1478.1 L1024,1472.4 L1032,1466.5 L1040,1460.4 L1048,1454.2 L1056,1448.0 L1064,1441.9 L1072,1435.3 L1080,1427.5 L1088,1418.1 L1096,1408.8 L1104,1399.4 L1112,1390.1 L1120,1380.7 L1128,1371.3 L1136,1358.1 L1144,1343.5 L1152,1328.9 L1160,1314.3 L1168,1299.7 L1176,1285.1 L1184,1299.5 L1192,1317.6 L1200,1335.5 L1208,1353.5 L1216,1370.6 L1224,1381.4 L1232,1392.3 L1240,1403.1 L1248,1414.0 L1256,1424.9 L1264,1435.7 L1272,1446.5 L1280,1454.9 L1288,1459.2 L1296,1463.6 L1304,1468.0 L1312,1472.3 L1320,1476.7 L1328,1481.0 L1336,1485.4 L1344,1489.8 L1352,1492.5 L1360,1489.5 L1368,1486.4 L1376,1483.4 L1384,1480.3 L1392,1477.3 L1400,1474.2 L1408,1471.2 L1416,1468.1 L1424,1465.1 L1432,1462.0 L1440,1459.0 L1448,1446.6 L1456,1434.3 L1464,1422.0 L1472,1409.8 L1480,1397.6 L1488,1385.3 L1496,1369.2 L1504,1351.7 L1512,1334.3 L1520,1336.8 L1528,1351.2 L1536,1365.7 L1544,1380.1 L1552,1390.2 L1560,1399.6 L1568,1409.1 L1576,1418.5 L1584,1427.9 L1592,1437.3 L1600,1446.8 L1608,1450.0 L1616,1453.2 L1624,1456.5 L1632,1459.7 L1640,1463.0 L1648,1466.2 L1656,1469.4 L1664,1472.7 L1672,1475.9 L1680,1479.2 L1688,1482.4 L1696,1485.6 L1704,1488.2 L1712,1488.2 L1720,1489.8 L1728,1491.5 L1736,1493.2 L1744,1495.0 L1752,1496.7 L1760,1498.4 L1768,1500.2 L1776,1501.9 L1784,1503.7 L1792,1505.4 L1800,1507.1 L1808,1508.9 L1816,1510.6 L1824,1512.4 L1832,1514.1 L1840,1515.8 L1848,1517.6 L1856,1519.4 L1864,1518.8 L1872,1515.8 L1880,1512.7 L1888,1509.6 L1896,1506.6 L1904,1503.5 L1912,1500.5 L1920,1497.4 L1928,1494.4 L1936,1491.3 L1944,1488.3 L1952,1485.4 L1960,1483.0 L1968,1480.6 L1976,1478.2 L1984,1475.8 L1992,1473.4 L2000,1471.0 L2008,1474.5 L2016,1478.0 L2024,1481.5 L2032,1485.1 L2040,1488.6 L2048,1492.1 L2056,1495.6 L2064,1498.7 L2072,1501.3 L2080,1503.9 L2088,1506.4 L2096,1509.0 L2104,1511.6 L2112,1514.2 L2120,1516.8 L2128,1519.4 L2136,1522.0 L2144,1524.6 L2152,1527.2" stroke-width="8.5"/>
<path d="M960,1477.8 L968,1479.0 L976,1480.2 L984,1477.8 L992,1471.8 L1000,1465.7 L1008,1459.7 L1016,1453.6 L1024,1447.6 L1032,1441.4 L1040,1434.9 L1048,1428.4 L1056,1421.9 L1064,1415.4 L1072,1408.5 L1080,1400.3 L1088,1390.5 L1096,1380.7 L1104,1370.9 L1112,1361.1 L1120,1351.3 L1128,1341.5 L1136,1327.5 L1144,1312.3 L1152,1297.0 L1160,1281.7 L1168,1266.4 L1176,1251.2 L1184,1266.2 L1192,1285.2 L1200,1303.9 L1208,1322.7 L1216,1340.6 L1224,1352.0 L1232,1363.4 L1240,1374.8 L1248,1386.1 L1256,1397.5 L1264,1408.9 L1272,1420.2 L1280,1429.0 L1288,1433.6 L1296,1438.1 L1304,1442.7 L1312,1447.3 L1320,1451.8 L1328,1456.4 L1336,1461.0 L1344,1465.7 L1352,1468.5 L1360,1465.3 L1368,1462.1 L1376,1459.0 L1384,1455.8 L1392,1452.6 L1400,1449.4 L1408,1446.2 L1416,1443.0 L1424,1439.8 L1432,1436.6 L1440,1433.5 L1448,1420.6 L1456,1407.7 L1464,1394.8 L1472,1382.0 L1480,1369.3 L1488,1356.5 L1496,1339.6 L1504,1321.3 L1512,1303.1 L1520,1305.7 L1528,1320.8 L1536,1335.9 L1544,1351.1 L1552,1361.6 L1560,1371.5 L1568,1381.3 L1576,1391.2 L1584,1401.0 L1592,1410.9 L1600,1420.8 L1608,1424.2 L1616,1427.6 L1624,1430.9 L1632,1434.3 L1640,1437.7 L1648,1441.1 L1656,1444.5 L1664,1447.9 L1672,1451.3 L1680,1454.7 L1688,1458.1 L1696,1461.5 L1704,1464.1 L1712,1464.3 L1720,1465.9 L1728,1467.7 L1736,1469.5 L1744,1471.3 L1752,1473.2 L1760,1475.0 L1768,1476.8 L1776,1478.6 L1784,1480.5 L1792,1482.3 L1800,1484.1 L1808,1485.9 L1816,1487.8 L1824,1489.6 L1832,1491.4 L1840,1493.2 L1848,1495.1 L1856,1497.0 L1864,1496.3 L1872,1493.1 L1880,1489.9 L1888,1486.7 L1896,1483.6 L1904,1480.4 L1912,1477.2 L1920,1474.0 L1928,1470.8 L1936,1467.6 L1944,1464.4 L1952,1461.3 L1960,1458.8 L1968,1456.3 L1976,1453.8 L1984,1451.3 L1992,1448.8 L2000,1446.3 L2008,1450.0 L2016,1453.6 L2024,1457.3 L2032,1461.0 L2040,1464.7 L2048,1468.4 L2056,1472.0 L2064,1475.2 L2072,1477.9 L2080,1480.7 L2088,1483.4 L2096,1486.1 L2104,1488.8 L2112,1491.5 L2120,1494.2 L2128,1496.9 L2136,1499.6 L2144,1502.3 L2152,1505.1" stroke-width="8.5"/>
<path d="M960,1454.8 L968,1456.0 L976,1457.2 L984,1454.7 L992,1448.3 L1000,1441.9 L1008,1435.6 L1016,1429.2 L1024,1422.8 L1032,1416.4 L1040,1409.5 L1048,1402.7 L1056,1395.8 L1064,1389.0 L1072,1381.7 L1080,1373.2 L1088,1362.9 L1096,1352.6 L1104,1342.4 L1112,1332.1 L1120,1321.8 L1128,1311.6 L1136,1297.0 L1144,1281.1 L1152,1265.1 L1160,1250.0 L1168,1250.0 L1176,1250.0 L1184,1250.0 L1192,1252.7 L1200,1272.4 L1208,1292.0 L1216,1310.7 L1224,1322.6 L1232,1334.5 L1240,1346.4 L1248,1358.3 L1256,1370.2 L1264,1382.0 L1272,1393.9 L1280,1403.1 L1288,1407.9 L1296,1412.6 L1304,1417.4 L1312,1422.2 L1320,1427.0 L1328,1431.8 L1336,1436.6 L1344,1441.5 L1352,1444.5 L1360,1441.2 L1368,1437.8 L1376,1434.5 L1384,1431.2 L1392,1427.9 L1400,1424.6 L1408,1421.2 L1416,1417.9 L1424,1414.6 L1432,1411.3 L1440,1408.0 L1448,1394.5 L1456,1381.1 L1464,1367.7 L1472,1354.3 L1480,1341.0 L1488,1327.6 L1496,1310.0 L1504,1290.9 L1512,1271.9 L1520,1274.6 L1528,1290.4 L1536,1306.2 L1544,1322.0 L1552,1333.0 L1560,1343.3 L1568,1353.6 L1576,1363.9 L1584,1374.2 L1592,1384.5 L1600,1394.8 L1608,1398.3 L1616,1401.9 L1624,1405.4 L1632,1408.9 L1640,1412.5 L1648,1416.0 L1656,1419.6 L1664,1423.1 L1672,1426.7 L1680,1430.2 L1688,1433.8 L1696,1437.3 L1704,1440.0 L1712,1440.3 L1720,1442.0 L1728,1443.9 L1736,1445.8 L1744,1447.7 L1752,1449.6 L1760,1451.5 L1768,1453.4 L1776,1455.3 L1784,1457.3 L1792,1459.2 L1800,1461.1 L1808,1463.0 L1816,1464.9 L1824,1466.8 L1832,1468.7 L1840,1470.6 L1848,1472.5 L1856,1474.5 L1864,1473.9 L1872,1470.5 L1880,1467.2 L1888,1463.9 L1896,1460.5 L1904,1457.2 L1912,1453.8 L1920,1450.5 L1928,1447.2 L1936,1443.8 L1944,1440.5 L1952,1437.3 L1960,1434.7 L1968,1432.1 L1976,1429.5 L1984,1426.8 L1992,1424.2 L2000,1421.6 L2008,1425.4 L2016,1429.3 L2024,1433.1 L2032,1436.9 L2040,1440.8 L2048,1444.6 L2056,1448.5 L2064,1451.8 L2072,1454.6 L2080,1457.5 L2088,1460.3 L2096,1463.1 L2104,1465.9 L2112,1468.8 L2120,1471.6 L2128,1474.4 L2136,1477.3 L2144,1480.1 L2152,1482.9" stroke-width="8.5"/>
</g>
<linearGradient id="fgi" gradientUnits="userSpaceOnUse" x1="272" y1="0" x2="530" y2="0"><stop offset="0" stop-color="rgb(9.0%,9.0%,9.0%)" stop-opacity=".8"/><stop offset=".55" stop-color="rgb(9.0%,9.0%,9.0%)" stop-opacity=".72"/><stop offset=".8" stop-color="rgb(9.0%,9.0%,9.0%)" stop-opacity=".4"/><stop offset="1" stop-color="rgb(9.0%,9.0%,9.0%)" stop-opacity="0"/></linearGradient>
<g filter="url(#bb1)" fill="none" stroke="url(#fgi)" stroke-linecap="round">
<path d="M270,2013.7 L276,2017.3" stroke-width="2.0"/>
<path d="M270,2004.1 L276,2007.7 L282,2011.9 L288,2016.8" stroke-width="2.0"/>
<path d="M270,1993.3 L276,1996.8 L282,2001.0 L288,2005.9 L294,2011.4 L300,2017.6" stroke-width="2.2"/>
<path d="M270,1981.1 L276,1984.7 L282,1988.9 L288,1993.7 L294,1999.2 L300,2005.4 L306,2012.2 L312,2019.7" stroke-width="2.4"/>
<path d="M270,1967.7 L276,1971.2 L282,1975.4 L288,1980.3 L294,1985.8 L300,1992.0 L306,1998.8 L312,2006.2 L318,2014.3" stroke-width="2.7"/>
<path d="M270,1952.9 L276,1956.5 L282,1960.7 L288,1965.6 L294,1971.1 L300,1977.2 L306,1984.0 L312,1991.5 L318,1999.6 L324,2008.3 L330,2017.7" stroke-width="2.9"/>
<path d="M270,1936.9 L276,1940.5 L282,1944.7 L288,1949.6 L294,1955.1 L300,1961.2 L306,1968.0 L312,1975.5 L318,1983.6 L324,1992.3 L330,2001.7 L336,2011.8" stroke-width="3.2"/>
<path d="M270,1919.7 L276,1923.2 L282,1927.4 L288,1932.3 L294,1937.8 L300,1944.0 L306,1950.8 L312,1958.2 L318,1966.3 L324,1975.1 L330,1984.5 L336,1994.5 L342,2005.2 L348,2016.5" stroke-width="3.4"/>
<path d="M270,1901.1 L276,1904.7 L282,1908.9 L288,1913.7 L294,1919.2 L300,1925.4 L306,1932.2 L312,1939.7 L318,1947.8 L324,1956.5 L330,1965.9 L336,1975.9 L342,1986.6 L348,1998.0 L354,2010.0" stroke-width="3.6"/>
<path d="M270,1881.3 L276,1884.8 L282,1889.0 L288,1893.9 L294,1899.4 L300,1905.6 L306,1912.4 L312,1919.8 L318,1927.9 L324,1936.7 L330,1946.1 L336,1956.1 L342,1966.8 L348,1978.1 L354,1990.1 L360,2002.8" stroke-width="3.9"/>
<path d="M270,1860.1 L276,1863.7 L282,1867.9 L288,1872.8 L294,1878.3 L300,1884.4 L306,1891.2 L312,1898.7 L318,1906.8 L324,1915.5 L330,1924.9 L336,1935.0 L342,1945.7 L348,1957.0 L354,1969.0 L360,1981.6 L366,1994.9 L372,2008.9" stroke-width="4.1"/>
<path d="M270,1837.7 L276,1841.3 L282,1845.5 L288,1850.4 L294,1855.9 L300,1862.0 L306,1868.8 L312,1876.3 L318,1884.4 L324,1893.1 L330,1902.5 L336,1912.6 L342,1923.3 L348,1934.6 L354,1946.6 L360,1959.2 L366,1972.5 L372,1986.5 L378,2001.0" stroke-width="4.4"/>
<path d="M270,1814.1 L276,1817.6 L282,1821.8 L288,1826.7 L294,1832.2 L300,1838.4 L306,1845.2 L312,1852.6 L318,1860.7 L324,1869.5 L330,1878.9 L336,1888.9 L342,1899.6 L348,1910.9 L354,1922.9 L360,1935.6 L366,1948.8 L372,1962.8 L378,1977.4 L384,1992.6" stroke-width="4.6"/>
<path d="M270,1789.1 L276,1792.7 L282,1796.9 L288,1801.7 L294,1807.2 L300,1813.4 L306,1820.2 L312,1827.7 L318,1835.8 L324,1844.5 L330,1853.9 L336,1863.9 L342,1874.6 L348,1886.0 L354,1898.0 L360,1910.6 L366,1923.9 L372,1937.8 L378,1952.4 L384,1967.6 L390,1983.5 L396,2000.0" stroke-width="4.9"/>
<path d="M270,1762.9 L276,1766.4 L282,1770.6 L288,1775.5 L294,1781.0 L300,1787.2 L306,1794.0 L312,1801.4 L318,1809.5 L324,1818.3 L330,1827.7 L336,1837.7 L342,1848.4 L348,1859.7 L354,1871.7 L360,1884.4 L366,1897.6 L372,1911.6 L378,1926.2 L384,1941.4 L390,1957.3 L396,1973.8 L402,1991.0" stroke-width="5.1"/>
<path d="M270,1735.3 L276,1738.9 L282,1743.1 L288,1748.0 L294,1753.5 L300,1759.6 L306,1766.4 L312,1773.9 L318,1782.0 L324,1790.7 L330,1800.1 L336,1810.2 L342,1820.9 L348,1832.2 L354,1844.2 L360,1856.8 L366,1870.1 L372,1884.1 L378,1898.6 L384,1913.9 L390,1929.7 L396,1946.3 L402,1963.4 L408,1981.3 L414,1999.7" stroke-width="5.4"/>
<path d="M270,1706.5 L276,1710.1 L282,1714.3 L288,1719.2 L294,1724.7 L300,1730.8 L306,1737.6 L312,1745.1 L318,1753.2 L324,1761.9 L330,1771.3 L336,1781.4 L342,1792.1 L348,1803.4 L354,1815.4 L360,1828.0 L366,1841.3 L372,1855.3 L378,1869.8 L384,1885.1 L390,1900.9 L396,1917.5 L402,1934.6 L408,1952.5 L414,1970.9 L420,1990.0" stroke-width="5.6"/>
<path d="M270,1676.5 L276,1680.0 L282,1684.2 L288,1689.1 L294,1694.6 L300,1700.8 L306,1707.6 L312,1715.0 L318,1723.1 L324,1731.9 L330,1741.3 L336,1751.3 L342,1762.0 L348,1773.3 L354,1785.3 L360,1798.0 L366,1811.2 L372,1825.2 L378,1839.8 L384,1855.0 L390,1870.9 L396,1887.4 L402,1904.6 L408,1922.4 L414,1940.8 L420,1960.0 L426,1979.7" stroke-width="5.8"/>
<path d="M270,1645.1 L276,1648.7 L282,1652.9 L288,1657.7 L294,1663.2 L300,1669.4 L306,1676.2 L312,1683.7 L318,1691.8 L324,1700.5 L330,1709.9 L336,1719.9 L342,1730.6 L348,1742.0 L354,1754.0 L360,1766.6 L366,1779.9 L372,1793.8 L378,1808.4 L384,1823.6 L390,1839.5 L396,1856.0 L402,1873.2 L408,1891.0 L414,1909.5 L420,1928.6 L426,1948.4 L432,1968.8 L438,1989.8" stroke-width="6.1"/>
<path d="M270,1612.5 L276,1616.0 L282,1620.2 L288,1625.1 L294,1630.6 L300,1636.8 L306,1643.6 L312,1651.0 L318,1659.1 L324,1667.9 L330,1677.3 L336,1687.3 L342,1698.0 L348,1709.3 L354,1721.3 L360,1734.0 L366,1747.2 L372,1761.2 L378,1775.8 L384,1791.0 L390,1806.9 L396,1823.4 L402,1840.6 L408,1858.4 L414,1876.8 L420,1896.0 L426,1915.7 L432,1936.1 L438,1957.2 L444,1978.9" stroke-width="6.3"/>
<path d="M270,1578.5 L276,1582.1 L282,1586.3 L288,1591.2 L294,1596.7 L300,1602.8 L306,1609.6 L312,1617.1 L318,1625.2 L324,1633.9 L330,1643.3 L336,1653.4 L342,1664.1 L348,1675.4 L354,1687.4 L360,1700.0 L366,1713.3 L372,1727.3 L378,1741.8 L384,1757.1 L390,1772.9 L396,1789.5 L402,1806.6 L408,1824.5 L414,1842.9 L420,1862.0 L426,1881.8 L432,1902.2 L438,1923.3 L444,1945.0 L450,1967.3 L456,1990.3" stroke-width="6.6"/>
<path d="M270,1543.3 L276,1546.9 L282,1551.1 L288,1556.0 L294,1561.5 L300,1567.6 L306,1574.4 L312,1581.9 L318,1590.0 L324,1598.7 L330,1608.1 L336,1618.2 L342,1628.9 L348,1640.2 L354,1652.2 L360,1664.8 L366,1678.1 L372,1692.1 L378,1706.6 L384,1721.9 L390,1737.7 L396,1754.3 L402,1771.4 L408,1789.3 L414,1807.7 L420,1826.8 L426,1846.6 L432,1867.0 L438,1888.1 L444,1909.8 L450,1932.1 L456,1955.1 L462,1978.8" stroke-width="6.8"/>
<path d="M270,1506.9 L276,1510.4 L282,1514.6 L288,1519.5 L294,1525.0 L300,1531.2 L306,1538.0 L312,1545.4 L318,1553.5 L324,1562.3 L330,1571.7 L336,1581.7 L342,1592.4 L348,1603.7 L354,1615.7 L360,1628.4 L366,1641.6 L372,1655.6 L378,1670.2 L384,1685.4 L390,1701.3 L396,1717.8 L402,1735.0 L408,1752.8 L414,1771.2 L420,1790.4 L426,1810.1 L432,1830.5 L438,1851.6 L444,1873.3 L450,1895.7 L456,1918.7 L462,1942.3 L468,1966.6" stroke-width="7.1"/>
<path d="M270,1469.1 L276,1472.7 L282,1476.9 L288,1481.7 L294,1487.2 L300,1493.4 L306,1500.2 L312,1507.7 L318,1515.8 L324,1524.5 L330,1533.9 L336,1543.9 L342,1554.6 L348,1566.0 L354,1578.0 L360,1590.6 L366,1603.9 L372,1617.8 L378,1632.4 L384,1647.6 L390,1663.5 L396,1680.0 L402,1697.2 L408,1715.0 L414,1733.5 L420,1752.6 L426,1772.4 L432,1792.8 L438,1813.8 L444,1835.5 L450,1857.9 L456,1880.9 L462,1904.6 L468,1928.9 L474,1953.8 L480,1979.4" stroke-width="7.3"/>
<path d="M270,1430.1 L276,1433.6 L282,1437.8 L288,1442.7 L294,1448.2 L300,1454.4 L306,1461.2 L312,1468.6 L318,1476.7 L324,1485.5 L330,1494.9 L336,1504.9 L342,1515.6 L348,1526.9 L354,1538.9 L360,1551.6 L366,1564.8 L372,1578.8 L378,1593.4 L384,1608.6 L390,1624.5 L396,1641.0 L402,1658.2 L408,1676.0 L414,1694.4 L420,1713.6 L426,1733.3 L432,1753.7 L438,1774.8 L444,1796.5 L450,1818.9 L456,1841.9 L462,1865.5 L468,1889.8 L474,1914.8 L480,1940.4 L486,1966.6" stroke-width="7.5"/>
<path d="M270,1389.7 L276,1393.3 L282,1397.5 L288,1402.4 L294,1407.9 L300,1414.0 L306,1420.8 L312,1428.3 L318,1436.4 L324,1445.1 L330,1454.5 L336,1464.6 L342,1475.3 L348,1486.6 L354,1498.6 L360,1511.2 L366,1524.5 L372,1538.5 L378,1553.0 L384,1568.3 L390,1584.1 L396,1600.7 L402,1617.8 L408,1635.7 L414,1654.1 L420,1673.2 L426,1693.0 L432,1713.4 L438,1734.5 L444,1756.2 L450,1778.5 L456,1801.5 L462,1825.2 L468,1849.5 L474,1874.4 L480,1900.0 L486,1926.3 L492,1953.2 L498,1980.7" stroke-width="7.8"/>
<path d="M270,1348.1 L276,1351.7 L282,1355.9 L288,1360.8 L294,1366.3 L300,1372.4 L306,1379.2 L312,1386.7 L318,1394.8 L324,1403.5 L330,1412.9 L336,1423.0 L342,1433.7 L348,1445.0 L354,1457.0 L360,1469.6 L366,1482.9 L372,1496.9 L378,1511.4 L384,1526.7 L390,1542.5 L396,1559.1 L402,1576.2 L408,1594.1 L414,1612.5 L420,1631.6 L426,1651.4 L432,1671.8 L438,1692.9 L444,1714.6 L450,1736.9 L456,1759.9 L462,1783.6 L468,1807.9 L474,1832.8 L480,1858.4 L486,1884.7 L492,1911.6 L498,1939.1 L504,1967.3" stroke-width="8.0"/>
<path d="M270,1305.3 L276,1308.8 L282,1313.0 L288,1317.9 L294,1323.4 L300,1329.6 L306,1336.4 L312,1343.8 L318,1351.9 L324,1360.7 L330,1370.1 L336,1380.1 L342,1390.8 L348,1402.1 L354,1414.1 L360,1426.8 L366,1440.0 L372,1454.0 L378,1468.6 L384,1483.8 L390,1499.7 L396,1516.2 L402,1533.4 L408,1551.2 L414,1569.6 L420,1588.8 L426,1608.5 L432,1628.9 L438,1650.0 L444,1671.7 L450,1694.1 L456,1717.1 L462,1740.7 L468,1765.0 L474,1790.0 L480,1815.6 L486,1841.8 L492,1868.7 L498,1896.2 L504,1924.4 L510,1953.3" stroke-width="8.3"/>
<path d="M270,1261.1 L276,1264.7 L282,1268.9 L288,1273.7 L294,1279.2 L300,1285.4 L306,1292.2 L312,1299.7 L318,1307.8 L324,1316.5 L330,1325.9 L336,1335.9 L342,1346.6 L348,1358.0 L354,1370.0 L360,1382.6 L366,1395.9 L372,1409.8 L378,1424.4 L384,1439.6 L390,1455.5 L396,1472.0 L402,1489.2 L408,1507.0 L414,1525.5 L420,1544.6 L426,1564.4 L432,1584.8 L438,1605.8 L444,1627.5 L450,1649.9 L456,1672.9 L462,1696.6 L468,1720.9 L474,1745.8 L480,1771.4 L486,1797.6 L492,1824.5 L498,1852.1 L504,1880.3 L510,1909.1 L516,1938.6 L522,1968.7" stroke-width="8.5"/>
</g>
<g filter="url(#bb1)" fill="none" stroke="#fff" stroke-linecap="round"><path d="M610,1925 L690,1862 L720,1832 L800,1745 L925,1612" stroke-width="3" stroke-opacity=".03"/><path d="M640,1903 L690,1862 L725,1828" stroke-width="2.5" stroke-opacity=".05"/></g>
<g filter="url(#bb07)" fill="none" stroke-linejoin="round"><use href="#hbp" stroke="url(#hb15)" stroke-width="15.0"/><use href="#hbp" stroke="url(#hb16)" stroke-width="11.0"/><use href="#hbp" stroke="url(#hb17)" stroke-width="8.0"/><use href="#hbp" stroke="url(#hb18)" stroke-width="6.0"/><use href="#hbp" stroke="url(#hb19)" stroke-width="4.4"/><use href="#hbp" stroke="url(#hb20)" stroke-width="3.2"/><use href="#hbp" stroke="url(#hb21)" stroke-width="2.3"/><use href="#hbp" stroke="url(#hb22)" stroke-width="1.6"/></g>
</g></g>
<rect x="2187.0" y="1281.00" width="88.8" height="12.58" fill="#800000"/>
<rect x="2187.0" y="1292.98" width="88.8" height="12.58" fill="#8f0000"/>
<rect x="2187.0" y="1304.97" width="88.8" height="12.58" fill="#9f0000"/>
<rect x="2187.0" y="1316.95" width="88.8" height="12.58" fill="#af0000"/>
<rect x="2187.0" y="1328.94" width="88.8" height="12.58" fill="#bf0000"/>
<rect x="2187.0" y="1340.92" width="88.8" height="12.58" fill="#cf0000"/>
<rect x="2187.0" y="1352.91" width="88.8" height="12.58" fill="#df0000"/>
<rect x="2187.0" y="1364.89" width="88.8" height="12.58" fill="#ef0000"/>
<rect x="2187.0" y="1376.88" width="88.8" height="12.58" fill="#ff0000"/>
<rect x="2187.0" y="1388.86" width="88.8" height="12.58" fill="#ff1000"/>
<rect x="2187.0" y="1400.84" width="88.8" height="12.58" fill="#ff2000"/>
<rect x="2187.0" y="1412.83" width="88.8" height="12.58" fill="#ff3000"/>
<rect x="2187.0" y="1424.81" width="88.8" height="12.58" fill="#ff4000"/>
<rect x="2187.0" y="1436.80" width="88.8" height="12.58" fill="#ff5000"/>
<rect x="2187.0" y="1448.78" width="88.8" height="12.58" fill="#ff6000"/>
<rect x="2187.0" y="1460.77" width="88.8" height="12.58" fill="#ff7000"/>
<rect x="2187.0" y="1472.75" width="88.8" height="12.58" fill="#ff8000"/>
<rect x="2187.0" y="1484.73" width="88.8" height="12.58" fill="#ff8f00"/>
<rect x="2187.0" y="1496.72" width="88.8" height="12.58" fill="#ff9f00"/>
<rect x="2187.0" y="1508.70" width="88.8" height="12.58" fill="#ffaf00"/>
<rect x="2187.0" y="1520.69" width="88.8" height="12.58" fill="#ffbf00"/>
<rect x="2187.0" y="1532.67" width="88.8" height="12.58" fill="#ffcf00"/>
<rect x="2187.0" y="1544.66" width="88.8" height="12.58" fill="#ffdf00"/>
<rect x="2187.0" y="1556.64" width="88.8" height="12.58" fill="#ffef00"/>
<rect x="2187.0" y="1568.62" width="88.8" height="12.58" fill="#ffff00"/>
<rect x="2187.0" y="1580.61" width="88.8" height="12.58" fill="#efff10"/>
<rect x="2187.0" y="1592.59" width="88.8" height="12.58" fill="#dfff20"/>
<rect x="2187.0" y="1604.58" width="88.8" height="12.58" fill="#cfff30"/>
<rect x="2187.0" y="1616.56" width="88.8" height="12.58" fill="#bfff40"/>
<rect x="2187.0" y="1628.55" width="88.8" height="12.58" fill="#afff50"/>
<rect x="2187.0" y="1640.53" width="88.8" height="12.58" fill="#9fff60"/>
<rect x="2187.0" y="1652.52" width="88.8" height="12.58" fill="#8fff70"/>
<rect x="2187.0" y="1664.50" width="88.8" height="12.58" fill="#80ff80"/>
<rect x="2187.0" y="1676.48" width="88.8" height="12.58" fill="#70ff8f"/>
<rect x="2187.0" y="1688.47" width="88.8" height="12.58" fill="#60ff9f"/>
<rect x="2187.0" y="1700.45" width="88.8" height="12.58" fill="#50ffaf"/>
<rect x="2187.0" y="1712.44" width="88.8" height="12.58" fill="#40ffbf"/>
<rect x="2187.0" y="1724.42" width="88.8" height="12.58" fill="#30ffcf"/>
<rect x="2187.0" y="1736.41" width="88.8" height="12.58" fill="#20ffdf"/>
<rect x="2187.0" y="1748.39" width="88.8" height="12.58" fill="#10ffef"/>
<rect x="2187.0" y="1760.38" width="88.8" height="12.58" fill="#00ffff"/>
<rect x="2187.0" y="1772.36" width="88.8" height="12.58" fill="#00efff"/>
<rect x="2187.0" y="1784.34" width="88.8" height="12.58" fill="#00dfff"/>
<rect x="2187.0" y="1796.33" width="88.8" height="12.58" fill="#00cfff"/>
<rect x="2187.0" y="1808.31" width="88.8" height="12.58" fill="#00bfff"/>
<rect x="2187.0" y="1820.30" width="88.8" height="12.58" fill="#00afff"/>
<rect x="2187.0" y="1832.28" width="88.8" height="12.58" fill="#009fff"/>
<rect x="2187.0" y="1844.27" width="88.8" height="12.58" fill="#008fff"/>
<rect x="2187.0" y="1856.25" width="88.8" height="12.58" fill="#0080ff"/>
<rect x="2187.0" y="1868.23" width="88.8" height="12.58" fill="#0070ff"/>
<rect x="2187.0" y="1880.22" width="88.8" height="12.58" fill="#0060ff"/>
<rect x="2187.0" y="1892.20" width="88.8" height="12.58" fill="#0050ff"/>
<rect x="2187.0" y="1904.19" width="88.8" height="12.58" fill="#0040ff"/>
<rect x="2187.0" y="1916.17" width="88.8" height="12.58" fill="#0030ff"/>
<rect x="2187.0" y="1928.16" width="88.8" height="12.58" fill="#0020ff"/>
<rect x="2187.0" y="1940.14" width="88.8" height="12.58" fill="#0010ff"/>
<rect x="2187.0" y="1952.12" width="88.8" height="12.58" fill="#0000ff"/>
<rect x="2187.0" y="1964.11" width="88.8" height="12.58" fill="#0000ef"/>
<rect x="2187.0" y="1976.09" width="88.8" height="12.58" fill="#0000df"/>
<rect x="2187.0" y="1988.08" width="88.8" height="12.58" fill="#0000cf"/>
<rect x="2187.0" y="2000.06" width="88.8" height="12.58" fill="#0000bf"/>
<rect x="2187.0" y="2012.05" width="88.8" height="12.58" fill="#0000af"/>
<rect x="2187.0" y="2024.03" width="88.8" height="12.58" fill="#00009f"/>
<rect x="2187.0" y="2036.02" width="88.8" height="12.58" fill="#00008f"/>
<rect x="2187.9" y="1281.9" width="87.0" height="765.2" fill="none" stroke="#383838" stroke-width="1.8"/>
<rect x="2265.8" y="1973.0" width="9" height="1.8" fill="#383838"/>
<rect x="2265.8" y="1871.6" width="9" height="1.8" fill="#383838"/>
<rect x="2265.8" y="1770.1" width="9" height="1.8" fill="#383838"/>
<rect x="2265.8" y="1668.7" width="9" height="1.8" fill="#383838"/>
<rect x="2265.8" y="1567.2" width="9" height="1.8" fill="#383838"/>
<rect x="2265.8" y="1465.8" width="9" height="1.8" fill="#383838"/>
<rect x="2265.8" y="1364.3" width="9" height="1.8" fill="#383838"/>
<rect class="bx" x="279.2" y="1717.7" width="155.1" height="324.6" style="stroke-width:3.4"/>
<rect class="bx" x="575.6" y="1530.3" width="170.7" height="502.9" style="stroke-width:3.4"/>
<rect class="bx" x="1070.9" y="1633.8" width="184.6" height="404.2" style="stroke-width:3.4"/>
<ellipse class="el" cx="760.2" cy="1780.4" rx="254.5" ry="28" transform="rotate(-45.6 760.2 1780.4)"/>
<text x="287.3" y="158.8" font-size="52.5" class="t" text-anchor="end">14<tspan dx="-4.4" fill="#000">,</tspan><tspan dx="-1.6">000</tspan></text>
<text x="287.3" y="260.6" font-size="52.5" class="t" text-anchor="end">12<tspan dx="-4.4" fill="#000">,</tspan><tspan dx="-1.6">000</tspan></text>
<text x="287.3" y="362.5" font-size="52.5" class="t" text-anchor="end">10<tspan dx="-4.4" fill="#000">,</tspan><tspan dx="-1.6">000</tspan></text>
<text x="287.3" y="464.3" font-size="52.5" class="t" text-anchor="end">8000</text>
<text x="287.3" y="566.2" font-size="52.5" class="t" text-anchor="end">6000</text>
<text x="287.3" y="668.0" font-size="52.5" class="t" text-anchor="end">4000</text>
<text x="287.3" y="769.9" font-size="52.5" class="t" text-anchor="end">2000</text>
<text x="531.2" y="920.2" font-size="52.5" class="t" text-anchor="middle">100</text>
<text x="761.2" y="920.2" font-size="52.5" class="t" text-anchor="middle">200</text>
<text x="991.2" y="920.2" font-size="52.5" class="t" text-anchor="middle">300</text>
<text x="1221.2" y="920.2" font-size="52.5" class="t" text-anchor="middle">400</text>
<text x="1451.2" y="920.2" font-size="52.5" class="t" text-anchor="middle">500</text>
<text x="1681.2" y="920.2" font-size="52.5" class="t" text-anchor="middle">600</text>
<text x="1911.2" y="920.2" font-size="52.5" class="t" text-anchor="middle">700</text>
<text x="2141.2" y="920.2" font-size="52.5" class="t" text-anchor="middle">800</text>
<text x="258.5" y="1301.2" font-size="52.5" class="t" text-anchor="end">5000</text>
<text x="258.5" y="1454.1" font-size="52.5" class="t" text-anchor="end">4000</text>
<text x="258.5" y="1607.0" font-size="52.5" class="t" text-anchor="end">3000</text>
<text x="258.5" y="1759.9" font-size="52.5" class="t" text-anchor="end">2000</text>
<text x="258.5" y="1912.8" font-size="52.5" class="t" text-anchor="end">1000</text>
<text x="499.6" y="2112" font-size="52.5" class="t" text-anchor="middle">50</text>
<text x="725.3" y="2112" font-size="52.5" class="t" text-anchor="middle">100</text>
<text x="950.9" y="2112" font-size="52.5" class="t" text-anchor="middle">150</text>
<text x="1176.5" y="2112" font-size="52.5" class="t" text-anchor="middle">200</text>
<text x="1402.2" y="2112" font-size="52.5" class="t" text-anchor="middle">250</text>
<text x="1627.8" y="2112" font-size="52.5" class="t" text-anchor="middle">300</text>
<text x="1853.4" y="2112" font-size="52.5" class="t" text-anchor="middle">350</text>
<text x="2079.0" y="2112" font-size="52.5" class="t" text-anchor="middle">400</text>
<text x="1229.8" y="987.2" font-size="57.6" class="t" text-anchor="middle">Time (s)</text>
<text x="1217.5" y="2180" font-size="57.6" class="t" text-anchor="middle">Time (s)</text>
<text transform="translate(131.2,461.5) rotate(-90)" font-size="57.6" class="t" text-anchor="middle">Delay (ns)</text>
<text transform="translate(130.2,1654.5) rotate(-90)" font-size="57.6" class="t" text-anchor="middle">Delay (ns)</text>
<text transform="translate(2330.2,817.6) scale(.955,1)" font-size="46" class="t">-90</text>
<text transform="translate(2330.2,730.2) scale(.955,1)" font-size="46" class="t">-80</text>
<text transform="translate(2330.2,642.9) scale(.955,1)" font-size="46" class="t">-70</text>
<text transform="translate(2330.2,555.5) scale(.955,1)" font-size="46" class="t">-60</text>
<text transform="translate(2330.2,468.2) scale(.955,1)" font-size="46" class="t">-50</text>
<text transform="translate(2330.2,380.8) scale(.955,1)" font-size="46" class="t">-40</text>
<text transform="translate(2330.2,293.4) scale(.955,1)" font-size="46" class="t">-30</text>
<text transform="translate(2330.2,206.1) scale(.955,1)" font-size="46" class="t">-20</text>
<text transform="translate(2330.2,118.7) scale(.955,1)" font-size="46" class="t">-10</text>
<text transform="translate(2292.2,1990.1) scale(.955,1)" font-size="46" class="t">-90</text>
<text transform="translate(2292.2,1888.7) scale(.955,1)" font-size="46" class="t">-80</text>
<text transform="translate(2292.2,1787.2) scale(.955,1)" font-size="46" class="t">-70</text>
<text transform="translate(2292.2,1685.8) scale(.955,1)" font-size="46" class="t">-60</text>
<text transform="translate(2292.2,1584.3) scale(.955,1)" font-size="46" class="t">-50</text>
<text transform="translate(2292.2,1482.9) scale(.955,1)" font-size="46" class="t">-40</text>
<text transform="translate(2292.2,1381.4) scale(.955,1)" font-size="46" class="t">-30</text>
<text transform="translate(2451.4,469.8) rotate(-90)" font-size="53.1" class="t" text-anchor="middle">PDP in dB</text>
<text transform="translate(2414.3,1662.7) rotate(-90)" font-size="53.1" class="t" text-anchor="middle">PDP in dB</text>
<text y="1099" fill="#000"><tspan x="1239.4" font-size="85">(</tspan><tspan x="1267.8" font-size="81" font-weight="bold">a</tspan><tspan x="1308.3" font-size="85">)</tspan></text>
<text y="2290.8" fill="#000"><tspan x="1234.8" font-size="85">(</tspan><tspan x="1262" font-size="85" font-weight="bold">b</tspan><tspan x="1313.5" font-size="85">)</tspan></text>
<text x="1138" y="266.2" font-size="52" class="w" text-anchor="start">Reflection paths</text>
<text transform="translate(328.6,779.8) scale(.945,1)" font-size="46" class="w">Area I</text>
<text transform="translate(1153.2,571.1) scale(.945,1)" font-size="46" class="w">Area II</text>
<text transform="translate(1821.2,377.2) scale(.945,1)" font-size="46" class="w">Area III</text>
<text transform="translate(1319.5,656.6) rotate(-14.1)" font-size="52" class="w">LOS path</text>
<text transform="translate(293.2,1800.3) scale(.958,1)" font-size="55" class="w">Area i</text>
<text transform="translate(590,1632.7) scale(.958,1)" font-size="55" class="w">Area ii</text>
<text transform="translate(1084.3,1748.4) scale(.958,1)" font-size="55" class="w">Area iii</text>
<text x="1288.3" y="1937.7" font-size="52" class="w" text-anchor="start">LOS path</text>
<text transform="translate(787,1869) rotate(-44.8)" font-size="52" class="w">Reflection path</text>
</svg>
</body></html>
